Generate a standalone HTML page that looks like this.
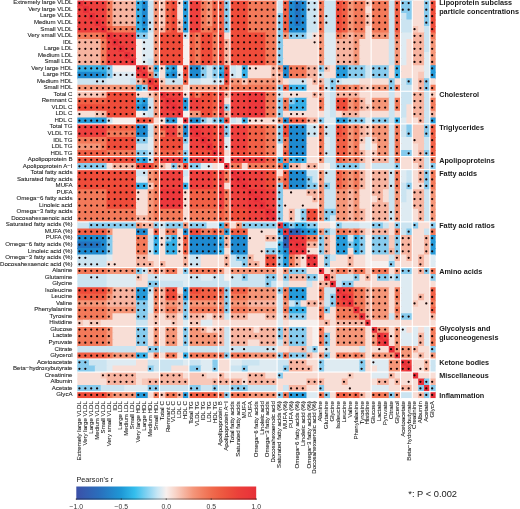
<!DOCTYPE html>
<html><head><meta charset="utf-8"><style>
html,body{margin:0;padding:0;background:#fff;width:520px;height:509px;overflow:hidden;}
</style></head><body>
<svg width="520" height="509" viewBox="0 0 520 509" style="display:block;will-change:transform">
<rect width="520" height="509" fill="#ffffff"/>
<g>
<clipPath id="hm"><rect x="77.20" y="0.5" width="358.60" height="397.67"/></clipPath>
<g clip-path="url(#hm)">
<path d="M77.2 -0.16h6.88v7.53h-6.88z" fill="#e8303a"/>
<path d="M83.08 -0.16h24.51v7.53h-24.51z" fill="#ee403e"/>
<path d="M106.59 -0.16h6.88v7.53h-6.88z" fill="#f37a5a"/>
<path d="M112.47 -0.16h24.51v7.53h-24.51z" fill="#f7b4a0"/>
<path d="M135.99 -0.16h6.88v7.53h-6.88z" fill="#37afe6"/>
<path d="M141.87 -0.16h6.88v7.53h-6.88z" fill="#1e8ad0"/>
<path d="M147.74 -0.16h6.88v7.53h-6.88z" fill="#cbe4f1"/>
<path d="M153.62 -0.16h6.88v7.53h-6.88z" fill="#f59678"/>
<path d="M159.5 -0.16h6.88v7.53h-6.88z" fill="#f8c8b9"/>
<path d="M165.38 -0.16h6.88v7.53h-6.88z" fill="#f16046"/>
<path d="M171.26 -0.16h6.88v7.53h-6.88z" fill="#ef4c3a"/>
<path d="M177.14 -0.16h6.88v7.53h-6.88z" fill="#f8ded6"/>
<path d="M183.02 -0.16h6.88v7.53h-6.88z" fill="#269bda"/>
<path d="M188.9 -0.16h12.76v7.53h-12.76z" fill="#ee403e"/>
<path d="M200.65 -0.16h6.88v7.53h-6.88z" fill="#f37a5a"/>
<path d="M206.53 -0.16h6.88v7.53h-6.88z" fill="#f59678"/>
<path d="M212.41 -0.16h12.76v7.53h-12.76z" fill="#f16046"/>
<path d="M224.17 -0.16h6.88v7.53h-6.88z" fill="#87cbed"/>
<path d="M230.05 -0.16h18.64v7.53h-18.64z" fill="#ef4c3a"/>
<path d="M247.68 -0.16h30.39v7.53h-30.39z" fill="#f37a5a"/>
<path d="M277.08 -0.16h6.88v7.53h-6.88z" fill="#cbe4f1"/>
<path d="M282.95 -0.16h6.88v7.53h-6.88z" fill="#f16046"/>
<path d="M288.83 -0.16h6.88v7.53h-6.88z" fill="#1e8ad0"/>
<path d="M294.71 -0.16h6.88v7.53h-6.88z" fill="#2373c0"/>
<path d="M300.59 -0.16h6.88v7.53h-6.88z" fill="#1e8ad0"/>
<path d="M306.47 -0.16h12.76v7.53h-12.76z" fill="#cbe4f1"/>
<path d="M318.23 -0.16h6.88v7.53h-6.88z" fill="#f37a5a"/>
<path d="M324.1 -0.16h12.76v7.53h-12.76z" fill="#cbe4f1"/>
<path d="M335.86 -0.16h6.88v7.53h-6.88z" fill="#ef4c3a"/>
<path d="M341.74 -0.16h6.88v7.53h-6.88z" fill="#f16046"/>
<path d="M347.62 -0.16h6.88v7.53h-6.88z" fill="#f59678"/>
<path d="M353.5 -0.16h12.76v7.53h-12.76z" fill="#f37a5a"/>
<path d="M365.26 -0.16h6.88v7.53h-6.88z" fill="#f8c8b9"/>
<path d="M371.13 -0.16h18.64v7.53h-18.64z" fill="#f37a5a"/>
<path d="M388.77 -0.16h6.88v7.53h-6.88z" fill="#cbe4f1"/>
<path d="M394.65 -0.16h6.88v7.53h-6.88z" fill="#f16046"/>
<path d="M400.53 -0.16h12.76v7.53h-12.76z" fill="#87cbed"/>
<path d="M412.29 -0.16h12.76v7.53h-12.76z" fill="#f8ded6"/>
<path d="M424.04 -0.16h6.88v7.53h-6.88z" fill="#87cbed"/>
<path d="M429.92 -0.16h5.88v7.53h-5.88z" fill="#ef4c3a"/>
<path d="M77.2 6.37h6.88v7.53h-6.88z" fill="#ee403e"/>
<path d="M83.08 6.37h6.88v7.53h-6.88z" fill="#e8303a"/>
<path d="M88.96 6.37h18.64v7.53h-18.64z" fill="#ee403e"/>
<path d="M106.59 6.37h6.88v7.53h-6.88z" fill="#f37a5a"/>
<path d="M112.47 6.37h24.51v7.53h-24.51z" fill="#f7b4a0"/>
<path d="M135.99 6.37h6.88v7.53h-6.88z" fill="#37afe6"/>
<path d="M141.87 6.37h6.88v7.53h-6.88z" fill="#1e8ad0"/>
<path d="M147.74 6.37h6.88v7.53h-6.88z" fill="#cbe4f1"/>
<path d="M153.62 6.37h6.88v7.53h-6.88z" fill="#f59678"/>
<path d="M159.5 6.37h6.88v7.53h-6.88z" fill="#f8c8b9"/>
<path d="M165.38 6.37h6.88v7.53h-6.88z" fill="#f16046"/>
<path d="M171.26 6.37h6.88v7.53h-6.88z" fill="#ef4c3a"/>
<path d="M177.14 6.37h6.88v7.53h-6.88z" fill="#f8ded6"/>
<path d="M183.02 6.37h6.88v7.53h-6.88z" fill="#269bda"/>
<path d="M188.9 6.37h12.76v7.53h-12.76z" fill="#ee403e"/>
<path d="M200.65 6.37h6.88v7.53h-6.88z" fill="#f37a5a"/>
<path d="M206.53 6.37h6.88v7.53h-6.88z" fill="#f59678"/>
<path d="M212.41 6.37h12.76v7.53h-12.76z" fill="#f16046"/>
<path d="M224.17 6.37h6.88v7.53h-6.88z" fill="#87cbed"/>
<path d="M230.05 6.37h18.64v7.53h-18.64z" fill="#ef4c3a"/>
<path d="M247.68 6.37h30.39v7.53h-30.39z" fill="#f37a5a"/>
<path d="M277.08 6.37h6.88v7.53h-6.88z" fill="#cbe4f1"/>
<path d="M282.95 6.37h6.88v7.53h-6.88z" fill="#f16046"/>
<path d="M288.83 6.37h6.88v7.53h-6.88z" fill="#1e8ad0"/>
<path d="M294.71 6.37h6.88v7.53h-6.88z" fill="#2373c0"/>
<path d="M300.59 6.37h6.88v7.53h-6.88z" fill="#1e8ad0"/>
<path d="M306.47 6.37h12.76v7.53h-12.76z" fill="#cbe4f1"/>
<path d="M318.23 6.37h6.88v7.53h-6.88z" fill="#f37a5a"/>
<path d="M324.1 6.37h12.76v7.53h-12.76z" fill="#cbe4f1"/>
<path d="M335.86 6.37h6.88v7.53h-6.88z" fill="#ef4c3a"/>
<path d="M341.74 6.37h6.88v7.53h-6.88z" fill="#f16046"/>
<path d="M347.62 6.37h6.88v7.53h-6.88z" fill="#f59678"/>
<path d="M353.5 6.37h12.76v7.53h-12.76z" fill="#f37a5a"/>
<path d="M365.26 6.37h6.88v7.53h-6.88z" fill="#f8ded6"/>
<path d="M371.13 6.37h18.64v7.53h-18.64z" fill="#f37a5a"/>
<path d="M388.77 6.37h6.88v7.53h-6.88z" fill="#cbe4f1"/>
<path d="M394.65 6.37h6.88v7.53h-6.88z" fill="#f16046"/>
<path d="M400.53 6.37h12.76v7.53h-12.76z" fill="#87cbed"/>
<path d="M412.29 6.37h12.76v7.53h-12.76z" fill="#f8ded6"/>
<path d="M424.04 6.37h6.88v7.53h-6.88z" fill="#87cbed"/>
<path d="M429.92 6.37h5.88v7.53h-5.88z" fill="#ef4c3a"/>
<path d="M77.2 12.9h12.76v7.53h-12.76z" fill="#ee403e"/>
<path d="M88.96 12.9h6.88v7.53h-6.88z" fill="#e8303a"/>
<path d="M94.84 12.9h12.76v7.53h-12.76z" fill="#ee403e"/>
<path d="M106.59 12.9h6.88v7.53h-6.88z" fill="#f37a5a"/>
<path d="M112.47 12.9h24.51v7.53h-24.51z" fill="#f7b4a0"/>
<path d="M135.99 12.9h6.88v7.53h-6.88z" fill="#37afe6"/>
<path d="M141.87 12.9h6.88v7.53h-6.88z" fill="#1e8ad0"/>
<path d="M147.74 12.9h6.88v7.53h-6.88z" fill="#cbe4f1"/>
<path d="M153.62 12.9h6.88v7.53h-6.88z" fill="#f59678"/>
<path d="M159.5 12.9h6.88v7.53h-6.88z" fill="#f8c8b9"/>
<path d="M165.38 12.9h6.88v7.53h-6.88z" fill="#f16046"/>
<path d="M171.26 12.9h6.88v7.53h-6.88z" fill="#ef4c3a"/>
<path d="M177.14 12.9h6.88v7.53h-6.88z" fill="#f8ded6"/>
<path d="M183.02 12.9h6.88v7.53h-6.88z" fill="#269bda"/>
<path d="M188.9 12.9h12.76v7.53h-12.76z" fill="#ee403e"/>
<path d="M200.65 12.9h6.88v7.53h-6.88z" fill="#f37a5a"/>
<path d="M206.53 12.9h6.88v7.53h-6.88z" fill="#f59678"/>
<path d="M212.41 12.9h12.76v7.53h-12.76z" fill="#f16046"/>
<path d="M224.17 12.9h6.88v7.53h-6.88z" fill="#87cbed"/>
<path d="M230.05 12.9h18.64v7.53h-18.64z" fill="#ef4c3a"/>
<path d="M247.68 12.9h30.39v7.53h-30.39z" fill="#f37a5a"/>
<path d="M277.08 12.9h6.88v7.53h-6.88z" fill="#87cbed"/>
<path d="M282.95 12.9h6.88v7.53h-6.88z" fill="#f16046"/>
<path d="M288.83 12.9h6.88v7.53h-6.88z" fill="#1e8ad0"/>
<path d="M294.71 12.9h6.88v7.53h-6.88z" fill="#2373c0"/>
<path d="M300.59 12.9h6.88v7.53h-6.88z" fill="#1e8ad0"/>
<path d="M306.47 12.9h12.76v7.53h-12.76z" fill="#cbe4f1"/>
<path d="M318.23 12.9h6.88v7.53h-6.88z" fill="#f37a5a"/>
<path d="M324.1 12.9h12.76v7.53h-12.76z" fill="#cbe4f1"/>
<path d="M335.86 12.9h6.88v7.53h-6.88z" fill="#ef4c3a"/>
<path d="M341.74 12.9h6.88v7.53h-6.88z" fill="#f16046"/>
<path d="M347.62 12.9h6.88v7.53h-6.88z" fill="#f59678"/>
<path d="M353.5 12.9h12.76v7.53h-12.76z" fill="#f37a5a"/>
<path d="M365.26 12.9h6.88v7.53h-6.88z" fill="#f8c8b9"/>
<path d="M371.13 12.9h18.64v7.53h-18.64z" fill="#f37a5a"/>
<path d="M388.77 12.9h6.88v7.53h-6.88z" fill="#cbe4f1"/>
<path d="M394.65 12.9h6.88v7.53h-6.88z" fill="#f16046"/>
<path d="M400.53 12.9h6.88v7.53h-6.88z" fill="#cbe4f1"/>
<path d="M406.41 12.9h6.88v7.53h-6.88z" fill="#87cbed"/>
<path d="M412.29 12.9h12.76v7.53h-12.76z" fill="#f8ded6"/>
<path d="M424.04 12.9h6.88v7.53h-6.88z" fill="#87cbed"/>
<path d="M429.92 12.9h5.88v7.53h-5.88z" fill="#ef4c3a"/>
<path d="M77.2 19.43h18.64v7.53h-18.64z" fill="#ee403e"/>
<path d="M94.84 19.43h6.88v7.53h-6.88z" fill="#e8303a"/>
<path d="M100.71 19.43h6.88v7.53h-6.88z" fill="#ee403e"/>
<path d="M106.59 19.43h6.88v7.53h-6.88z" fill="#f37a5a"/>
<path d="M112.47 19.43h24.51v7.53h-24.51z" fill="#f7b4a0"/>
<path d="M135.99 19.43h6.88v7.53h-6.88z" fill="#37afe6"/>
<path d="M141.87 19.43h6.88v7.53h-6.88z" fill="#1e8ad0"/>
<path d="M147.74 19.43h6.88v7.53h-6.88z" fill="#cbe4f1"/>
<path d="M153.62 19.43h6.88v7.53h-6.88z" fill="#f59678"/>
<path d="M159.5 19.43h6.88v7.53h-6.88z" fill="#f8c8b9"/>
<path d="M165.38 19.43h6.88v7.53h-6.88z" fill="#f16046"/>
<path d="M171.26 19.43h6.88v7.53h-6.88z" fill="#ef4c3a"/>
<path d="M177.14 19.43h6.88v7.53h-6.88z" fill="#f8c8b9"/>
<path d="M183.02 19.43h6.88v7.53h-6.88z" fill="#269bda"/>
<path d="M188.9 19.43h12.76v7.53h-12.76z" fill="#ee403e"/>
<path d="M200.65 19.43h6.88v7.53h-6.88z" fill="#f37a5a"/>
<path d="M206.53 19.43h6.88v7.53h-6.88z" fill="#f59678"/>
<path d="M212.41 19.43h12.76v7.53h-12.76z" fill="#f16046"/>
<path d="M224.17 19.43h6.88v7.53h-6.88z" fill="#87cbed"/>
<path d="M230.05 19.43h18.64v7.53h-18.64z" fill="#ef4c3a"/>
<path d="M247.68 19.43h30.39v7.53h-30.39z" fill="#f37a5a"/>
<path d="M277.08 19.43h6.88v7.53h-6.88z" fill="#87cbed"/>
<path d="M282.95 19.43h6.88v7.53h-6.88z" fill="#f16046"/>
<path d="M288.83 19.43h6.88v7.53h-6.88z" fill="#1e8ad0"/>
<path d="M294.71 19.43h6.88v7.53h-6.88z" fill="#2373c0"/>
<path d="M300.59 19.43h6.88v7.53h-6.88z" fill="#1e8ad0"/>
<path d="M306.47 19.43h12.76v7.53h-12.76z" fill="#cbe4f1"/>
<path d="M318.23 19.43h6.88v7.53h-6.88z" fill="#f37a5a"/>
<path d="M324.1 19.43h12.76v7.53h-12.76z" fill="#cbe4f1"/>
<path d="M335.86 19.43h6.88v7.53h-6.88z" fill="#ef4c3a"/>
<path d="M341.74 19.43h6.88v7.53h-6.88z" fill="#f16046"/>
<path d="M347.62 19.43h6.88v7.53h-6.88z" fill="#f59678"/>
<path d="M353.5 19.43h12.76v7.53h-12.76z" fill="#f37a5a"/>
<path d="M365.26 19.43h6.88v7.53h-6.88z" fill="#f8c8b9"/>
<path d="M371.13 19.43h18.64v7.53h-18.64z" fill="#f37a5a"/>
<path d="M388.77 19.43h6.88v7.53h-6.88z" fill="#cbe4f1"/>
<path d="M394.65 19.43h6.88v7.53h-6.88z" fill="#f16046"/>
<path d="M400.53 19.43h12.76v7.53h-12.76z" fill="#cbe4f1"/>
<path d="M412.29 19.43h12.76v7.53h-12.76z" fill="#f8ded6"/>
<path d="M424.04 19.43h6.88v7.53h-6.88z" fill="#87cbed"/>
<path d="M429.92 19.43h5.88v7.53h-5.88z" fill="#ef4c3a"/>
<path d="M77.2 25.96h24.51v7.53h-24.51z" fill="#ee403e"/>
<path d="M100.71 25.96h6.88v7.53h-6.88z" fill="#e8303a"/>
<path d="M106.59 25.96h6.88v7.53h-6.88z" fill="#f16046"/>
<path d="M112.47 25.96h24.51v7.53h-24.51z" fill="#f37a5a"/>
<path d="M135.99 25.96h6.88v7.53h-6.88z" fill="#37afe6"/>
<path d="M141.87 25.96h6.88v7.53h-6.88z" fill="#269bda"/>
<path d="M147.74 25.96h6.88v7.53h-6.88z" fill="#cbe4f1"/>
<path d="M153.62 25.96h6.88v7.53h-6.88z" fill="#f59678"/>
<path d="M159.5 25.96h6.88v7.53h-6.88z" fill="#f7b4a0"/>
<path d="M165.38 25.96h6.88v7.53h-6.88z" fill="#f16046"/>
<path d="M171.26 25.96h6.88v7.53h-6.88z" fill="#ef4c3a"/>
<path d="M177.14 25.96h6.88v7.53h-6.88z" fill="#f7b4a0"/>
<path d="M183.02 25.96h6.88v7.53h-6.88z" fill="#269bda"/>
<path d="M188.9 25.96h12.76v7.53h-12.76z" fill="#ee403e"/>
<path d="M200.65 25.96h12.76v7.53h-12.76z" fill="#f37a5a"/>
<path d="M212.41 25.96h12.76v7.53h-12.76z" fill="#f16046"/>
<path d="M224.17 25.96h6.88v7.53h-6.88z" fill="#87cbed"/>
<path d="M230.05 25.96h18.64v7.53h-18.64z" fill="#ef4c3a"/>
<path d="M247.68 25.96h30.39v7.53h-30.39z" fill="#f37a5a"/>
<path d="M277.08 25.96h6.88v7.53h-6.88z" fill="#87cbed"/>
<path d="M282.95 25.96h6.88v7.53h-6.88z" fill="#f16046"/>
<path d="M288.83 25.96h18.64v7.53h-18.64z" fill="#1e8ad0"/>
<path d="M306.47 25.96h12.76v7.53h-12.76z" fill="#cbe4f1"/>
<path d="M318.23 25.96h6.88v7.53h-6.88z" fill="#f37a5a"/>
<path d="M324.1 25.96h12.76v7.53h-12.76z" fill="#cbe4f1"/>
<path d="M335.86 25.96h6.88v7.53h-6.88z" fill="#ef4c3a"/>
<path d="M341.74 25.96h6.88v7.53h-6.88z" fill="#f16046"/>
<path d="M347.62 25.96h6.88v7.53h-6.88z" fill="#f59678"/>
<path d="M353.5 25.96h12.76v7.53h-12.76z" fill="#f37a5a"/>
<path d="M365.26 25.96h6.88v7.53h-6.88z" fill="#f8ded6"/>
<path d="M371.13 25.96h18.64v7.53h-18.64z" fill="#f37a5a"/>
<path d="M388.77 25.96h6.88v7.53h-6.88z" fill="#cbe4f1"/>
<path d="M394.65 25.96h6.88v7.53h-6.88z" fill="#f16046"/>
<path d="M400.53 25.96h12.76v7.53h-12.76z" fill="#cbe4f1"/>
<path d="M412.29 25.96h6.88v7.53h-6.88z" fill="#f8c8b9"/>
<path d="M418.16 25.96h6.88v7.53h-6.88z" fill="#f8ded6"/>
<path d="M424.04 25.96h6.88v7.53h-6.88z" fill="#cbe4f1"/>
<path d="M429.92 25.96h5.88v7.53h-5.88z" fill="#ef4c3a"/>
<path d="M77.2 32.49h24.51v7.53h-24.51z" fill="#f37a5a"/>
<path d="M100.71 32.49h6.88v7.53h-6.88z" fill="#f16046"/>
<path d="M106.59 32.49h6.88v7.53h-6.88z" fill="#e8303a"/>
<path d="M112.47 32.49h24.51v7.53h-24.51z" fill="#ee403e"/>
<path d="M135.99 32.49h12.76v7.53h-12.76z" fill="#87cbed"/>
<path d="M147.74 32.49h6.88v7.53h-6.88z" fill="#deebf2"/>
<path d="M153.62 32.49h6.88v7.53h-6.88z" fill="#f59678"/>
<path d="M159.5 32.49h24.51v7.53h-24.51z" fill="#ef4c3a"/>
<path d="M183.02 32.49h6.88v7.53h-6.88z" fill="#cbe4f1"/>
<path d="M188.9 32.49h6.88v7.53h-6.88z" fill="#f16046"/>
<path d="M194.77 32.49h6.88v7.53h-6.88z" fill="#f37a5a"/>
<path d="M200.65 32.49h12.76v7.53h-12.76z" fill="#ef4c3a"/>
<path d="M212.41 32.49h6.88v7.53h-6.88z" fill="#f37a5a"/>
<path d="M218.29 32.49h6.88v7.53h-6.88z" fill="#ef4c3a"/>
<path d="M224.17 32.49h6.88v7.53h-6.88z" fill="#f8ded6"/>
<path d="M230.05 32.49h36.27v7.53h-36.27z" fill="#ef4c3a"/>
<path d="M265.32 32.49h12.76v7.53h-12.76z" fill="#f37a5a"/>
<path d="M277.08 32.49h6.88v7.53h-6.88z" fill="#87cbed"/>
<path d="M282.95 32.49h6.88v7.53h-6.88z" fill="#f59678"/>
<path d="M288.83 32.49h18.64v7.53h-18.64z" fill="#87cbed"/>
<path d="M306.47 32.49h6.88v7.53h-6.88z" fill="#deebf2"/>
<path d="M312.35 32.49h6.88v7.53h-6.88z" fill="#f8ded6"/>
<path d="M318.23 32.49h6.88v7.53h-6.88z" fill="#f59678"/>
<path d="M324.1 32.49h12.76v7.53h-12.76z" fill="#deebf2"/>
<path d="M335.86 32.49h6.88v7.53h-6.88z" fill="#f37a5a"/>
<path d="M341.74 32.49h6.88v7.53h-6.88z" fill="#f59678"/>
<path d="M347.62 32.49h6.88v7.53h-6.88z" fill="#f7b4a0"/>
<path d="M353.5 32.49h12.76v7.53h-12.76z" fill="#f59678"/>
<path d="M365.26 32.49h6.88v7.53h-6.88z" fill="#f8ded6"/>
<path d="M371.13 32.49h18.64v7.53h-18.64z" fill="#f59678"/>
<path d="M388.77 32.49h6.88v7.53h-6.88z" fill="#cbe4f1"/>
<path d="M394.65 32.49h6.88v7.53h-6.88z" fill="#f37a5a"/>
<path d="M400.53 32.49h12.76v7.53h-12.76z" fill="#deebf2"/>
<path d="M412.29 32.49h12.76v7.53h-12.76z" fill="#f7b4a0"/>
<path d="M424.04 32.49h6.88v7.53h-6.88z" fill="#cbe4f1"/>
<path d="M429.92 32.49h5.88v7.53h-5.88z" fill="#f37a5a"/>
<path d="M77.2 39.02h24.51v7.53h-24.51z" fill="#f7b4a0"/>
<path d="M100.71 39.02h6.88v7.53h-6.88z" fill="#f37a5a"/>
<path d="M106.59 39.02h6.88v7.53h-6.88z" fill="#ee403e"/>
<path d="M112.47 39.02h6.88v7.53h-6.88z" fill="#e8303a"/>
<path d="M118.35 39.02h18.64v7.53h-18.64z" fill="#ee403e"/>
<path d="M135.99 39.02h6.88v7.53h-6.88z" fill="#f6f0ee"/>
<path d="M141.87 39.02h12.76v7.53h-12.76z" fill="#deebf2"/>
<path d="M153.62 39.02h6.88v7.53h-6.88z" fill="#f59678"/>
<path d="M159.5 39.02h24.51v7.53h-24.51z" fill="#ef4c3a"/>
<path d="M183.02 39.02h6.88v7.53h-6.88z" fill="#f6f0ee"/>
<path d="M188.9 39.02h6.88v7.53h-6.88z" fill="#f16046"/>
<path d="M194.77 39.02h6.88v7.53h-6.88z" fill="#f37a5a"/>
<path d="M200.65 39.02h12.76v7.53h-12.76z" fill="#ef4c3a"/>
<path d="M212.41 39.02h6.88v7.53h-6.88z" fill="#f37a5a"/>
<path d="M218.29 39.02h6.88v7.53h-6.88z" fill="#ef4c3a"/>
<path d="M224.17 39.02h6.88v7.53h-6.88z" fill="#f7b4a0"/>
<path d="M230.05 39.02h36.27v7.53h-36.27z" fill="#ef4c3a"/>
<path d="M265.32 39.02h12.76v7.53h-12.76z" fill="#f37a5a"/>
<path d="M277.08 39.02h6.88v7.53h-6.88z" fill="#87cbed"/>
<path d="M282.95 39.02h36.27v7.53h-36.27z" fill="#f8ded6"/>
<path d="M318.23 39.02h6.88v7.53h-6.88z" fill="#f59678"/>
<path d="M324.1 39.02h12.76v7.53h-12.76z" fill="#deebf2"/>
<path d="M335.86 39.02h18.64v7.53h-18.64z" fill="#f7b4a0"/>
<path d="M353.5 39.02h6.88v7.53h-6.88z" fill="#f59678"/>
<path d="M359.38 39.02h30.39v7.53h-30.39z" fill="#f8ded6"/>
<path d="M388.77 39.02h6.88v7.53h-6.88z" fill="#cbe4f1"/>
<path d="M394.65 39.02h6.88v7.53h-6.88z" fill="#f59678"/>
<path d="M400.53 39.02h6.88v7.53h-6.88z" fill="#deebf2"/>
<path d="M406.41 39.02h6.88v7.53h-6.88z" fill="#f8ded6"/>
<path d="M412.29 39.02h12.76v7.53h-12.76z" fill="#f7b4a0"/>
<path d="M424.04 39.02h6.88v7.53h-6.88z" fill="#cbe4f1"/>
<path d="M429.92 39.02h5.88v7.53h-5.88z" fill="#f59678"/>
<path d="M77.2 45.55h24.51v7.53h-24.51z" fill="#f7b4a0"/>
<path d="M100.71 45.55h6.88v7.53h-6.88z" fill="#f37a5a"/>
<path d="M106.59 45.55h12.76v7.53h-12.76z" fill="#ee403e"/>
<path d="M118.35 45.55h6.88v7.53h-6.88z" fill="#e8303a"/>
<path d="M124.23 45.55h12.76v7.53h-12.76z" fill="#ee403e"/>
<path d="M135.99 45.55h6.88v7.53h-6.88z" fill="#f6f0ee"/>
<path d="M141.87 45.55h12.76v7.53h-12.76z" fill="#deebf2"/>
<path d="M153.62 45.55h6.88v7.53h-6.88z" fill="#f59678"/>
<path d="M159.5 45.55h24.51v7.53h-24.51z" fill="#ef4c3a"/>
<path d="M183.02 45.55h6.88v7.53h-6.88z" fill="#f6f0ee"/>
<path d="M188.9 45.55h6.88v7.53h-6.88z" fill="#f16046"/>
<path d="M194.77 45.55h6.88v7.53h-6.88z" fill="#f37a5a"/>
<path d="M200.65 45.55h12.76v7.53h-12.76z" fill="#ef4c3a"/>
<path d="M212.41 45.55h6.88v7.53h-6.88z" fill="#f37a5a"/>
<path d="M218.29 45.55h6.88v7.53h-6.88z" fill="#ef4c3a"/>
<path d="M224.17 45.55h6.88v7.53h-6.88z" fill="#f7b4a0"/>
<path d="M230.05 45.55h36.27v7.53h-36.27z" fill="#ef4c3a"/>
<path d="M265.32 45.55h12.76v7.53h-12.76z" fill="#f37a5a"/>
<path d="M277.08 45.55h6.88v7.53h-6.88z" fill="#87cbed"/>
<path d="M282.95 45.55h36.27v7.53h-36.27z" fill="#f8ded6"/>
<path d="M318.23 45.55h6.88v7.53h-6.88z" fill="#f59678"/>
<path d="M324.1 45.55h12.76v7.53h-12.76z" fill="#deebf2"/>
<path d="M335.86 45.55h18.64v7.53h-18.64z" fill="#f7b4a0"/>
<path d="M353.5 45.55h6.88v7.53h-6.88z" fill="#f59678"/>
<path d="M359.38 45.55h30.39v7.53h-30.39z" fill="#f8ded6"/>
<path d="M388.77 45.55h6.88v7.53h-6.88z" fill="#cbe4f1"/>
<path d="M394.65 45.55h6.88v7.53h-6.88z" fill="#f59678"/>
<path d="M400.53 45.55h6.88v7.53h-6.88z" fill="#deebf2"/>
<path d="M406.41 45.55h6.88v7.53h-6.88z" fill="#f8ded6"/>
<path d="M412.29 45.55h12.76v7.53h-12.76z" fill="#f7b4a0"/>
<path d="M424.04 45.55h6.88v7.53h-6.88z" fill="#cbe4f1"/>
<path d="M429.92 45.55h5.88v7.53h-5.88z" fill="#f59678"/>
<path d="M77.2 52.08h24.51v7.53h-24.51z" fill="#f7b4a0"/>
<path d="M100.71 52.08h6.88v7.53h-6.88z" fill="#f37a5a"/>
<path d="M106.59 52.08h18.64v7.53h-18.64z" fill="#ee403e"/>
<path d="M124.23 52.08h6.88v7.53h-6.88z" fill="#e8303a"/>
<path d="M130.11 52.08h6.88v7.53h-6.88z" fill="#ee403e"/>
<path d="M135.99 52.08h6.88v7.53h-6.88z" fill="#f6f0ee"/>
<path d="M141.87 52.08h12.76v7.53h-12.76z" fill="#deebf2"/>
<path d="M153.62 52.08h6.88v7.53h-6.88z" fill="#f59678"/>
<path d="M159.5 52.08h24.51v7.53h-24.51z" fill="#ef4c3a"/>
<path d="M183.02 52.08h6.88v7.53h-6.88z" fill="#f6f0ee"/>
<path d="M188.9 52.08h6.88v7.53h-6.88z" fill="#f16046"/>
<path d="M194.77 52.08h6.88v7.53h-6.88z" fill="#f37a5a"/>
<path d="M200.65 52.08h12.76v7.53h-12.76z" fill="#ef4c3a"/>
<path d="M212.41 52.08h6.88v7.53h-6.88z" fill="#f37a5a"/>
<path d="M218.29 52.08h6.88v7.53h-6.88z" fill="#ef4c3a"/>
<path d="M224.17 52.08h6.88v7.53h-6.88z" fill="#f7b4a0"/>
<path d="M230.05 52.08h36.27v7.53h-36.27z" fill="#ef4c3a"/>
<path d="M265.32 52.08h12.76v7.53h-12.76z" fill="#f37a5a"/>
<path d="M277.08 52.08h6.88v7.53h-6.88z" fill="#87cbed"/>
<path d="M282.95 52.08h36.27v7.53h-36.27z" fill="#f8ded6"/>
<path d="M318.23 52.08h6.88v7.53h-6.88z" fill="#f59678"/>
<path d="M324.1 52.08h12.76v7.53h-12.76z" fill="#deebf2"/>
<path d="M335.86 52.08h18.64v7.53h-18.64z" fill="#f7b4a0"/>
<path d="M353.5 52.08h6.88v7.53h-6.88z" fill="#f59678"/>
<path d="M359.38 52.08h30.39v7.53h-30.39z" fill="#f8ded6"/>
<path d="M388.77 52.08h6.88v7.53h-6.88z" fill="#cbe4f1"/>
<path d="M394.65 52.08h6.88v7.53h-6.88z" fill="#f59678"/>
<path d="M400.53 52.08h6.88v7.53h-6.88z" fill="#deebf2"/>
<path d="M406.41 52.08h6.88v7.53h-6.88z" fill="#f8ded6"/>
<path d="M412.29 52.08h12.76v7.53h-12.76z" fill="#f7b4a0"/>
<path d="M424.04 52.08h6.88v7.53h-6.88z" fill="#deebf2"/>
<path d="M429.92 52.08h5.88v7.53h-5.88z" fill="#f59678"/>
<path d="M77.2 58.61h24.51v7.53h-24.51z" fill="#f7b4a0"/>
<path d="M100.71 58.61h6.88v7.53h-6.88z" fill="#f37a5a"/>
<path d="M106.59 58.61h24.51v7.53h-24.51z" fill="#ee403e"/>
<path d="M130.11 58.61h6.88v7.53h-6.88z" fill="#e8303a"/>
<path d="M135.99 58.61h6.88v7.53h-6.88z" fill="#f6f0ee"/>
<path d="M141.87 58.61h6.88v7.53h-6.88z" fill="#deebf2"/>
<path d="M147.74 58.61h6.88v7.53h-6.88z" fill="#cbe4f1"/>
<path d="M153.62 58.61h6.88v7.53h-6.88z" fill="#f59678"/>
<path d="M159.5 58.61h24.51v7.53h-24.51z" fill="#ef4c3a"/>
<path d="M183.02 58.61h6.88v7.53h-6.88z" fill="#f6f0ee"/>
<path d="M188.9 58.61h6.88v7.53h-6.88z" fill="#f16046"/>
<path d="M194.77 58.61h6.88v7.53h-6.88z" fill="#f37a5a"/>
<path d="M200.65 58.61h12.76v7.53h-12.76z" fill="#ef4c3a"/>
<path d="M212.41 58.61h6.88v7.53h-6.88z" fill="#f37a5a"/>
<path d="M218.29 58.61h6.88v7.53h-6.88z" fill="#ef4c3a"/>
<path d="M224.17 58.61h6.88v7.53h-6.88z" fill="#f7b4a0"/>
<path d="M230.05 58.61h36.27v7.53h-36.27z" fill="#ef4c3a"/>
<path d="M265.32 58.61h12.76v7.53h-12.76z" fill="#f37a5a"/>
<path d="M277.08 58.61h6.88v7.53h-6.88z" fill="#87cbed"/>
<path d="M282.95 58.61h36.27v7.53h-36.27z" fill="#f8ded6"/>
<path d="M318.23 58.61h6.88v7.53h-6.88z" fill="#f59678"/>
<path d="M324.1 58.61h12.76v7.53h-12.76z" fill="#deebf2"/>
<path d="M335.86 58.61h18.64v7.53h-18.64z" fill="#f7b4a0"/>
<path d="M353.5 58.61h6.88v7.53h-6.88z" fill="#f59678"/>
<path d="M359.38 58.61h30.39v7.53h-30.39z" fill="#f8ded6"/>
<path d="M388.77 58.61h6.88v7.53h-6.88z" fill="#cbe4f1"/>
<path d="M394.65 58.61h6.88v7.53h-6.88z" fill="#f59678"/>
<path d="M400.53 58.61h6.88v7.53h-6.88z" fill="#deebf2"/>
<path d="M406.41 58.61h6.88v7.53h-6.88z" fill="#f8ded6"/>
<path d="M412.29 58.61h12.76v7.53h-12.76z" fill="#f7b4a0"/>
<path d="M424.04 58.61h6.88v7.53h-6.88z" fill="#deebf2"/>
<path d="M429.92 58.61h5.88v7.53h-5.88z" fill="#f59678"/>
<path d="M77.2 65.14h30.39v7.53h-30.39z" fill="#37afe6"/>
<path d="M106.59 65.14h6.88v7.53h-6.88z" fill="#87cbed"/>
<path d="M112.47 65.14h24.51v7.53h-24.51z" fill="#f6f0ee"/>
<path d="M135.99 65.14h6.88v7.53h-6.88z" fill="#e8303a"/>
<path d="M141.87 65.14h6.88v7.53h-6.88z" fill="#ee403e"/>
<path d="M147.74 65.14h6.88v7.53h-6.88z" fill="#f7b4a0"/>
<path d="M153.62 65.14h6.88v7.53h-6.88z" fill="#37afe6"/>
<path d="M159.5 65.14h6.88v7.53h-6.88z" fill="#f8ded6"/>
<path d="M165.38 65.14h6.88v7.53h-6.88z" fill="#37afe6"/>
<path d="M171.26 65.14h6.88v7.53h-6.88z" fill="#269bda"/>
<path d="M177.14 65.14h6.88v7.53h-6.88z" fill="#f6f0ee"/>
<path d="M183.02 65.14h6.88v7.53h-6.88z" fill="#ef4c3a"/>
<path d="M188.9 65.14h12.76v7.53h-12.76z" fill="#1e8ad0"/>
<path d="M200.65 65.14h6.88v7.53h-6.88z" fill="#87cbed"/>
<path d="M206.53 65.14h6.88v7.53h-6.88z" fill="#cbe4f1"/>
<path d="M212.41 65.14h6.88v7.53h-6.88z" fill="#87cbed"/>
<path d="M218.29 65.14h6.88v7.53h-6.88z" fill="#37afe6"/>
<path d="M224.17 65.14h6.88v7.53h-6.88z" fill="#ef4c3a"/>
<path d="M230.05 65.14h6.88v7.53h-6.88z" fill="#cbe4f1"/>
<path d="M235.92 65.14h6.88v7.53h-6.88z" fill="#deebf2"/>
<path d="M241.8 65.14h6.88v7.53h-6.88z" fill="#37afe6"/>
<path d="M247.68 65.14h24.51v7.53h-24.51z" fill="#f8ded6"/>
<path d="M271.2 65.14h6.88v7.53h-6.88z" fill="#f7b4a0"/>
<path d="M277.08 65.14h6.88v7.53h-6.88z" fill="#f59678"/>
<path d="M282.95 65.14h6.88v7.53h-6.88z" fill="#1e8ad0"/>
<path d="M288.83 65.14h18.64v7.53h-18.64z" fill="#f37a5a"/>
<path d="M306.47 65.14h12.76v7.53h-12.76z" fill="#f7b4a0"/>
<path d="M318.23 65.14h6.88v7.53h-6.88z" fill="#87cbed"/>
<path d="M324.1 65.14h6.88v7.53h-6.88z" fill="#f8c8b9"/>
<path d="M329.98 65.14h6.88v7.53h-6.88z" fill="#f8ded6"/>
<path d="M335.86 65.14h12.76v7.53h-12.76z" fill="#269bda"/>
<path d="M347.62 65.14h18.64v7.53h-18.64z" fill="#87cbed"/>
<path d="M365.26 65.14h6.88v7.53h-6.88z" fill="#cbe4f1"/>
<path d="M371.13 65.14h18.64v7.53h-18.64z" fill="#87cbed"/>
<path d="M388.77 65.14h6.88v7.53h-6.88z" fill="#f8ded6"/>
<path d="M394.65 65.14h6.88v7.53h-6.88z" fill="#37afe6"/>
<path d="M400.53 65.14h24.51v7.53h-24.51z" fill="#f8ded6"/>
<path d="M424.04 65.14h6.88v7.53h-6.88z" fill="#deebf2"/>
<path d="M429.92 65.14h5.88v7.53h-5.88z" fill="#269bda"/>
<path d="M77.2 71.67h24.51v7.53h-24.51z" fill="#1e8ad0"/>
<path d="M100.71 71.67h6.88v7.53h-6.88z" fill="#269bda"/>
<path d="M106.59 71.67h6.88v7.53h-6.88z" fill="#87cbed"/>
<path d="M112.47 71.67h24.51v7.53h-24.51z" fill="#deebf2"/>
<path d="M135.99 71.67h6.88v7.53h-6.88z" fill="#ee403e"/>
<path d="M141.87 71.67h6.88v7.53h-6.88z" fill="#e8303a"/>
<path d="M147.74 71.67h6.88v7.53h-6.88z" fill="#f37a5a"/>
<path d="M153.62 71.67h6.88v7.53h-6.88z" fill="#87cbed"/>
<path d="M159.5 71.67h6.88v7.53h-6.88z" fill="#f8ded6"/>
<path d="M165.38 71.67h6.88v7.53h-6.88z" fill="#269bda"/>
<path d="M171.26 71.67h6.88v7.53h-6.88z" fill="#1e8ad0"/>
<path d="M177.14 71.67h6.88v7.53h-6.88z" fill="#deebf2"/>
<path d="M183.02 71.67h6.88v7.53h-6.88z" fill="#ef4c3a"/>
<path d="M188.9 71.67h12.76v7.53h-12.76z" fill="#1e8ad0"/>
<path d="M200.65 71.67h6.88v7.53h-6.88z" fill="#87cbed"/>
<path d="M206.53 71.67h6.88v7.53h-6.88z" fill="#cbe4f1"/>
<path d="M212.41 71.67h6.88v7.53h-6.88z" fill="#87cbed"/>
<path d="M218.29 71.67h6.88v7.53h-6.88z" fill="#269bda"/>
<path d="M224.17 71.67h6.88v7.53h-6.88z" fill="#ee403e"/>
<path d="M230.05 71.67h6.88v7.53h-6.88z" fill="#cbe4f1"/>
<path d="M235.92 71.67h6.88v7.53h-6.88z" fill="#deebf2"/>
<path d="M241.8 71.67h6.88v7.53h-6.88z" fill="#37afe6"/>
<path d="M247.68 71.67h24.51v7.53h-24.51z" fill="#f8ded6"/>
<path d="M271.2 71.67h12.76v7.53h-12.76z" fill="#f7b4a0"/>
<path d="M282.95 71.67h6.88v7.53h-6.88z" fill="#1e8ad0"/>
<path d="M288.83 71.67h18.64v7.53h-18.64z" fill="#f37a5a"/>
<path d="M306.47 71.67h12.76v7.53h-12.76z" fill="#f7b4a0"/>
<path d="M318.23 71.67h6.88v7.53h-6.88z" fill="#cbe4f1"/>
<path d="M324.1 71.67h12.76v7.53h-12.76z" fill="#f8ded6"/>
<path d="M335.86 71.67h12.76v7.53h-12.76z" fill="#269bda"/>
<path d="M347.62 71.67h18.64v7.53h-18.64z" fill="#87cbed"/>
<path d="M365.26 71.67h6.88v7.53h-6.88z" fill="#cbe4f1"/>
<path d="M371.13 71.67h18.64v7.53h-18.64z" fill="#87cbed"/>
<path d="M388.77 71.67h6.88v7.53h-6.88z" fill="#f8ded6"/>
<path d="M394.65 71.67h6.88v7.53h-6.88z" fill="#37afe6"/>
<path d="M400.53 71.67h18.64v7.53h-18.64z" fill="#f8ded6"/>
<path d="M418.16 71.67h6.88v7.53h-6.88z" fill="#f8c8b9"/>
<path d="M424.04 71.67h6.88v7.53h-6.88z" fill="#deebf2"/>
<path d="M429.92 71.67h5.88v7.53h-5.88z" fill="#269bda"/>
<path d="M77.2 78.2h30.39v7.53h-30.39z" fill="#cbe4f1"/>
<path d="M106.59 78.2h24.51v7.53h-24.51z" fill="#deebf2"/>
<path d="M130.11 78.2h6.88v7.53h-6.88z" fill="#cbe4f1"/>
<path d="M135.99 78.2h6.88v7.53h-6.88z" fill="#f7b4a0"/>
<path d="M141.87 78.2h6.88v7.53h-6.88z" fill="#f37a5a"/>
<path d="M147.74 78.2h6.88v7.53h-6.88z" fill="#e8303a"/>
<path d="M153.62 78.2h6.88v7.53h-6.88z" fill="#ef4c3a"/>
<path d="M159.5 78.2h6.88v7.53h-6.88z" fill="#f8c8b9"/>
<path d="M165.38 78.2h18.64v7.53h-18.64z" fill="#cbe4f1"/>
<path d="M183.02 78.2h6.88v7.53h-6.88z" fill="#f16046"/>
<path d="M188.9 78.2h12.76v7.53h-12.76z" fill="#cbe4f1"/>
<path d="M200.65 78.2h12.76v7.53h-12.76z" fill="#deebf2"/>
<path d="M212.41 78.2h12.76v7.53h-12.76z" fill="#cbe4f1"/>
<path d="M224.17 78.2h6.88v7.53h-6.88z" fill="#ef4c3a"/>
<path d="M230.05 78.2h12.76v7.53h-12.76z" fill="#f59678"/>
<path d="M241.8 78.2h6.88v7.53h-6.88z" fill="#f8c8b9"/>
<path d="M247.68 78.2h30.39v7.53h-30.39z" fill="#f59678"/>
<path d="M277.08 78.2h6.88v7.53h-6.88z" fill="#f7b4a0"/>
<path d="M282.95 78.2h6.88v7.53h-6.88z" fill="#f8ded6"/>
<path d="M288.83 78.2h18.64v7.53h-18.64z" fill="#cbe4f1"/>
<path d="M306.47 78.2h6.88v7.53h-6.88z" fill="#f8ded6"/>
<path d="M312.35 78.2h12.76v7.53h-12.76z" fill="#f7b4a0"/>
<path d="M324.1 78.2h6.88v7.53h-6.88z" fill="#cbe4f1"/>
<path d="M329.98 78.2h6.88v7.53h-6.88z" fill="#87cbed"/>
<path d="M335.86 78.2h6.88v7.53h-6.88z" fill="#cbe4f1"/>
<path d="M341.74 78.2h18.64v7.53h-18.64z" fill="#deebf2"/>
<path d="M359.38 78.2h30.39v7.53h-30.39z" fill="#f8ded6"/>
<path d="M388.77 78.2h6.88v7.53h-6.88z" fill="#87cbed"/>
<path d="M394.65 78.2h6.88v7.53h-6.88z" fill="#f8ded6"/>
<path d="M400.53 78.2h6.88v7.53h-6.88z" fill="#cbe4f1"/>
<path d="M406.41 78.2h6.88v7.53h-6.88z" fill="#87cbed"/>
<path d="M412.29 78.2h6.88v7.53h-6.88z" fill="#f8ded6"/>
<path d="M418.16 78.2h6.88v7.53h-6.88z" fill="#f7b4a0"/>
<path d="M424.04 78.2h6.88v7.53h-6.88z" fill="#87cbed"/>
<path d="M429.92 78.2h5.88v7.53h-5.88z" fill="#f8ded6"/>
<path d="M77.2 84.73h59.79v7.53h-59.79z" fill="#f59678"/>
<path d="M135.99 84.73h6.88v7.53h-6.88z" fill="#37afe6"/>
<path d="M141.87 84.73h6.88v7.53h-6.88z" fill="#87cbed"/>
<path d="M147.74 84.73h6.88v7.53h-6.88z" fill="#ef4c3a"/>
<path d="M153.62 84.73h6.88v7.53h-6.88z" fill="#e8303a"/>
<path d="M159.5 84.73h24.51v7.53h-24.51z" fill="#f59678"/>
<path d="M183.02 84.73h6.88v7.53h-6.88z" fill="#f8ded6"/>
<path d="M188.9 84.73h30.39v7.53h-30.39z" fill="#f59678"/>
<path d="M218.29 84.73h6.88v7.53h-6.88z" fill="#f16046"/>
<path d="M224.17 84.73h53.91v7.53h-53.91z" fill="#f37a5a"/>
<path d="M277.08 84.73h6.88v7.53h-6.88z" fill="#87cbed"/>
<path d="M282.95 84.73h6.88v7.53h-6.88z" fill="#f16046"/>
<path d="M288.83 84.73h18.64v7.53h-18.64z" fill="#37afe6"/>
<path d="M306.47 84.73h12.76v7.53h-12.76z" fill="#f8ded6"/>
<path d="M318.23 84.73h6.88v7.53h-6.88z" fill="#f37a5a"/>
<path d="M324.1 84.73h6.88v7.53h-6.88z" fill="#cbe4f1"/>
<path d="M329.98 84.73h6.88v7.53h-6.88z" fill="#87cbed"/>
<path d="M335.86 84.73h12.76v7.53h-12.76z" fill="#f37a5a"/>
<path d="M347.62 84.73h6.88v7.53h-6.88z" fill="#f59678"/>
<path d="M353.5 84.73h6.88v7.53h-6.88z" fill="#f37a5a"/>
<path d="M359.38 84.73h6.88v7.53h-6.88z" fill="#f7b4a0"/>
<path d="M365.26 84.73h6.88v7.53h-6.88z" fill="#f8c8b9"/>
<path d="M371.13 84.73h18.64v7.53h-18.64z" fill="#f59678"/>
<path d="M388.77 84.73h6.88v7.53h-6.88z" fill="#87cbed"/>
<path d="M394.65 84.73h6.88v7.53h-6.88z" fill="#f37a5a"/>
<path d="M400.53 84.73h12.76v7.53h-12.76z" fill="#cbe4f1"/>
<path d="M412.29 84.73h6.88v7.53h-6.88z" fill="#f8ded6"/>
<path d="M418.16 84.73h6.88v7.53h-6.88z" fill="#f7b4a0"/>
<path d="M424.04 84.73h6.88v7.53h-6.88z" fill="#87cbed"/>
<path d="M429.92 84.73h5.88v7.53h-5.88z" fill="#f37a5a"/>
<path d="M77.2 91.26h24.51v7.53h-24.51z" fill="#f8c8b9"/>
<path d="M100.71 91.26h6.88v7.53h-6.88z" fill="#f7b4a0"/>
<path d="M106.59 91.26h30.39v7.53h-30.39z" fill="#ef4c3a"/>
<path d="M135.99 91.26h12.76v7.53h-12.76z" fill="#f8ded6"/>
<path d="M147.74 91.26h6.88v7.53h-6.88z" fill="#f8c8b9"/>
<path d="M153.62 91.26h6.88v7.53h-6.88z" fill="#f59678"/>
<path d="M159.5 91.26h6.88v7.53h-6.88z" fill="#e8303a"/>
<path d="M165.38 91.26h18.64v7.53h-18.64z" fill="#ee403e"/>
<path d="M183.02 91.26h6.88v7.53h-6.88z" fill="#f8ded6"/>
<path d="M188.9 91.26h6.88v7.53h-6.88z" fill="#ef4c3a"/>
<path d="M194.77 91.26h6.88v7.53h-6.88z" fill="#f37a5a"/>
<path d="M200.65 91.26h12.76v7.53h-12.76z" fill="#ef4c3a"/>
<path d="M212.41 91.26h6.88v7.53h-6.88z" fill="#f16046"/>
<path d="M218.29 91.26h6.88v7.53h-6.88z" fill="#ee403e"/>
<path d="M224.17 91.26h6.88v7.53h-6.88z" fill="#f7b4a0"/>
<path d="M230.05 91.26h18.64v7.53h-18.64z" fill="#ee403e"/>
<path d="M247.68 91.26h18.64v7.53h-18.64z" fill="#ec383c"/>
<path d="M265.32 91.26h12.76v7.53h-12.76z" fill="#f37a5a"/>
<path d="M277.08 91.26h6.88v7.53h-6.88z" fill="#cbe4f1"/>
<path d="M282.95 91.26h30.39v7.53h-30.39z" fill="#f8ded6"/>
<path d="M312.35 91.26h12.76v7.53h-12.76z" fill="#f7b4a0"/>
<path d="M324.1 91.26h6.88v7.53h-6.88z" fill="#deebf2"/>
<path d="M329.98 91.26h6.88v7.53h-6.88z" fill="#cbe4f1"/>
<path d="M335.86 91.26h24.51v7.53h-24.51z" fill="#f7b4a0"/>
<path d="M359.38 91.26h30.39v7.53h-30.39z" fill="#f8ded6"/>
<path d="M388.77 91.26h6.88v7.53h-6.88z" fill="#cbe4f1"/>
<path d="M394.65 91.26h6.88v7.53h-6.88z" fill="#f8ded6"/>
<path d="M400.53 91.26h12.76v7.53h-12.76z" fill="#cbe4f1"/>
<path d="M412.29 91.26h12.76v7.53h-12.76z" fill="#f7b4a0"/>
<path d="M424.04 91.26h6.88v7.53h-6.88z" fill="#cbe4f1"/>
<path d="M429.92 91.26h5.88v7.53h-5.88z" fill="#f8c8b9"/>
<path d="M77.2 97.79h30.39v7.53h-30.39z" fill="#f16046"/>
<path d="M106.59 97.79h30.39v7.53h-30.39z" fill="#ef4c3a"/>
<path d="M135.99 97.79h6.88v7.53h-6.88z" fill="#37afe6"/>
<path d="M141.87 97.79h6.88v7.53h-6.88z" fill="#269bda"/>
<path d="M147.74 97.79h6.88v7.53h-6.88z" fill="#cbe4f1"/>
<path d="M153.62 97.79h6.88v7.53h-6.88z" fill="#f59678"/>
<path d="M159.5 97.79h6.88v7.53h-6.88z" fill="#ee403e"/>
<path d="M165.38 97.79h6.88v7.53h-6.88z" fill="#e8303a"/>
<path d="M171.26 97.79h6.88v7.53h-6.88z" fill="#ec383c"/>
<path d="M177.14 97.79h6.88v7.53h-6.88z" fill="#ee403e"/>
<path d="M183.02 97.79h6.88v7.53h-6.88z" fill="#269bda"/>
<path d="M188.9 97.79h12.76v7.53h-12.76z" fill="#ee403e"/>
<path d="M200.65 97.79h12.76v7.53h-12.76z" fill="#ef4c3a"/>
<path d="M212.41 97.79h6.88v7.53h-6.88z" fill="#f16046"/>
<path d="M218.29 97.79h6.88v7.53h-6.88z" fill="#ee403e"/>
<path d="M224.17 97.79h6.88v7.53h-6.88z" fill="#f8ded6"/>
<path d="M230.05 97.79h18.64v7.53h-18.64z" fill="#ee403e"/>
<path d="M247.68 97.79h18.64v7.53h-18.64z" fill="#ec383c"/>
<path d="M265.32 97.79h12.76v7.53h-12.76z" fill="#f37a5a"/>
<path d="M277.08 97.79h6.88v7.53h-6.88z" fill="#87cbed"/>
<path d="M282.95 97.79h6.88v7.53h-6.88z" fill="#f37a5a"/>
<path d="M288.83 97.79h6.88v7.53h-6.88z" fill="#87cbed"/>
<path d="M294.71 97.79h12.76v7.53h-12.76z" fill="#37afe6"/>
<path d="M306.47 97.79h12.76v7.53h-12.76z" fill="#f8ded6"/>
<path d="M318.23 97.79h6.88v7.53h-6.88z" fill="#f37a5a"/>
<path d="M324.1 97.79h6.88v7.53h-6.88z" fill="#deebf2"/>
<path d="M329.98 97.79h6.88v7.53h-6.88z" fill="#cbe4f1"/>
<path d="M335.86 97.79h12.76v7.53h-12.76z" fill="#ef4c3a"/>
<path d="M347.62 97.79h6.88v7.53h-6.88z" fill="#f59678"/>
<path d="M353.5 97.79h6.88v7.53h-6.88z" fill="#f37a5a"/>
<path d="M359.38 97.79h6.88v7.53h-6.88z" fill="#f7b4a0"/>
<path d="M365.26 97.79h6.88v7.53h-6.88z" fill="#f8ded6"/>
<path d="M371.13 97.79h18.64v7.53h-18.64z" fill="#f59678"/>
<path d="M388.77 97.79h6.88v7.53h-6.88z" fill="#cbe4f1"/>
<path d="M394.65 97.79h6.88v7.53h-6.88z" fill="#f37a5a"/>
<path d="M400.53 97.79h12.76v7.53h-12.76z" fill="#cbe4f1"/>
<path d="M412.29 97.79h12.76v7.53h-12.76z" fill="#f7b4a0"/>
<path d="M424.04 97.79h6.88v7.53h-6.88z" fill="#cbe4f1"/>
<path d="M429.92 97.79h5.88v7.53h-5.88z" fill="#f37a5a"/>
<path d="M77.2 104.32h59.79v7.53h-59.79z" fill="#ef4c3a"/>
<path d="M135.99 104.32h6.88v7.53h-6.88z" fill="#269bda"/>
<path d="M141.87 104.32h6.88v7.53h-6.88z" fill="#1e8ad0"/>
<path d="M147.74 104.32h6.88v7.53h-6.88z" fill="#cbe4f1"/>
<path d="M153.62 104.32h6.88v7.53h-6.88z" fill="#f59678"/>
<path d="M159.5 104.32h6.88v7.53h-6.88z" fill="#ee403e"/>
<path d="M165.38 104.32h6.88v7.53h-6.88z" fill="#ec383c"/>
<path d="M171.26 104.32h6.88v7.53h-6.88z" fill="#e8303a"/>
<path d="M177.14 104.32h6.88v7.53h-6.88z" fill="#ee403e"/>
<path d="M183.02 104.32h6.88v7.53h-6.88z" fill="#269bda"/>
<path d="M188.9 104.32h12.76v7.53h-12.76z" fill="#ee403e"/>
<path d="M200.65 104.32h12.76v7.53h-12.76z" fill="#ef4c3a"/>
<path d="M212.41 104.32h6.88v7.53h-6.88z" fill="#f16046"/>
<path d="M218.29 104.32h6.88v7.53h-6.88z" fill="#ee403e"/>
<path d="M224.17 104.32h6.88v7.53h-6.88z" fill="#87cbed"/>
<path d="M230.05 104.32h18.64v7.53h-18.64z" fill="#ee403e"/>
<path d="M247.68 104.32h18.64v7.53h-18.64z" fill="#ec383c"/>
<path d="M265.32 104.32h12.76v7.53h-12.76z" fill="#f37a5a"/>
<path d="M277.08 104.32h6.88v7.53h-6.88z" fill="#87cbed"/>
<path d="M282.95 104.32h6.88v7.53h-6.88z" fill="#f37a5a"/>
<path d="M288.83 104.32h18.64v7.53h-18.64z" fill="#37afe6"/>
<path d="M306.47 104.32h12.76v7.53h-12.76z" fill="#f8ded6"/>
<path d="M318.23 104.32h6.88v7.53h-6.88z" fill="#f37a5a"/>
<path d="M324.1 104.32h6.88v7.53h-6.88z" fill="#deebf2"/>
<path d="M329.98 104.32h6.88v7.53h-6.88z" fill="#cbe4f1"/>
<path d="M335.86 104.32h12.76v7.53h-12.76z" fill="#ef4c3a"/>
<path d="M347.62 104.32h6.88v7.53h-6.88z" fill="#f59678"/>
<path d="M353.5 104.32h6.88v7.53h-6.88z" fill="#f37a5a"/>
<path d="M359.38 104.32h6.88v7.53h-6.88z" fill="#f7b4a0"/>
<path d="M365.26 104.32h6.88v7.53h-6.88z" fill="#f8c8b9"/>
<path d="M371.13 104.32h18.64v7.53h-18.64z" fill="#f59678"/>
<path d="M388.77 104.32h6.88v7.53h-6.88z" fill="#cbe4f1"/>
<path d="M394.65 104.32h6.88v7.53h-6.88z" fill="#f37a5a"/>
<path d="M400.53 104.32h6.88v7.53h-6.88z" fill="#cbe4f1"/>
<path d="M406.41 104.32h6.88v7.53h-6.88z" fill="#f8ded6"/>
<path d="M412.29 104.32h12.76v7.53h-12.76z" fill="#f7b4a0"/>
<path d="M424.04 104.32h6.88v7.53h-6.88z" fill="#cbe4f1"/>
<path d="M429.92 104.32h5.88v7.53h-5.88z" fill="#f37a5a"/>
<path d="M77.2 110.85h18.64v7.53h-18.64z" fill="#f8ded6"/>
<path d="M94.84 110.85h6.88v7.53h-6.88z" fill="#f8c8b9"/>
<path d="M100.71 110.85h6.88v7.53h-6.88z" fill="#f7b4a0"/>
<path d="M106.59 110.85h30.39v7.53h-30.39z" fill="#ef4c3a"/>
<path d="M135.99 110.85h6.88v7.53h-6.88z" fill="#f6f0ee"/>
<path d="M141.87 110.85h6.88v7.53h-6.88z" fill="#deebf2"/>
<path d="M147.74 110.85h6.88v7.53h-6.88z" fill="#cbe4f1"/>
<path d="M153.62 110.85h6.88v7.53h-6.88z" fill="#f59678"/>
<path d="M159.5 110.85h18.64v7.53h-18.64z" fill="#ee403e"/>
<path d="M177.14 110.85h6.88v7.53h-6.88z" fill="#e8303a"/>
<path d="M183.02 110.85h6.88v7.53h-6.88z" fill="#f6f0ee"/>
<path d="M188.9 110.85h12.76v7.53h-12.76z" fill="#f59678"/>
<path d="M200.65 110.85h12.76v7.53h-12.76z" fill="#ef4c3a"/>
<path d="M212.41 110.85h6.88v7.53h-6.88z" fill="#f37a5a"/>
<path d="M218.29 110.85h6.88v7.53h-6.88z" fill="#ee403e"/>
<path d="M224.17 110.85h6.88v7.53h-6.88z" fill="#f7b4a0"/>
<path d="M230.05 110.85h18.64v7.53h-18.64z" fill="#ee403e"/>
<path d="M247.68 110.85h18.64v7.53h-18.64z" fill="#ec383c"/>
<path d="M265.32 110.85h12.76v7.53h-12.76z" fill="#f37a5a"/>
<path d="M277.08 110.85h6.88v7.53h-6.88z" fill="#87cbed"/>
<path d="M282.95 110.85h42.15v7.53h-42.15z" fill="#f8ded6"/>
<path d="M324.1 110.85h6.88v7.53h-6.88z" fill="#deebf2"/>
<path d="M329.98 110.85h6.88v7.53h-6.88z" fill="#cbe4f1"/>
<path d="M335.86 110.85h6.88v7.53h-6.88z" fill="#f8ded6"/>
<path d="M341.74 110.85h18.64v7.53h-18.64z" fill="#f7b4a0"/>
<path d="M359.38 110.85h30.39v7.53h-30.39z" fill="#f8ded6"/>
<path d="M388.77 110.85h6.88v7.53h-6.88z" fill="#cbe4f1"/>
<path d="M394.65 110.85h6.88v7.53h-6.88z" fill="#f8ded6"/>
<path d="M400.53 110.85h6.88v7.53h-6.88z" fill="#cbe4f1"/>
<path d="M406.41 110.85h6.88v7.53h-6.88z" fill="#f8ded6"/>
<path d="M412.29 110.85h12.76v7.53h-12.76z" fill="#f7b4a0"/>
<path d="M424.04 110.85h6.88v7.53h-6.88z" fill="#cbe4f1"/>
<path d="M429.92 110.85h5.88v7.53h-5.88z" fill="#f7b4a0"/>
<path d="M77.2 117.38h30.39v7.53h-30.39z" fill="#269bda"/>
<path d="M106.59 117.38h6.88v7.53h-6.88z" fill="#cbe4f1"/>
<path d="M112.47 117.38h24.51v7.53h-24.51z" fill="#f6f0ee"/>
<path d="M135.99 117.38h12.76v7.53h-12.76z" fill="#ef4c3a"/>
<path d="M147.74 117.38h6.88v7.53h-6.88z" fill="#f16046"/>
<path d="M153.62 117.38h12.76v7.53h-12.76z" fill="#f8ded6"/>
<path d="M165.38 117.38h12.76v7.53h-12.76z" fill="#269bda"/>
<path d="M177.14 117.38h6.88v7.53h-6.88z" fill="#f6f0ee"/>
<path d="M183.02 117.38h6.88v7.53h-6.88z" fill="#e8303a"/>
<path d="M188.9 117.38h12.76v7.53h-12.76z" fill="#1e8ad0"/>
<path d="M200.65 117.38h6.88v7.53h-6.88z" fill="#87cbed"/>
<path d="M206.53 117.38h6.88v7.53h-6.88z" fill="#cbe4f1"/>
<path d="M212.41 117.38h6.88v7.53h-6.88z" fill="#87cbed"/>
<path d="M218.29 117.38h6.88v7.53h-6.88z" fill="#37afe6"/>
<path d="M224.17 117.38h6.88v7.53h-6.88z" fill="#ef4c3a"/>
<path d="M230.05 117.38h6.88v7.53h-6.88z" fill="#cbe4f1"/>
<path d="M235.92 117.38h6.88v7.53h-6.88z" fill="#deebf2"/>
<path d="M241.8 117.38h6.88v7.53h-6.88z" fill="#37afe6"/>
<path d="M247.68 117.38h30.39v7.53h-30.39z" fill="#f8ded6"/>
<path d="M277.08 117.38h6.88v7.53h-6.88z" fill="#f59678"/>
<path d="M282.95 117.38h6.88v7.53h-6.88z" fill="#1e8ad0"/>
<path d="M288.83 117.38h18.64v7.53h-18.64z" fill="#f16046"/>
<path d="M306.47 117.38h12.76v7.53h-12.76z" fill="#f7b4a0"/>
<path d="M318.23 117.38h6.88v7.53h-6.88z" fill="#87cbed"/>
<path d="M324.1 117.38h12.76v7.53h-12.76z" fill="#deebf2"/>
<path d="M335.86 117.38h12.76v7.53h-12.76z" fill="#269bda"/>
<path d="M347.62 117.38h18.64v7.53h-18.64z" fill="#87cbed"/>
<path d="M365.26 117.38h6.88v7.53h-6.88z" fill="#deebf2"/>
<path d="M371.13 117.38h18.64v7.53h-18.64z" fill="#87cbed"/>
<path d="M388.77 117.38h6.88v7.53h-6.88z" fill="#cbe4f1"/>
<path d="M394.65 117.38h6.88v7.53h-6.88z" fill="#37afe6"/>
<path d="M400.53 117.38h6.88v7.53h-6.88z" fill="#deebf2"/>
<path d="M406.41 117.38h12.76v7.53h-12.76z" fill="#f8ded6"/>
<path d="M418.16 117.38h6.88v7.53h-6.88z" fill="#f7b4a0"/>
<path d="M424.04 117.38h6.88v7.53h-6.88z" fill="#cbe4f1"/>
<path d="M429.92 117.38h5.88v7.53h-5.88z" fill="#269bda"/>
<path d="M77.2 123.91h30.39v7.53h-30.39z" fill="#ee403e"/>
<path d="M106.59 123.91h30.39v7.53h-30.39z" fill="#f16046"/>
<path d="M135.99 123.91h12.76v7.53h-12.76z" fill="#1e8ad0"/>
<path d="M147.74 123.91h6.88v7.53h-6.88z" fill="#cbe4f1"/>
<path d="M153.62 123.91h6.88v7.53h-6.88z" fill="#f59678"/>
<path d="M159.5 123.91h6.88v7.53h-6.88z" fill="#ef4c3a"/>
<path d="M165.38 123.91h12.76v7.53h-12.76z" fill="#ee403e"/>
<path d="M177.14 123.91h6.88v7.53h-6.88z" fill="#f59678"/>
<path d="M183.02 123.91h6.88v7.53h-6.88z" fill="#1e8ad0"/>
<path d="M188.9 123.91h6.88v7.53h-6.88z" fill="#e8303a"/>
<path d="M194.77 123.91h6.88v7.53h-6.88z" fill="#ec383c"/>
<path d="M200.65 123.91h12.76v7.53h-12.76z" fill="#ee403e"/>
<path d="M212.41 123.91h6.88v7.53h-6.88z" fill="#ef4c3a"/>
<path d="M218.29 123.91h6.88v7.53h-6.88z" fill="#ee403e"/>
<path d="M224.17 123.91h6.88v7.53h-6.88z" fill="#87cbed"/>
<path d="M230.05 123.91h18.64v7.53h-18.64z" fill="#ee403e"/>
<path d="M247.68 123.91h18.64v7.53h-18.64z" fill="#f16046"/>
<path d="M265.32 123.91h12.76v7.53h-12.76z" fill="#f37a5a"/>
<path d="M277.08 123.91h6.88v7.53h-6.88z" fill="#87cbed"/>
<path d="M282.95 123.91h6.88v7.53h-6.88z" fill="#ef4c3a"/>
<path d="M288.83 123.91h18.64v7.53h-18.64z" fill="#1e8ad0"/>
<path d="M306.47 123.91h12.76v7.53h-12.76z" fill="#cbe4f1"/>
<path d="M318.23 123.91h6.88v7.53h-6.88z" fill="#f37a5a"/>
<path d="M324.1 123.91h12.76v7.53h-12.76z" fill="#cbe4f1"/>
<path d="M335.86 123.91h6.88v7.53h-6.88z" fill="#ef4c3a"/>
<path d="M341.74 123.91h6.88v7.53h-6.88z" fill="#f16046"/>
<path d="M347.62 123.91h6.88v7.53h-6.88z" fill="#f59678"/>
<path d="M353.5 123.91h6.88v7.53h-6.88z" fill="#f37a5a"/>
<path d="M359.38 123.91h6.88v7.53h-6.88z" fill="#f7b4a0"/>
<path d="M365.26 123.91h6.88v7.53h-6.88z" fill="#f8c8b9"/>
<path d="M371.13 123.91h18.64v7.53h-18.64z" fill="#f59678"/>
<path d="M388.77 123.91h6.88v7.53h-6.88z" fill="#cbe4f1"/>
<path d="M394.65 123.91h6.88v7.53h-6.88z" fill="#f37a5a"/>
<path d="M400.53 123.91h6.88v7.53h-6.88z" fill="#cbe4f1"/>
<path d="M406.41 123.91h6.88v7.53h-6.88z" fill="#87cbed"/>
<path d="M412.29 123.91h12.76v7.53h-12.76z" fill="#f8c8b9"/>
<path d="M424.04 123.91h6.88v7.53h-6.88z" fill="#87cbed"/>
<path d="M429.92 123.91h5.88v7.53h-5.88z" fill="#f16046"/>
<path d="M77.2 130.44h30.39v7.53h-30.39z" fill="#ee403e"/>
<path d="M106.59 130.44h30.39v7.53h-30.39z" fill="#f37a5a"/>
<path d="M135.99 130.44h12.76v7.53h-12.76z" fill="#1e8ad0"/>
<path d="M147.74 130.44h6.88v7.53h-6.88z" fill="#cbe4f1"/>
<path d="M153.62 130.44h6.88v7.53h-6.88z" fill="#f59678"/>
<path d="M159.5 130.44h6.88v7.53h-6.88z" fill="#f37a5a"/>
<path d="M165.38 130.44h12.76v7.53h-12.76z" fill="#ee403e"/>
<path d="M177.14 130.44h6.88v7.53h-6.88z" fill="#f59678"/>
<path d="M183.02 130.44h6.88v7.53h-6.88z" fill="#1e8ad0"/>
<path d="M188.9 130.44h6.88v7.53h-6.88z" fill="#ec383c"/>
<path d="M194.77 130.44h6.88v7.53h-6.88z" fill="#e8303a"/>
<path d="M200.65 130.44h12.76v7.53h-12.76z" fill="#ee403e"/>
<path d="M212.41 130.44h6.88v7.53h-6.88z" fill="#ef4c3a"/>
<path d="M218.29 130.44h6.88v7.53h-6.88z" fill="#ee403e"/>
<path d="M224.17 130.44h6.88v7.53h-6.88z" fill="#87cbed"/>
<path d="M230.05 130.44h18.64v7.53h-18.64z" fill="#ee403e"/>
<path d="M247.68 130.44h18.64v7.53h-18.64z" fill="#f16046"/>
<path d="M265.32 130.44h12.76v7.53h-12.76z" fill="#f37a5a"/>
<path d="M277.08 130.44h6.88v7.53h-6.88z" fill="#87cbed"/>
<path d="M282.95 130.44h6.88v7.53h-6.88z" fill="#ef4c3a"/>
<path d="M288.83 130.44h18.64v7.53h-18.64z" fill="#1e8ad0"/>
<path d="M306.47 130.44h12.76v7.53h-12.76z" fill="#cbe4f1"/>
<path d="M318.23 130.44h6.88v7.53h-6.88z" fill="#f37a5a"/>
<path d="M324.1 130.44h12.76v7.53h-12.76z" fill="#cbe4f1"/>
<path d="M335.86 130.44h6.88v7.53h-6.88z" fill="#ef4c3a"/>
<path d="M341.74 130.44h6.88v7.53h-6.88z" fill="#f16046"/>
<path d="M347.62 130.44h6.88v7.53h-6.88z" fill="#f59678"/>
<path d="M353.5 130.44h6.88v7.53h-6.88z" fill="#f37a5a"/>
<path d="M359.38 130.44h6.88v7.53h-6.88z" fill="#f7b4a0"/>
<path d="M365.26 130.44h6.88v7.53h-6.88z" fill="#f8c8b9"/>
<path d="M371.13 130.44h18.64v7.53h-18.64z" fill="#f59678"/>
<path d="M388.77 130.44h6.88v7.53h-6.88z" fill="#cbe4f1"/>
<path d="M394.65 130.44h6.88v7.53h-6.88z" fill="#f37a5a"/>
<path d="M400.53 130.44h6.88v7.53h-6.88z" fill="#cbe4f1"/>
<path d="M406.41 130.44h6.88v7.53h-6.88z" fill="#87cbed"/>
<path d="M412.29 130.44h12.76v7.53h-12.76z" fill="#f8c8b9"/>
<path d="M424.04 130.44h6.88v7.53h-6.88z" fill="#87cbed"/>
<path d="M429.92 130.44h5.88v7.53h-5.88z" fill="#f16046"/>
<path d="M77.2 136.97h30.39v7.53h-30.39z" fill="#f37a5a"/>
<path d="M106.59 136.97h30.39v7.53h-30.39z" fill="#ef4c3a"/>
<path d="M135.99 136.97h12.76v7.53h-12.76z" fill="#87cbed"/>
<path d="M147.74 136.97h6.88v7.53h-6.88z" fill="#deebf2"/>
<path d="M153.62 136.97h6.88v7.53h-6.88z" fill="#f59678"/>
<path d="M159.5 136.97h24.51v7.53h-24.51z" fill="#ef4c3a"/>
<path d="M183.02 136.97h6.88v7.53h-6.88z" fill="#87cbed"/>
<path d="M188.9 136.97h12.76v7.53h-12.76z" fill="#ee403e"/>
<path d="M200.65 136.97h6.88v7.53h-6.88z" fill="#e8303a"/>
<path d="M206.53 136.97h6.88v7.53h-6.88z" fill="#ee403e"/>
<path d="M212.41 136.97h6.88v7.53h-6.88z" fill="#ef4c3a"/>
<path d="M218.29 136.97h6.88v7.53h-6.88z" fill="#ee403e"/>
<path d="M224.17 136.97h6.88v7.53h-6.88z" fill="#deebf2"/>
<path d="M230.05 136.97h18.64v7.53h-18.64z" fill="#ee403e"/>
<path d="M247.68 136.97h18.64v7.53h-18.64z" fill="#f16046"/>
<path d="M265.32 136.97h12.76v7.53h-12.76z" fill="#f37a5a"/>
<path d="M277.08 136.97h6.88v7.53h-6.88z" fill="#87cbed"/>
<path d="M282.95 136.97h6.88v7.53h-6.88z" fill="#f37a5a"/>
<path d="M288.83 136.97h18.64v7.53h-18.64z" fill="#1e8ad0"/>
<path d="M306.47 136.97h12.76v7.53h-12.76z" fill="#f8ded6"/>
<path d="M318.23 136.97h6.88v7.53h-6.88z" fill="#f37a5a"/>
<path d="M324.1 136.97h6.88v7.53h-6.88z" fill="#deebf2"/>
<path d="M329.98 136.97h6.88v7.53h-6.88z" fill="#cbe4f1"/>
<path d="M335.86 136.97h12.76v7.53h-12.76z" fill="#f16046"/>
<path d="M347.62 136.97h6.88v7.53h-6.88z" fill="#f59678"/>
<path d="M353.5 136.97h6.88v7.53h-6.88z" fill="#f37a5a"/>
<path d="M359.38 136.97h6.88v7.53h-6.88z" fill="#f8c8b9"/>
<path d="M365.26 136.97h6.88v7.53h-6.88z" fill="#deebf2"/>
<path d="M371.13 136.97h6.88v7.53h-6.88z" fill="#f7b4a0"/>
<path d="M377.01 136.97h12.76v7.53h-12.76z" fill="#f59678"/>
<path d="M388.77 136.97h6.88v7.53h-6.88z" fill="#cbe4f1"/>
<path d="M394.65 136.97h6.88v7.53h-6.88z" fill="#f37a5a"/>
<path d="M400.53 136.97h12.76v7.53h-12.76z" fill="#deebf2"/>
<path d="M412.29 136.97h12.76v7.53h-12.76z" fill="#f8c8b9"/>
<path d="M424.04 136.97h6.88v7.53h-6.88z" fill="#cbe4f1"/>
<path d="M429.92 136.97h5.88v7.53h-5.88z" fill="#f16046"/>
<path d="M77.2 143.5h24.51v7.53h-24.51z" fill="#f59678"/>
<path d="M100.71 143.5h6.88v7.53h-6.88z" fill="#f37a5a"/>
<path d="M106.59 143.5h30.39v7.53h-30.39z" fill="#ef4c3a"/>
<path d="M135.99 143.5h12.76v7.53h-12.76z" fill="#cbe4f1"/>
<path d="M147.74 143.5h6.88v7.53h-6.88z" fill="#deebf2"/>
<path d="M153.62 143.5h6.88v7.53h-6.88z" fill="#f59678"/>
<path d="M159.5 143.5h24.51v7.53h-24.51z" fill="#ef4c3a"/>
<path d="M183.02 143.5h6.88v7.53h-6.88z" fill="#cbe4f1"/>
<path d="M188.9 143.5h18.64v7.53h-18.64z" fill="#ee403e"/>
<path d="M206.53 143.5h6.88v7.53h-6.88z" fill="#e8303a"/>
<path d="M212.41 143.5h6.88v7.53h-6.88z" fill="#ef4c3a"/>
<path d="M218.29 143.5h6.88v7.53h-6.88z" fill="#ee403e"/>
<path d="M224.17 143.5h6.88v7.53h-6.88z" fill="#deebf2"/>
<path d="M230.05 143.5h18.64v7.53h-18.64z" fill="#ee403e"/>
<path d="M247.68 143.5h18.64v7.53h-18.64z" fill="#f16046"/>
<path d="M265.32 143.5h12.76v7.53h-12.76z" fill="#f37a5a"/>
<path d="M277.08 143.5h6.88v7.53h-6.88z" fill="#deebf2"/>
<path d="M282.95 143.5h6.88v7.53h-6.88z" fill="#f37a5a"/>
<path d="M288.83 143.5h18.64v7.53h-18.64z" fill="#1e8ad0"/>
<path d="M306.47 143.5h12.76v7.53h-12.76z" fill="#f8ded6"/>
<path d="M318.23 143.5h6.88v7.53h-6.88z" fill="#f37a5a"/>
<path d="M324.1 143.5h6.88v7.53h-6.88z" fill="#deebf2"/>
<path d="M329.98 143.5h6.88v7.53h-6.88z" fill="#cbe4f1"/>
<path d="M335.86 143.5h12.76v7.53h-12.76z" fill="#f16046"/>
<path d="M347.62 143.5h6.88v7.53h-6.88z" fill="#f59678"/>
<path d="M353.5 143.5h6.88v7.53h-6.88z" fill="#f37a5a"/>
<path d="M359.38 143.5h6.88v7.53h-6.88z" fill="#f8ded6"/>
<path d="M365.26 143.5h6.88v7.53h-6.88z" fill="#deebf2"/>
<path d="M371.13 143.5h6.88v7.53h-6.88z" fill="#f8ded6"/>
<path d="M377.01 143.5h12.76v7.53h-12.76z" fill="#f59678"/>
<path d="M388.77 143.5h6.88v7.53h-6.88z" fill="#cbe4f1"/>
<path d="M394.65 143.5h6.88v7.53h-6.88z" fill="#f37a5a"/>
<path d="M400.53 143.5h12.76v7.53h-12.76z" fill="#deebf2"/>
<path d="M412.29 143.5h6.88v7.53h-6.88z" fill="#f8ded6"/>
<path d="M418.16 143.5h6.88v7.53h-6.88z" fill="#f8c8b9"/>
<path d="M424.04 143.5h6.88v7.53h-6.88z" fill="#cbe4f1"/>
<path d="M429.92 143.5h5.88v7.53h-5.88z" fill="#f16046"/>
<path d="M77.2 150.03h30.39v7.53h-30.39z" fill="#f16046"/>
<path d="M106.59 150.03h30.39v7.53h-30.39z" fill="#f37a5a"/>
<path d="M135.99 150.03h12.76v7.53h-12.76z" fill="#87cbed"/>
<path d="M147.74 150.03h6.88v7.53h-6.88z" fill="#cbe4f1"/>
<path d="M153.62 150.03h6.88v7.53h-6.88z" fill="#f59678"/>
<path d="M159.5 150.03h18.64v7.53h-18.64z" fill="#f16046"/>
<path d="M177.14 150.03h6.88v7.53h-6.88z" fill="#f37a5a"/>
<path d="M183.02 150.03h6.88v7.53h-6.88z" fill="#87cbed"/>
<path d="M188.9 150.03h24.51v7.53h-24.51z" fill="#ef4c3a"/>
<path d="M212.41 150.03h6.88v7.53h-6.88z" fill="#e8303a"/>
<path d="M218.29 150.03h6.88v7.53h-6.88z" fill="#ef4c3a"/>
<path d="M224.17 150.03h6.88v7.53h-6.88z" fill="#f8ded6"/>
<path d="M230.05 150.03h18.64v7.53h-18.64z" fill="#ef4c3a"/>
<path d="M247.68 150.03h18.64v7.53h-18.64z" fill="#f16046"/>
<path d="M265.32 150.03h12.76v7.53h-12.76z" fill="#f37a5a"/>
<path d="M277.08 150.03h6.88v7.53h-6.88z" fill="#deebf2"/>
<path d="M282.95 150.03h6.88v7.53h-6.88z" fill="#f16046"/>
<path d="M288.83 150.03h18.64v7.53h-18.64z" fill="#1e8ad0"/>
<path d="M306.47 150.03h12.76v7.53h-12.76z" fill="#f8ded6"/>
<path d="M318.23 150.03h6.88v7.53h-6.88z" fill="#f37a5a"/>
<path d="M324.1 150.03h12.76v7.53h-12.76z" fill="#cbe4f1"/>
<path d="M335.86 150.03h12.76v7.53h-12.76z" fill="#f16046"/>
<path d="M347.62 150.03h6.88v7.53h-6.88z" fill="#f59678"/>
<path d="M353.5 150.03h6.88v7.53h-6.88z" fill="#f37a5a"/>
<path d="M359.38 150.03h6.88v7.53h-6.88z" fill="#f7b4a0"/>
<path d="M365.26 150.03h6.88v7.53h-6.88z" fill="#f8ded6"/>
<path d="M371.13 150.03h6.88v7.53h-6.88z" fill="#f8c8b9"/>
<path d="M377.01 150.03h12.76v7.53h-12.76z" fill="#f59678"/>
<path d="M388.77 150.03h6.88v7.53h-6.88z" fill="#cbe4f1"/>
<path d="M394.65 150.03h6.88v7.53h-6.88z" fill="#f37a5a"/>
<path d="M400.53 150.03h12.76v7.53h-12.76z" fill="#87cbed"/>
<path d="M412.29 150.03h6.88v7.53h-6.88z" fill="#f8ded6"/>
<path d="M418.16 150.03h6.88v7.53h-6.88z" fill="#f7b4a0"/>
<path d="M424.04 150.03h6.88v7.53h-6.88z" fill="#87cbed"/>
<path d="M429.92 150.03h5.88v7.53h-5.88z" fill="#f16046"/>
<path d="M77.2 156.56h30.39v7.53h-30.39z" fill="#f16046"/>
<path d="M106.59 156.56h30.39v7.53h-30.39z" fill="#ef4c3a"/>
<path d="M135.99 156.56h6.88v7.53h-6.88z" fill="#37afe6"/>
<path d="M141.87 156.56h6.88v7.53h-6.88z" fill="#269bda"/>
<path d="M147.74 156.56h6.88v7.53h-6.88z" fill="#cbe4f1"/>
<path d="M153.62 156.56h6.88v7.53h-6.88z" fill="#f16046"/>
<path d="M159.5 156.56h24.51v7.53h-24.51z" fill="#ee403e"/>
<path d="M183.02 156.56h6.88v7.53h-6.88z" fill="#37afe6"/>
<path d="M188.9 156.56h24.51v7.53h-24.51z" fill="#ee403e"/>
<path d="M212.41 156.56h6.88v7.53h-6.88z" fill="#ef4c3a"/>
<path d="M218.29 156.56h6.88v7.53h-6.88z" fill="#e8303a"/>
<path d="M224.17 156.56h6.88v7.53h-6.88z" fill="#f6f0ee"/>
<path d="M230.05 156.56h36.27v7.53h-36.27z" fill="#ee403e"/>
<path d="M265.32 156.56h12.76v7.53h-12.76z" fill="#f16046"/>
<path d="M277.08 156.56h6.88v7.53h-6.88z" fill="#37afe6"/>
<path d="M282.95 156.56h6.88v7.53h-6.88z" fill="#f37a5a"/>
<path d="M288.83 156.56h6.88v7.53h-6.88z" fill="#37afe6"/>
<path d="M294.71 156.56h6.88v7.53h-6.88z" fill="#269bda"/>
<path d="M300.59 156.56h6.88v7.53h-6.88z" fill="#37afe6"/>
<path d="M306.47 156.56h12.76v7.53h-12.76z" fill="#f8ded6"/>
<path d="M318.23 156.56h6.88v7.53h-6.88z" fill="#f59678"/>
<path d="M324.1 156.56h12.76v7.53h-12.76z" fill="#cbe4f1"/>
<path d="M335.86 156.56h6.88v7.53h-6.88z" fill="#f16046"/>
<path d="M341.74 156.56h6.88v7.53h-6.88z" fill="#f37a5a"/>
<path d="M347.62 156.56h6.88v7.53h-6.88z" fill="#f59678"/>
<path d="M353.5 156.56h6.88v7.53h-6.88z" fill="#f37a5a"/>
<path d="M359.38 156.56h6.88v7.53h-6.88z" fill="#f7b4a0"/>
<path d="M365.26 156.56h6.88v7.53h-6.88z" fill="#f8ded6"/>
<path d="M371.13 156.56h18.64v7.53h-18.64z" fill="#f7b4a0"/>
<path d="M388.77 156.56h6.88v7.53h-6.88z" fill="#cbe4f1"/>
<path d="M394.65 156.56h6.88v7.53h-6.88z" fill="#f37a5a"/>
<path d="M400.53 156.56h12.76v7.53h-12.76z" fill="#f8ded6"/>
<path d="M412.29 156.56h12.76v7.53h-12.76z" fill="#f7b4a0"/>
<path d="M424.04 156.56h6.88v7.53h-6.88z" fill="#cbe4f1"/>
<path d="M429.92 156.56h5.88v7.53h-5.88z" fill="#f37a5a"/>
<path d="M77.2 163.09h30.39v7.53h-30.39z" fill="#87cbed"/>
<path d="M106.59 163.09h6.88v7.53h-6.88z" fill="#f8ded6"/>
<path d="M112.47 163.09h24.51v7.53h-24.51z" fill="#f7b4a0"/>
<path d="M135.99 163.09h6.88v7.53h-6.88z" fill="#ef4c3a"/>
<path d="M141.87 163.09h6.88v7.53h-6.88z" fill="#ee403e"/>
<path d="M147.74 163.09h6.88v7.53h-6.88z" fill="#ef4c3a"/>
<path d="M153.62 163.09h6.88v7.53h-6.88z" fill="#f37a5a"/>
<path d="M159.5 163.09h6.88v7.53h-6.88z" fill="#f7b4a0"/>
<path d="M165.38 163.09h6.88v7.53h-6.88z" fill="#f8ded6"/>
<path d="M171.26 163.09h6.88v7.53h-6.88z" fill="#87cbed"/>
<path d="M177.14 163.09h6.88v7.53h-6.88z" fill="#f7b4a0"/>
<path d="M183.02 163.09h6.88v7.53h-6.88z" fill="#ef4c3a"/>
<path d="M188.9 163.09h12.76v7.53h-12.76z" fill="#87cbed"/>
<path d="M200.65 163.09h12.76v7.53h-12.76z" fill="#deebf2"/>
<path d="M212.41 163.09h6.88v7.53h-6.88z" fill="#f8ded6"/>
<path d="M218.29 163.09h6.88v7.53h-6.88z" fill="#f6f0ee"/>
<path d="M224.17 163.09h6.88v7.53h-6.88z" fill="#e8303a"/>
<path d="M230.05 163.09h12.76v7.53h-12.76z" fill="#f37a5a"/>
<path d="M241.8 163.09h6.88v7.53h-6.88z" fill="#f8ded6"/>
<path d="M247.68 163.09h36.27v7.53h-36.27z" fill="#f37a5a"/>
<path d="M282.95 163.09h6.88v7.53h-6.88z" fill="#269bda"/>
<path d="M288.83 163.09h12.76v7.53h-12.76z" fill="#f7b4a0"/>
<path d="M300.59 163.09h6.88v7.53h-6.88z" fill="#f8ded6"/>
<path d="M306.47 163.09h12.76v7.53h-12.76z" fill="#f7b4a0"/>
<path d="M318.23 163.09h6.88v7.53h-6.88z" fill="#f8ded6"/>
<path d="M324.1 163.09h6.88v7.53h-6.88z" fill="#f6f0ee"/>
<path d="M329.98 163.09h6.88v7.53h-6.88z" fill="#cbe4f1"/>
<path d="M335.86 163.09h24.51v7.53h-24.51z" fill="#87cbed"/>
<path d="M359.38 163.09h6.88v7.53h-6.88z" fill="#cbe4f1"/>
<path d="M365.26 163.09h6.88v7.53h-6.88z" fill="#f8ded6"/>
<path d="M371.13 163.09h24.51v7.53h-24.51z" fill="#cbe4f1"/>
<path d="M394.65 163.09h6.88v7.53h-6.88z" fill="#87cbed"/>
<path d="M400.53 163.09h18.64v7.53h-18.64z" fill="#f8ded6"/>
<path d="M418.16 163.09h6.88v7.53h-6.88z" fill="#f7b4a0"/>
<path d="M424.04 163.09h6.88v7.53h-6.88z" fill="#cbe4f1"/>
<path d="M429.92 163.09h5.88v7.53h-5.88z" fill="#87cbed"/>
<path d="M77.2 169.62h59.79v7.53h-59.79z" fill="#ef4c3a"/>
<path d="M135.99 169.62h12.76v7.53h-12.76z" fill="#cbe4f1"/>
<path d="M147.74 169.62h6.88v7.53h-6.88z" fill="#f59678"/>
<path d="M153.62 169.62h6.88v7.53h-6.88z" fill="#f37a5a"/>
<path d="M159.5 169.62h24.51v7.53h-24.51z" fill="#ee403e"/>
<path d="M183.02 169.62h6.88v7.53h-6.88z" fill="#cbe4f1"/>
<path d="M188.9 169.62h24.51v7.53h-24.51z" fill="#ee403e"/>
<path d="M212.41 169.62h6.88v7.53h-6.88z" fill="#ef4c3a"/>
<path d="M218.29 169.62h6.88v7.53h-6.88z" fill="#ee403e"/>
<path d="M224.17 169.62h6.88v7.53h-6.88z" fill="#f37a5a"/>
<path d="M230.05 169.62h6.88v7.53h-6.88z" fill="#e8303a"/>
<path d="M235.92 169.62h12.76v7.53h-12.76z" fill="#ec383c"/>
<path d="M247.68 169.62h18.64v7.53h-18.64z" fill="#ee403e"/>
<path d="M265.32 169.62h12.76v7.53h-12.76z" fill="#ef4c3a"/>
<path d="M277.08 169.62h6.88v7.53h-6.88z" fill="#f8ded6"/>
<path d="M282.95 169.62h6.88v7.53h-6.88z" fill="#f16046"/>
<path d="M288.83 169.62h18.64v7.53h-18.64z" fill="#1e8ad0"/>
<path d="M306.47 169.62h12.76v7.53h-12.76z" fill="#cbe4f1"/>
<path d="M318.23 169.62h6.88v7.53h-6.88z" fill="#f59678"/>
<path d="M324.1 169.62h12.76v7.53h-12.76z" fill="#cbe4f1"/>
<path d="M335.86 169.62h6.88v7.53h-6.88z" fill="#f16046"/>
<path d="M341.74 169.62h6.88v7.53h-6.88z" fill="#f37a5a"/>
<path d="M347.62 169.62h6.88v7.53h-6.88z" fill="#f59678"/>
<path d="M353.5 169.62h6.88v7.53h-6.88z" fill="#f37a5a"/>
<path d="M359.38 169.62h6.88v7.53h-6.88z" fill="#f7b4a0"/>
<path d="M365.26 169.62h6.88v7.53h-6.88z" fill="#f8ded6"/>
<path d="M371.13 169.62h18.64v7.53h-18.64z" fill="#f7b4a0"/>
<path d="M388.77 169.62h6.88v7.53h-6.88z" fill="#cbe4f1"/>
<path d="M394.65 169.62h6.88v7.53h-6.88z" fill="#f37a5a"/>
<path d="M400.53 169.62h6.88v7.53h-6.88z" fill="#deebf2"/>
<path d="M406.41 169.62h6.88v7.53h-6.88z" fill="#cbe4f1"/>
<path d="M412.29 169.62h6.88v7.53h-6.88z" fill="#f8ded6"/>
<path d="M418.16 169.62h6.88v7.53h-6.88z" fill="#f7b4a0"/>
<path d="M424.04 169.62h6.88v7.53h-6.88z" fill="#87cbed"/>
<path d="M429.92 169.62h5.88v7.53h-5.88z" fill="#f37a5a"/>
<path d="M77.2 176.15h59.79v7.53h-59.79z" fill="#ef4c3a"/>
<path d="M135.99 176.15h12.76v7.53h-12.76z" fill="#deebf2"/>
<path d="M147.74 176.15h6.88v7.53h-6.88z" fill="#f59678"/>
<path d="M153.62 176.15h6.88v7.53h-6.88z" fill="#f37a5a"/>
<path d="M159.5 176.15h24.51v7.53h-24.51z" fill="#ee403e"/>
<path d="M183.02 176.15h6.88v7.53h-6.88z" fill="#deebf2"/>
<path d="M188.9 176.15h24.51v7.53h-24.51z" fill="#ee403e"/>
<path d="M212.41 176.15h6.88v7.53h-6.88z" fill="#ef4c3a"/>
<path d="M218.29 176.15h6.88v7.53h-6.88z" fill="#ee403e"/>
<path d="M224.17 176.15h6.88v7.53h-6.88z" fill="#f37a5a"/>
<path d="M230.05 176.15h6.88v7.53h-6.88z" fill="#ec383c"/>
<path d="M235.92 176.15h6.88v7.53h-6.88z" fill="#e8303a"/>
<path d="M241.8 176.15h6.88v7.53h-6.88z" fill="#ec383c"/>
<path d="M247.68 176.15h18.64v7.53h-18.64z" fill="#ee403e"/>
<path d="M265.32 176.15h12.76v7.53h-12.76z" fill="#ef4c3a"/>
<path d="M277.08 176.15h6.88v7.53h-6.88z" fill="#f59678"/>
<path d="M282.95 176.15h6.88v7.53h-6.88z" fill="#f16046"/>
<path d="M288.83 176.15h18.64v7.53h-18.64z" fill="#1e8ad0"/>
<path d="M306.47 176.15h6.88v7.53h-6.88z" fill="#87cbed"/>
<path d="M312.35 176.15h6.88v7.53h-6.88z" fill="#cbe4f1"/>
<path d="M318.23 176.15h6.88v7.53h-6.88z" fill="#f59678"/>
<path d="M324.1 176.15h12.76v7.53h-12.76z" fill="#cbe4f1"/>
<path d="M335.86 176.15h6.88v7.53h-6.88z" fill="#f16046"/>
<path d="M341.74 176.15h6.88v7.53h-6.88z" fill="#f37a5a"/>
<path d="M347.62 176.15h6.88v7.53h-6.88z" fill="#f59678"/>
<path d="M353.5 176.15h6.88v7.53h-6.88z" fill="#f37a5a"/>
<path d="M359.38 176.15h6.88v7.53h-6.88z" fill="#f7b4a0"/>
<path d="M365.26 176.15h6.88v7.53h-6.88z" fill="#f8ded6"/>
<path d="M371.13 176.15h18.64v7.53h-18.64z" fill="#f7b4a0"/>
<path d="M388.77 176.15h6.88v7.53h-6.88z" fill="#cbe4f1"/>
<path d="M394.65 176.15h6.88v7.53h-6.88z" fill="#f37a5a"/>
<path d="M400.53 176.15h6.88v7.53h-6.88z" fill="#deebf2"/>
<path d="M406.41 176.15h6.88v7.53h-6.88z" fill="#cbe4f1"/>
<path d="M412.29 176.15h6.88v7.53h-6.88z" fill="#f8ded6"/>
<path d="M418.16 176.15h6.88v7.53h-6.88z" fill="#f7b4a0"/>
<path d="M424.04 176.15h6.88v7.53h-6.88z" fill="#87cbed"/>
<path d="M429.92 176.15h5.88v7.53h-5.88z" fill="#f37a5a"/>
<path d="M77.2 182.68h59.79v7.53h-59.79z" fill="#ef4c3a"/>
<path d="M135.99 182.68h12.76v7.53h-12.76z" fill="#37afe6"/>
<path d="M147.74 182.68h6.88v7.53h-6.88z" fill="#f8c8b9"/>
<path d="M153.62 182.68h6.88v7.53h-6.88z" fill="#f37a5a"/>
<path d="M159.5 182.68h24.51v7.53h-24.51z" fill="#ee403e"/>
<path d="M183.02 182.68h6.88v7.53h-6.88z" fill="#37afe6"/>
<path d="M188.9 182.68h24.51v7.53h-24.51z" fill="#ee403e"/>
<path d="M212.41 182.68h6.88v7.53h-6.88z" fill="#ef4c3a"/>
<path d="M218.29 182.68h6.88v7.53h-6.88z" fill="#ee403e"/>
<path d="M224.17 182.68h6.88v7.53h-6.88z" fill="#f8ded6"/>
<path d="M230.05 182.68h12.76v7.53h-12.76z" fill="#ec383c"/>
<path d="M241.8 182.68h6.88v7.53h-6.88z" fill="#e8303a"/>
<path d="M247.68 182.68h18.64v7.53h-18.64z" fill="#ee403e"/>
<path d="M265.32 182.68h12.76v7.53h-12.76z" fill="#ef4c3a"/>
<path d="M277.08 182.68h6.88v7.53h-6.88z" fill="#87cbed"/>
<path d="M282.95 182.68h6.88v7.53h-6.88z" fill="#f16046"/>
<path d="M288.83 182.68h18.64v7.53h-18.64z" fill="#1e8ad0"/>
<path d="M306.47 182.68h12.76v7.53h-12.76z" fill="#87cbed"/>
<path d="M318.23 182.68h6.88v7.53h-6.88z" fill="#f59678"/>
<path d="M324.1 182.68h6.88v7.53h-6.88z" fill="#87cbed"/>
<path d="M329.98 182.68h6.88v7.53h-6.88z" fill="#cbe4f1"/>
<path d="M335.86 182.68h6.88v7.53h-6.88z" fill="#f16046"/>
<path d="M341.74 182.68h6.88v7.53h-6.88z" fill="#f37a5a"/>
<path d="M347.62 182.68h6.88v7.53h-6.88z" fill="#f59678"/>
<path d="M353.5 182.68h6.88v7.53h-6.88z" fill="#f37a5a"/>
<path d="M359.38 182.68h6.88v7.53h-6.88z" fill="#f7b4a0"/>
<path d="M365.26 182.68h6.88v7.53h-6.88z" fill="#f8ded6"/>
<path d="M371.13 182.68h18.64v7.53h-18.64z" fill="#f7b4a0"/>
<path d="M388.77 182.68h6.88v7.53h-6.88z" fill="#cbe4f1"/>
<path d="M394.65 182.68h6.88v7.53h-6.88z" fill="#f37a5a"/>
<path d="M400.53 182.68h6.88v7.53h-6.88z" fill="#cbe4f1"/>
<path d="M406.41 182.68h6.88v7.53h-6.88z" fill="#87cbed"/>
<path d="M412.29 182.68h12.76v7.53h-12.76z" fill="#f8ded6"/>
<path d="M424.04 182.68h6.88v7.53h-6.88z" fill="#87cbed"/>
<path d="M429.92 182.68h5.88v7.53h-5.88z" fill="#f37a5a"/>
<path d="M77.2 189.21h30.39v7.53h-30.39z" fill="#f37a5a"/>
<path d="M106.59 189.21h30.39v7.53h-30.39z" fill="#ef4c3a"/>
<path d="M135.99 189.21h12.76v7.53h-12.76z" fill="#f8ded6"/>
<path d="M147.74 189.21h6.88v7.53h-6.88z" fill="#f59678"/>
<path d="M153.62 189.21h6.88v7.53h-6.88z" fill="#f37a5a"/>
<path d="M159.5 189.21h24.51v7.53h-24.51z" fill="#ec383c"/>
<path d="M183.02 189.21h6.88v7.53h-6.88z" fill="#f8ded6"/>
<path d="M188.9 189.21h30.39v7.53h-30.39z" fill="#f16046"/>
<path d="M218.29 189.21h6.88v7.53h-6.88z" fill="#ee403e"/>
<path d="M224.17 189.21h6.88v7.53h-6.88z" fill="#f37a5a"/>
<path d="M230.05 189.21h18.64v7.53h-18.64z" fill="#ee403e"/>
<path d="M247.68 189.21h6.88v7.53h-6.88z" fill="#e8303a"/>
<path d="M253.56 189.21h12.76v7.53h-12.76z" fill="#ec383c"/>
<path d="M265.32 189.21h12.76v7.53h-12.76z" fill="#ee403e"/>
<path d="M277.08 189.21h6.88v7.53h-6.88z" fill="#87cbed"/>
<path d="M282.95 189.21h24.51v7.53h-24.51z" fill="#f8ded6"/>
<path d="M306.47 189.21h12.76v7.53h-12.76z" fill="#f7b4a0"/>
<path d="M318.23 189.21h6.88v7.53h-6.88z" fill="#f59678"/>
<path d="M324.1 189.21h12.76v7.53h-12.76z" fill="#cbe4f1"/>
<path d="M335.86 189.21h12.76v7.53h-12.76z" fill="#f59678"/>
<path d="M347.62 189.21h6.88v7.53h-6.88z" fill="#f7b4a0"/>
<path d="M353.5 189.21h6.88v7.53h-6.88z" fill="#f59678"/>
<path d="M359.38 189.21h12.76v7.53h-12.76z" fill="#f8ded6"/>
<path d="M371.13 189.21h12.76v7.53h-12.76z" fill="#f7b4a0"/>
<path d="M382.89 189.21h6.88v7.53h-6.88z" fill="#f8ded6"/>
<path d="M388.77 189.21h6.88v7.53h-6.88z" fill="#cbe4f1"/>
<path d="M394.65 189.21h6.88v7.53h-6.88z" fill="#f59678"/>
<path d="M400.53 189.21h6.88v7.53h-6.88z" fill="#cbe4f1"/>
<path d="M406.41 189.21h6.88v7.53h-6.88z" fill="#deebf2"/>
<path d="M412.29 189.21h12.76v7.53h-12.76z" fill="#f7b4a0"/>
<path d="M424.04 189.21h6.88v7.53h-6.88z" fill="#cbe4f1"/>
<path d="M429.92 189.21h5.88v7.53h-5.88z" fill="#f59678"/>
<path d="M77.2 195.74h30.39v7.53h-30.39z" fill="#f37a5a"/>
<path d="M106.59 195.74h30.39v7.53h-30.39z" fill="#ef4c3a"/>
<path d="M135.99 195.74h12.76v7.53h-12.76z" fill="#f8ded6"/>
<path d="M147.74 195.74h6.88v7.53h-6.88z" fill="#f59678"/>
<path d="M153.62 195.74h6.88v7.53h-6.88z" fill="#f37a5a"/>
<path d="M159.5 195.74h24.51v7.53h-24.51z" fill="#ec383c"/>
<path d="M183.02 195.74h6.88v7.53h-6.88z" fill="#f8ded6"/>
<path d="M188.9 195.74h30.39v7.53h-30.39z" fill="#f16046"/>
<path d="M218.29 195.74h6.88v7.53h-6.88z" fill="#ee403e"/>
<path d="M224.17 195.74h6.88v7.53h-6.88z" fill="#f37a5a"/>
<path d="M230.05 195.74h18.64v7.53h-18.64z" fill="#ee403e"/>
<path d="M247.68 195.74h6.88v7.53h-6.88z" fill="#ec383c"/>
<path d="M253.56 195.74h6.88v7.53h-6.88z" fill="#e8303a"/>
<path d="M259.44 195.74h6.88v7.53h-6.88z" fill="#ec383c"/>
<path d="M265.32 195.74h12.76v7.53h-12.76z" fill="#ee403e"/>
<path d="M277.08 195.74h6.88v7.53h-6.88z" fill="#87cbed"/>
<path d="M282.95 195.74h30.39v7.53h-30.39z" fill="#f8ded6"/>
<path d="M312.35 195.74h6.88v7.53h-6.88z" fill="#f7b4a0"/>
<path d="M318.23 195.74h6.88v7.53h-6.88z" fill="#f59678"/>
<path d="M324.1 195.74h12.76v7.53h-12.76z" fill="#cbe4f1"/>
<path d="M335.86 195.74h12.76v7.53h-12.76z" fill="#f59678"/>
<path d="M347.62 195.74h6.88v7.53h-6.88z" fill="#f7b4a0"/>
<path d="M353.5 195.74h6.88v7.53h-6.88z" fill="#f59678"/>
<path d="M359.38 195.74h18.64v7.53h-18.64z" fill="#f8ded6"/>
<path d="M377.01 195.74h6.88v7.53h-6.88z" fill="#f7b4a0"/>
<path d="M382.89 195.74h6.88v7.53h-6.88z" fill="#f8ded6"/>
<path d="M388.77 195.74h6.88v7.53h-6.88z" fill="#cbe4f1"/>
<path d="M394.65 195.74h6.88v7.53h-6.88z" fill="#f59678"/>
<path d="M400.53 195.74h6.88v7.53h-6.88z" fill="#cbe4f1"/>
<path d="M406.41 195.74h6.88v7.53h-6.88z" fill="#deebf2"/>
<path d="M412.29 195.74h12.76v7.53h-12.76z" fill="#f7b4a0"/>
<path d="M424.04 195.74h6.88v7.53h-6.88z" fill="#cbe4f1"/>
<path d="M429.92 195.74h5.88v7.53h-5.88z" fill="#f59678"/>
<path d="M77.2 202.27h30.39v7.53h-30.39z" fill="#f37a5a"/>
<path d="M106.59 202.27h30.39v7.53h-30.39z" fill="#ef4c3a"/>
<path d="M135.99 202.27h12.76v7.53h-12.76z" fill="#f8ded6"/>
<path d="M147.74 202.27h6.88v7.53h-6.88z" fill="#f59678"/>
<path d="M153.62 202.27h6.88v7.53h-6.88z" fill="#f37a5a"/>
<path d="M159.5 202.27h24.51v7.53h-24.51z" fill="#ec383c"/>
<path d="M183.02 202.27h6.88v7.53h-6.88z" fill="#f8ded6"/>
<path d="M188.9 202.27h30.39v7.53h-30.39z" fill="#f16046"/>
<path d="M218.29 202.27h6.88v7.53h-6.88z" fill="#ee403e"/>
<path d="M224.17 202.27h6.88v7.53h-6.88z" fill="#f37a5a"/>
<path d="M230.05 202.27h18.64v7.53h-18.64z" fill="#ee403e"/>
<path d="M247.68 202.27h12.76v7.53h-12.76z" fill="#ec383c"/>
<path d="M259.44 202.27h6.88v7.53h-6.88z" fill="#e8303a"/>
<path d="M265.32 202.27h12.76v7.53h-12.76z" fill="#ee403e"/>
<path d="M277.08 202.27h6.88v7.53h-6.88z" fill="#87cbed"/>
<path d="M282.95 202.27h36.27v7.53h-36.27z" fill="#f8ded6"/>
<path d="M318.23 202.27h6.88v7.53h-6.88z" fill="#f59678"/>
<path d="M324.1 202.27h12.76v7.53h-12.76z" fill="#cbe4f1"/>
<path d="M335.86 202.27h12.76v7.53h-12.76z" fill="#f59678"/>
<path d="M347.62 202.27h6.88v7.53h-6.88z" fill="#f7b4a0"/>
<path d="M353.5 202.27h6.88v7.53h-6.88z" fill="#f59678"/>
<path d="M359.38 202.27h12.76v7.53h-12.76z" fill="#f8ded6"/>
<path d="M371.13 202.27h18.64v7.53h-18.64z" fill="#f7b4a0"/>
<path d="M388.77 202.27h6.88v7.53h-6.88z" fill="#cbe4f1"/>
<path d="M394.65 202.27h6.88v7.53h-6.88z" fill="#f59678"/>
<path d="M400.53 202.27h12.76v7.53h-12.76z" fill="#deebf2"/>
<path d="M412.29 202.27h12.76v7.53h-12.76z" fill="#f7b4a0"/>
<path d="M424.04 202.27h6.88v7.53h-6.88z" fill="#cbe4f1"/>
<path d="M429.92 202.27h5.88v7.53h-5.88z" fill="#f59678"/>
<path d="M77.2 208.8h59.79v7.53h-59.79z" fill="#f37a5a"/>
<path d="M135.99 208.8h12.76v7.53h-12.76z" fill="#f8ded6"/>
<path d="M147.74 208.8h6.88v7.53h-6.88z" fill="#f59678"/>
<path d="M153.62 208.8h30.39v7.53h-30.39z" fill="#f37a5a"/>
<path d="M183.02 208.8h6.88v7.53h-6.88z" fill="#f8ded6"/>
<path d="M188.9 208.8h30.39v7.53h-30.39z" fill="#f37a5a"/>
<path d="M218.29 208.8h6.88v7.53h-6.88z" fill="#f16046"/>
<path d="M224.17 208.8h6.88v7.53h-6.88z" fill="#f37a5a"/>
<path d="M230.05 208.8h18.64v7.53h-18.64z" fill="#ef4c3a"/>
<path d="M247.68 208.8h18.64v7.53h-18.64z" fill="#ee403e"/>
<path d="M265.32 208.8h6.88v7.53h-6.88z" fill="#e8303a"/>
<path d="M271.2 208.8h6.88v7.53h-6.88z" fill="#ec383c"/>
<path d="M277.08 208.8h6.88v7.53h-6.88z" fill="#87cbed"/>
<path d="M282.95 208.8h6.88v7.53h-6.88z" fill="#f8ded6"/>
<path d="M288.83 208.8h6.88v7.53h-6.88z" fill="#f7b4a0"/>
<path d="M294.71 208.8h6.88v7.53h-6.88z" fill="#deebf2"/>
<path d="M300.59 208.8h6.88v7.53h-6.88z" fill="#87cbed"/>
<path d="M306.47 208.8h12.76v7.53h-12.76z" fill="#ef4c3a"/>
<path d="M318.23 208.8h6.88v7.53h-6.88z" fill="#f59678"/>
<path d="M324.1 208.8h12.76v7.53h-12.76z" fill="#87cbed"/>
<path d="M335.86 208.8h12.76v7.53h-12.76z" fill="#f59678"/>
<path d="M347.62 208.8h6.88v7.53h-6.88z" fill="#f7b4a0"/>
<path d="M353.5 208.8h6.88v7.53h-6.88z" fill="#f59678"/>
<path d="M359.38 208.8h6.88v7.53h-6.88z" fill="#f7b4a0"/>
<path d="M365.26 208.8h6.88v7.53h-6.88z" fill="#f8ded6"/>
<path d="M371.13 208.8h18.64v7.53h-18.64z" fill="#f7b4a0"/>
<path d="M388.77 208.8h6.88v7.53h-6.88z" fill="#cbe4f1"/>
<path d="M394.65 208.8h6.88v7.53h-6.88z" fill="#f59678"/>
<path d="M400.53 208.8h12.76v7.53h-12.76z" fill="#deebf2"/>
<path d="M412.29 208.8h6.88v7.53h-6.88z" fill="#f8ded6"/>
<path d="M418.16 208.8h6.88v7.53h-6.88z" fill="#f7b4a0"/>
<path d="M424.04 208.8h6.88v7.53h-6.88z" fill="#cbe4f1"/>
<path d="M429.92 208.8h5.88v7.53h-5.88z" fill="#f59678"/>
<path d="M77.2 215.33h59.79v7.53h-59.79z" fill="#f37a5a"/>
<path d="M135.99 215.33h12.76v7.53h-12.76z" fill="#f7b4a0"/>
<path d="M147.74 215.33h6.88v7.53h-6.88z" fill="#f59678"/>
<path d="M153.62 215.33h30.39v7.53h-30.39z" fill="#f37a5a"/>
<path d="M183.02 215.33h6.88v7.53h-6.88z" fill="#f8ded6"/>
<path d="M188.9 215.33h30.39v7.53h-30.39z" fill="#f37a5a"/>
<path d="M218.29 215.33h6.88v7.53h-6.88z" fill="#f16046"/>
<path d="M224.17 215.33h6.88v7.53h-6.88z" fill="#f37a5a"/>
<path d="M230.05 215.33h18.64v7.53h-18.64z" fill="#ef4c3a"/>
<path d="M247.68 215.33h18.64v7.53h-18.64z" fill="#ee403e"/>
<path d="M265.32 215.33h6.88v7.53h-6.88z" fill="#ec383c"/>
<path d="M271.2 215.33h6.88v7.53h-6.88z" fill="#e8303a"/>
<path d="M277.08 215.33h6.88v7.53h-6.88z" fill="#87cbed"/>
<path d="M282.95 215.33h6.88v7.53h-6.88z" fill="#f8ded6"/>
<path d="M288.83 215.33h6.88v7.53h-6.88z" fill="#f7b4a0"/>
<path d="M294.71 215.33h6.88v7.53h-6.88z" fill="#deebf2"/>
<path d="M300.59 215.33h6.88v7.53h-6.88z" fill="#87cbed"/>
<path d="M306.47 215.33h12.76v7.53h-12.76z" fill="#ef4c3a"/>
<path d="M318.23 215.33h6.88v7.53h-6.88z" fill="#f59678"/>
<path d="M324.1 215.33h6.88v7.53h-6.88z" fill="#87cbed"/>
<path d="M329.98 215.33h6.88v7.53h-6.88z" fill="#cbe4f1"/>
<path d="M335.86 215.33h12.76v7.53h-12.76z" fill="#f59678"/>
<path d="M347.62 215.33h6.88v7.53h-6.88z" fill="#f7b4a0"/>
<path d="M353.5 215.33h6.88v7.53h-6.88z" fill="#f59678"/>
<path d="M359.38 215.33h6.88v7.53h-6.88z" fill="#f7b4a0"/>
<path d="M365.26 215.33h6.88v7.53h-6.88z" fill="#f8ded6"/>
<path d="M371.13 215.33h18.64v7.53h-18.64z" fill="#f7b4a0"/>
<path d="M388.77 215.33h6.88v7.53h-6.88z" fill="#cbe4f1"/>
<path d="M394.65 215.33h6.88v7.53h-6.88z" fill="#f59678"/>
<path d="M400.53 215.33h12.76v7.53h-12.76z" fill="#deebf2"/>
<path d="M412.29 215.33h6.88v7.53h-6.88z" fill="#f8ded6"/>
<path d="M418.16 215.33h6.88v7.53h-6.88z" fill="#f7b4a0"/>
<path d="M424.04 215.33h6.88v7.53h-6.88z" fill="#cbe4f1"/>
<path d="M429.92 215.33h5.88v7.53h-5.88z" fill="#f59678"/>
<path d="M77.2 221.86h12.76v7.53h-12.76z" fill="#cbe4f1"/>
<path d="M88.96 221.86h48.03v7.53h-48.03z" fill="#87cbed"/>
<path d="M135.99 221.86h6.88v7.53h-6.88z" fill="#f59678"/>
<path d="M141.87 221.86h12.76v7.53h-12.76z" fill="#f7b4a0"/>
<path d="M153.62 221.86h6.88v7.53h-6.88z" fill="#87cbed"/>
<path d="M159.5 221.86h6.88v7.53h-6.88z" fill="#cbe4f1"/>
<path d="M165.38 221.86h18.64v7.53h-18.64z" fill="#87cbed"/>
<path d="M183.02 221.86h6.88v7.53h-6.88z" fill="#f59678"/>
<path d="M188.9 221.86h18.64v7.53h-18.64z" fill="#87cbed"/>
<path d="M206.53 221.86h12.76v7.53h-12.76z" fill="#deebf2"/>
<path d="M218.29 221.86h6.88v7.53h-6.88z" fill="#37afe6"/>
<path d="M224.17 221.86h6.88v7.53h-6.88z" fill="#f37a5a"/>
<path d="M230.05 221.86h6.88v7.53h-6.88z" fill="#f8ded6"/>
<path d="M235.92 221.86h6.88v7.53h-6.88z" fill="#f59678"/>
<path d="M241.8 221.86h36.27v7.53h-36.27z" fill="#87cbed"/>
<path d="M277.08 221.86h6.88v7.53h-6.88z" fill="#e8303a"/>
<path d="M282.95 221.86h6.88v7.53h-6.88z" fill="#269bda"/>
<path d="M288.83 221.86h6.88v7.53h-6.88z" fill="#87cbed"/>
<path d="M294.71 221.86h12.76v7.53h-12.76z" fill="#37afe6"/>
<path d="M306.47 221.86h12.76v7.53h-12.76z" fill="#87cbed"/>
<path d="M318.23 221.86h12.76v7.53h-12.76z" fill="#f8ded6"/>
<path d="M329.98 221.86h6.88v7.53h-6.88z" fill="#f6f0ee"/>
<path d="M335.86 221.86h6.88v7.53h-6.88z" fill="#87cbed"/>
<path d="M341.74 221.86h18.64v7.53h-18.64z" fill="#cbe4f1"/>
<path d="M359.38 221.86h12.76v7.53h-12.76z" fill="#deebf2"/>
<path d="M371.13 221.86h12.76v7.53h-12.76z" fill="#87cbed"/>
<path d="M382.89 221.86h6.88v7.53h-6.88z" fill="#cbe4f1"/>
<path d="M388.77 221.86h6.88v7.53h-6.88z" fill="#f8ded6"/>
<path d="M394.65 221.86h6.88v7.53h-6.88z" fill="#87cbed"/>
<path d="M400.53 221.86h12.76v7.53h-12.76z" fill="#cbe4f1"/>
<path d="M412.29 221.86h6.88v7.53h-6.88z" fill="#87cbed"/>
<path d="M418.16 221.86h12.76v7.53h-12.76z" fill="#f8ded6"/>
<path d="M429.92 221.86h5.88v7.53h-5.88z" fill="#87cbed"/>
<path d="M77.2 228.39h30.39v7.53h-30.39z" fill="#f16046"/>
<path d="M106.59 228.39h6.88v7.53h-6.88z" fill="#f59678"/>
<path d="M112.47 228.39h24.51v7.53h-24.51z" fill="#f8ded6"/>
<path d="M135.99 228.39h12.76v7.53h-12.76z" fill="#1e8ad0"/>
<path d="M147.74 228.39h6.88v7.53h-6.88z" fill="#f8ded6"/>
<path d="M153.62 228.39h6.88v7.53h-6.88z" fill="#f16046"/>
<path d="M159.5 228.39h6.88v7.53h-6.88z" fill="#f8ded6"/>
<path d="M165.38 228.39h12.76v7.53h-12.76z" fill="#f37a5a"/>
<path d="M177.14 228.39h6.88v7.53h-6.88z" fill="#f8ded6"/>
<path d="M183.02 228.39h6.88v7.53h-6.88z" fill="#1e8ad0"/>
<path d="M188.9 228.39h12.76v7.53h-12.76z" fill="#ef4c3a"/>
<path d="M200.65 228.39h12.76v7.53h-12.76z" fill="#f37a5a"/>
<path d="M212.41 228.39h6.88v7.53h-6.88z" fill="#f16046"/>
<path d="M218.29 228.39h6.88v7.53h-6.88z" fill="#f37a5a"/>
<path d="M224.17 228.39h6.88v7.53h-6.88z" fill="#269bda"/>
<path d="M230.05 228.39h18.64v7.53h-18.64z" fill="#f16046"/>
<path d="M247.68 228.39h30.39v7.53h-30.39z" fill="#f8ded6"/>
<path d="M277.08 228.39h6.88v7.53h-6.88z" fill="#269bda"/>
<path d="M282.95 228.39h6.88v7.53h-6.88z" fill="#e8303a"/>
<path d="M288.83 228.39h12.76v7.53h-12.76z" fill="#2d5fb2"/>
<path d="M300.59 228.39h6.88v7.53h-6.88z" fill="#1e8ad0"/>
<path d="M306.47 228.39h12.76v7.53h-12.76z" fill="#269bda"/>
<path d="M318.23 228.39h6.88v7.53h-6.88z" fill="#f59678"/>
<path d="M324.1 228.39h6.88v7.53h-6.88z" fill="#87cbed"/>
<path d="M329.98 228.39h6.88v7.53h-6.88z" fill="#cbe4f1"/>
<path d="M335.86 228.39h12.76v7.53h-12.76z" fill="#f37a5a"/>
<path d="M347.62 228.39h6.88v7.53h-6.88z" fill="#f59678"/>
<path d="M353.5 228.39h6.88v7.53h-6.88z" fill="#f37a5a"/>
<path d="M359.38 228.39h6.88v7.53h-6.88z" fill="#f7b4a0"/>
<path d="M365.26 228.39h6.88v7.53h-6.88z" fill="#f8ded6"/>
<path d="M371.13 228.39h18.64v7.53h-18.64z" fill="#f7b4a0"/>
<path d="M388.77 228.39h6.88v7.53h-6.88z" fill="#f8ded6"/>
<path d="M394.65 228.39h6.88v7.53h-6.88z" fill="#f37a5a"/>
<path d="M400.53 228.39h6.88v7.53h-6.88z" fill="#cbe4f1"/>
<path d="M406.41 228.39h6.88v7.53h-6.88z" fill="#87cbed"/>
<path d="M412.29 228.39h12.76v7.53h-12.76z" fill="#f8ded6"/>
<path d="M424.04 228.39h6.88v7.53h-6.88z" fill="#cbe4f1"/>
<path d="M429.92 228.39h5.88v7.53h-5.88z" fill="#f37a5a"/>
<path d="M77.2 234.92h30.39v7.53h-30.39z" fill="#1e8ad0"/>
<path d="M106.59 234.92h6.88v7.53h-6.88z" fill="#87cbed"/>
<path d="M112.47 234.92h24.51v7.53h-24.51z" fill="#f8ded6"/>
<path d="M135.99 234.92h12.76v7.53h-12.76z" fill="#f37a5a"/>
<path d="M147.74 234.92h6.88v7.53h-6.88z" fill="#cbe4f1"/>
<path d="M153.62 234.92h6.88v7.53h-6.88z" fill="#37afe6"/>
<path d="M159.5 234.92h6.88v7.53h-6.88z" fill="#f8ded6"/>
<path d="M165.38 234.92h6.88v7.53h-6.88z" fill="#87cbed"/>
<path d="M171.26 234.92h6.88v7.53h-6.88z" fill="#37afe6"/>
<path d="M177.14 234.92h6.88v7.53h-6.88z" fill="#f8ded6"/>
<path d="M183.02 234.92h6.88v7.53h-6.88z" fill="#f16046"/>
<path d="M188.9 234.92h30.39v7.53h-30.39z" fill="#1e8ad0"/>
<path d="M218.29 234.92h6.88v7.53h-6.88z" fill="#37afe6"/>
<path d="M224.17 234.92h6.88v7.53h-6.88z" fill="#f7b4a0"/>
<path d="M230.05 234.92h18.64v7.53h-18.64z" fill="#1e8ad0"/>
<path d="M247.68 234.92h18.64v7.53h-18.64z" fill="#f8ded6"/>
<path d="M265.32 234.92h12.76v7.53h-12.76z" fill="#f7b4a0"/>
<path d="M277.08 234.92h6.88v7.53h-6.88z" fill="#87cbed"/>
<path d="M282.95 234.92h6.88v7.53h-6.88z" fill="#2d5fb2"/>
<path d="M288.83 234.92h6.88v7.53h-6.88z" fill="#e8303a"/>
<path d="M294.71 234.92h12.76v7.53h-12.76z" fill="#ec383c"/>
<path d="M306.47 234.92h12.76v7.53h-12.76z" fill="#f37a5a"/>
<path d="M318.23 234.92h6.88v7.53h-6.88z" fill="#87cbed"/>
<path d="M324.1 234.92h6.88v7.53h-6.88z" fill="#f7b4a0"/>
<path d="M329.98 234.92h6.88v7.53h-6.88z" fill="#f8ded6"/>
<path d="M335.86 234.92h12.76v7.53h-12.76z" fill="#269bda"/>
<path d="M347.62 234.92h6.88v7.53h-6.88z" fill="#cbe4f1"/>
<path d="M353.5 234.92h6.88v7.53h-6.88z" fill="#37afe6"/>
<path d="M359.38 234.92h6.88v7.53h-6.88z" fill="#87cbed"/>
<path d="M365.26 234.92h6.88v7.53h-6.88z" fill="#f6f0ee"/>
<path d="M371.13 234.92h18.64v7.53h-18.64z" fill="#87cbed"/>
<path d="M388.77 234.92h6.88v7.53h-6.88z" fill="#f8c8b9"/>
<path d="M394.65 234.92h6.88v7.53h-6.88z" fill="#87cbed"/>
<path d="M400.53 234.92h12.76v7.53h-12.76z" fill="#f7b4a0"/>
<path d="M412.29 234.92h12.76v7.53h-12.76z" fill="#f8ded6"/>
<path d="M424.04 234.92h6.88v7.53h-6.88z" fill="#f7b4a0"/>
<path d="M429.92 234.92h5.88v7.53h-5.88z" fill="#269bda"/>
<path d="M77.2 241.45h24.51v7.53h-24.51z" fill="#2373c0"/>
<path d="M100.71 241.45h6.88v7.53h-6.88z" fill="#1e8ad0"/>
<path d="M106.59 241.45h6.88v7.53h-6.88z" fill="#87cbed"/>
<path d="M112.47 241.45h24.51v7.53h-24.51z" fill="#f8ded6"/>
<path d="M135.99 241.45h12.76v7.53h-12.76z" fill="#f37a5a"/>
<path d="M147.74 241.45h6.88v7.53h-6.88z" fill="#cbe4f1"/>
<path d="M153.62 241.45h6.88v7.53h-6.88z" fill="#37afe6"/>
<path d="M159.5 241.45h6.88v7.53h-6.88z" fill="#f8ded6"/>
<path d="M165.38 241.45h12.76v7.53h-12.76z" fill="#37afe6"/>
<path d="M177.14 241.45h6.88v7.53h-6.88z" fill="#f8ded6"/>
<path d="M183.02 241.45h6.88v7.53h-6.88z" fill="#f16046"/>
<path d="M188.9 241.45h30.39v7.53h-30.39z" fill="#1e8ad0"/>
<path d="M218.29 241.45h6.88v7.53h-6.88z" fill="#269bda"/>
<path d="M224.17 241.45h6.88v7.53h-6.88z" fill="#f7b4a0"/>
<path d="M230.05 241.45h18.64v7.53h-18.64z" fill="#1e8ad0"/>
<path d="M247.68 241.45h18.64v7.53h-18.64z" fill="#f8ded6"/>
<path d="M265.32 241.45h12.76v7.53h-12.76z" fill="#deebf2"/>
<path d="M277.08 241.45h6.88v7.53h-6.88z" fill="#37afe6"/>
<path d="M282.95 241.45h6.88v7.53h-6.88z" fill="#2d5fb2"/>
<path d="M288.83 241.45h6.88v7.53h-6.88z" fill="#ec383c"/>
<path d="M294.71 241.45h6.88v7.53h-6.88z" fill="#e8303a"/>
<path d="M300.59 241.45h6.88v7.53h-6.88z" fill="#ec383c"/>
<path d="M306.47 241.45h12.76v7.53h-12.76z" fill="#f7b4a0"/>
<path d="M318.23 241.45h6.88v7.53h-6.88z" fill="#87cbed"/>
<path d="M324.1 241.45h6.88v7.53h-6.88z" fill="#f7b4a0"/>
<path d="M329.98 241.45h6.88v7.53h-6.88z" fill="#f8ded6"/>
<path d="M335.86 241.45h12.76v7.53h-12.76z" fill="#269bda"/>
<path d="M347.62 241.45h6.88v7.53h-6.88z" fill="#87cbed"/>
<path d="M353.5 241.45h6.88v7.53h-6.88z" fill="#37afe6"/>
<path d="M359.38 241.45h6.88v7.53h-6.88z" fill="#87cbed"/>
<path d="M365.26 241.45h6.88v7.53h-6.88z" fill="#f6f0ee"/>
<path d="M371.13 241.45h18.64v7.53h-18.64z" fill="#87cbed"/>
<path d="M388.77 241.45h6.88v7.53h-6.88z" fill="#f8c8b9"/>
<path d="M394.65 241.45h6.88v7.53h-6.88z" fill="#87cbed"/>
<path d="M400.53 241.45h12.76v7.53h-12.76z" fill="#f7b4a0"/>
<path d="M412.29 241.45h12.76v7.53h-12.76z" fill="#f8ded6"/>
<path d="M424.04 241.45h6.88v7.53h-6.88z" fill="#f7b4a0"/>
<path d="M429.92 241.45h5.88v7.53h-5.88z" fill="#269bda"/>
<path d="M77.2 247.98h30.39v7.53h-30.39z" fill="#1e8ad0"/>
<path d="M106.59 247.98h6.88v7.53h-6.88z" fill="#87cbed"/>
<path d="M112.47 247.98h24.51v7.53h-24.51z" fill="#f8ded6"/>
<path d="M135.99 247.98h12.76v7.53h-12.76z" fill="#f37a5a"/>
<path d="M147.74 247.98h6.88v7.53h-6.88z" fill="#cbe4f1"/>
<path d="M153.62 247.98h6.88v7.53h-6.88z" fill="#37afe6"/>
<path d="M159.5 247.98h6.88v7.53h-6.88z" fill="#f8ded6"/>
<path d="M165.38 247.98h12.76v7.53h-12.76z" fill="#37afe6"/>
<path d="M177.14 247.98h6.88v7.53h-6.88z" fill="#f8ded6"/>
<path d="M183.02 247.98h6.88v7.53h-6.88z" fill="#f16046"/>
<path d="M188.9 247.98h30.39v7.53h-30.39z" fill="#1e8ad0"/>
<path d="M218.29 247.98h6.88v7.53h-6.88z" fill="#37afe6"/>
<path d="M224.17 247.98h6.88v7.53h-6.88z" fill="#f8ded6"/>
<path d="M230.05 247.98h18.64v7.53h-18.64z" fill="#1e8ad0"/>
<path d="M247.68 247.98h18.64v7.53h-18.64z" fill="#f8ded6"/>
<path d="M265.32 247.98h12.76v7.53h-12.76z" fill="#87cbed"/>
<path d="M277.08 247.98h6.88v7.53h-6.88z" fill="#37afe6"/>
<path d="M282.95 247.98h6.88v7.53h-6.88z" fill="#1e8ad0"/>
<path d="M288.83 247.98h12.76v7.53h-12.76z" fill="#ec383c"/>
<path d="M300.59 247.98h6.88v7.53h-6.88z" fill="#e8303a"/>
<path d="M306.47 247.98h12.76v7.53h-12.76z" fill="#f8ded6"/>
<path d="M318.23 247.98h6.88v7.53h-6.88z" fill="#87cbed"/>
<path d="M324.1 247.98h6.88v7.53h-6.88z" fill="#f7b4a0"/>
<path d="M329.98 247.98h6.88v7.53h-6.88z" fill="#f8ded6"/>
<path d="M335.86 247.98h12.76v7.53h-12.76z" fill="#269bda"/>
<path d="M347.62 247.98h6.88v7.53h-6.88z" fill="#f8ded6"/>
<path d="M353.5 247.98h6.88v7.53h-6.88z" fill="#37afe6"/>
<path d="M359.38 247.98h6.88v7.53h-6.88z" fill="#87cbed"/>
<path d="M365.26 247.98h6.88v7.53h-6.88z" fill="#f6f0ee"/>
<path d="M371.13 247.98h18.64v7.53h-18.64z" fill="#87cbed"/>
<path d="M388.77 247.98h6.88v7.53h-6.88z" fill="#f7b4a0"/>
<path d="M394.65 247.98h6.88v7.53h-6.88z" fill="#87cbed"/>
<path d="M400.53 247.98h12.76v7.53h-12.76z" fill="#f7b4a0"/>
<path d="M412.29 247.98h12.76v7.53h-12.76z" fill="#f8ded6"/>
<path d="M424.04 247.98h6.88v7.53h-6.88z" fill="#f7b4a0"/>
<path d="M429.92 247.98h5.88v7.53h-5.88z" fill="#269bda"/>
<path d="M77.2 254.51h30.39v7.53h-30.39z" fill="#cbe4f1"/>
<path d="M106.59 254.51h6.88v7.53h-6.88z" fill="#deebf2"/>
<path d="M112.47 254.51h24.51v7.53h-24.51z" fill="#f8ded6"/>
<path d="M135.99 254.51h12.76v7.53h-12.76z" fill="#f7b4a0"/>
<path d="M147.74 254.51h36.27v7.53h-36.27z" fill="#f8ded6"/>
<path d="M183.02 254.51h6.88v7.53h-6.88z" fill="#f7b4a0"/>
<path d="M188.9 254.51h12.76v7.53h-12.76z" fill="#cbe4f1"/>
<path d="M200.65 254.51h24.51v7.53h-24.51z" fill="#f8ded6"/>
<path d="M224.17 254.51h6.88v7.53h-6.88z" fill="#f7b4a0"/>
<path d="M230.05 254.51h6.88v7.53h-6.88z" fill="#cbe4f1"/>
<path d="M235.92 254.51h12.76v7.53h-12.76z" fill="#87cbed"/>
<path d="M247.68 254.51h6.88v7.53h-6.88z" fill="#f7b4a0"/>
<path d="M253.56 254.51h12.76v7.53h-12.76z" fill="#f8ded6"/>
<path d="M265.32 254.51h12.76v7.53h-12.76z" fill="#ef4c3a"/>
<path d="M277.08 254.51h6.88v7.53h-6.88z" fill="#87cbed"/>
<path d="M282.95 254.51h6.88v7.53h-6.88z" fill="#269bda"/>
<path d="M288.83 254.51h6.88v7.53h-6.88z" fill="#f37a5a"/>
<path d="M294.71 254.51h6.88v7.53h-6.88z" fill="#f7b4a0"/>
<path d="M300.59 254.51h6.88v7.53h-6.88z" fill="#f8ded6"/>
<path d="M306.47 254.51h6.88v7.53h-6.88z" fill="#e8303a"/>
<path d="M312.35 254.51h6.88v7.53h-6.88z" fill="#ec383c"/>
<path d="M318.23 254.51h6.88v7.53h-6.88z" fill="#f8ded6"/>
<path d="M324.1 254.51h6.88v7.53h-6.88z" fill="#87cbed"/>
<path d="M329.98 254.51h6.88v7.53h-6.88z" fill="#cbe4f1"/>
<path d="M335.86 254.51h12.76v7.53h-12.76z" fill="#f8ded6"/>
<path d="M347.62 254.51h6.88v7.53h-6.88z" fill="#f7b4a0"/>
<path d="M353.5 254.51h12.76v7.53h-12.76z" fill="#f8ded6"/>
<path d="M365.26 254.51h6.88v7.53h-6.88z" fill="#f6f0ee"/>
<path d="M371.13 254.51h18.64v7.53h-18.64z" fill="#f8ded6"/>
<path d="M388.77 254.51h6.88v7.53h-6.88z" fill="#cbe4f1"/>
<path d="M394.65 254.51h6.88v7.53h-6.88z" fill="#f7b4a0"/>
<path d="M400.53 254.51h6.88v7.53h-6.88z" fill="#f8ded6"/>
<path d="M406.41 254.51h6.88v7.53h-6.88z" fill="#f7b4a0"/>
<path d="M412.29 254.51h6.88v7.53h-6.88z" fill="#f8ded6"/>
<path d="M418.16 254.51h6.88v7.53h-6.88z" fill="#f7b4a0"/>
<path d="M424.04 254.51h6.88v7.53h-6.88z" fill="#f8ded6"/>
<path d="M429.92 254.51h5.88v7.53h-5.88z" fill="#deebf2"/>
<path d="M77.2 261.04h30.39v7.53h-30.39z" fill="#cbe4f1"/>
<path d="M106.59 261.04h30.39v7.53h-30.39z" fill="#f8ded6"/>
<path d="M135.99 261.04h18.64v7.53h-18.64z" fill="#f7b4a0"/>
<path d="M153.62 261.04h6.88v7.53h-6.88z" fill="#f8ded6"/>
<path d="M159.5 261.04h6.88v7.53h-6.88z" fill="#f7b4a0"/>
<path d="M165.38 261.04h18.64v7.53h-18.64z" fill="#f8ded6"/>
<path d="M183.02 261.04h6.88v7.53h-6.88z" fill="#f7b4a0"/>
<path d="M188.9 261.04h12.76v7.53h-12.76z" fill="#cbe4f1"/>
<path d="M200.65 261.04h24.51v7.53h-24.51z" fill="#f8ded6"/>
<path d="M224.17 261.04h6.88v7.53h-6.88z" fill="#f7b4a0"/>
<path d="M230.05 261.04h12.76v7.53h-12.76z" fill="#cbe4f1"/>
<path d="M241.8 261.04h6.88v7.53h-6.88z" fill="#87cbed"/>
<path d="M247.68 261.04h12.76v7.53h-12.76z" fill="#f7b4a0"/>
<path d="M259.44 261.04h6.88v7.53h-6.88z" fill="#f8ded6"/>
<path d="M265.32 261.04h12.76v7.53h-12.76z" fill="#ef4c3a"/>
<path d="M277.08 261.04h6.88v7.53h-6.88z" fill="#87cbed"/>
<path d="M282.95 261.04h6.88v7.53h-6.88z" fill="#269bda"/>
<path d="M288.83 261.04h6.88v7.53h-6.88z" fill="#f37a5a"/>
<path d="M294.71 261.04h6.88v7.53h-6.88z" fill="#f7b4a0"/>
<path d="M300.59 261.04h6.88v7.53h-6.88z" fill="#f8ded6"/>
<path d="M306.47 261.04h6.88v7.53h-6.88z" fill="#ec383c"/>
<path d="M312.35 261.04h6.88v7.53h-6.88z" fill="#e8303a"/>
<path d="M318.23 261.04h6.88v7.53h-6.88z" fill="#f8ded6"/>
<path d="M324.1 261.04h6.88v7.53h-6.88z" fill="#87cbed"/>
<path d="M329.98 261.04h18.64v7.53h-18.64z" fill="#f8ded6"/>
<path d="M347.62 261.04h6.88v7.53h-6.88z" fill="#f7b4a0"/>
<path d="M353.5 261.04h12.76v7.53h-12.76z" fill="#f8ded6"/>
<path d="M365.26 261.04h24.51v7.53h-24.51z" fill="#f6f0ee"/>
<path d="M388.77 261.04h6.88v7.53h-6.88z" fill="#87cbed"/>
<path d="M394.65 261.04h24.51v7.53h-24.51z" fill="#f8ded6"/>
<path d="M418.16 261.04h6.88v7.53h-6.88z" fill="#f7b4a0"/>
<path d="M424.04 261.04h6.88v7.53h-6.88z" fill="#f8ded6"/>
<path d="M429.92 261.04h5.88v7.53h-5.88z" fill="#deebf2"/>
<path d="M77.2 267.57h30.39v7.53h-30.39z" fill="#f37a5a"/>
<path d="M106.59 267.57h30.39v7.53h-30.39z" fill="#f59678"/>
<path d="M135.99 267.57h6.88v7.53h-6.88z" fill="#87cbed"/>
<path d="M141.87 267.57h6.88v7.53h-6.88z" fill="#cbe4f1"/>
<path d="M147.74 267.57h6.88v7.53h-6.88z" fill="#f7b4a0"/>
<path d="M153.62 267.57h6.88v7.53h-6.88z" fill="#f37a5a"/>
<path d="M159.5 267.57h6.88v7.53h-6.88z" fill="#f7b4a0"/>
<path d="M165.38 267.57h12.76v7.53h-12.76z" fill="#f37a5a"/>
<path d="M177.14 267.57h6.88v7.53h-6.88z" fill="#f8ded6"/>
<path d="M183.02 267.57h6.88v7.53h-6.88z" fill="#87cbed"/>
<path d="M188.9 267.57h30.39v7.53h-30.39z" fill="#f37a5a"/>
<path d="M218.29 267.57h6.88v7.53h-6.88z" fill="#f59678"/>
<path d="M224.17 267.57h6.88v7.53h-6.88z" fill="#f8ded6"/>
<path d="M230.05 267.57h48.03v7.53h-48.03z" fill="#f59678"/>
<path d="M277.08 267.57h6.88v7.53h-6.88z" fill="#f8ded6"/>
<path d="M282.95 267.57h6.88v7.53h-6.88z" fill="#f59678"/>
<path d="M288.83 267.57h18.64v7.53h-18.64z" fill="#87cbed"/>
<path d="M306.47 267.57h12.76v7.53h-12.76z" fill="#f8ded6"/>
<path d="M318.23 267.57h6.88v7.53h-6.88z" fill="#e8303a"/>
<path d="M324.1 267.57h6.88v7.53h-6.88z" fill="#f8ded6"/>
<path d="M329.98 267.57h6.88v7.53h-6.88z" fill="#f7b4a0"/>
<path d="M335.86 267.57h12.76v7.53h-12.76z" fill="#f37a5a"/>
<path d="M347.62 267.57h6.88v7.53h-6.88z" fill="#f7b4a0"/>
<path d="M353.5 267.57h12.76v7.53h-12.76z" fill="#f37a5a"/>
<path d="M365.26 267.57h6.88v7.53h-6.88z" fill="#f8c8b9"/>
<path d="M371.13 267.57h18.64v7.53h-18.64z" fill="#f37a5a"/>
<path d="M388.77 267.57h6.88v7.53h-6.88z" fill="#f8ded6"/>
<path d="M394.65 267.57h6.88v7.53h-6.88z" fill="#f59678"/>
<path d="M400.53 267.57h12.76v7.53h-12.76z" fill="#87cbed"/>
<path d="M412.29 267.57h6.88v7.53h-6.88z" fill="#f8ded6"/>
<path d="M418.16 267.57h6.88v7.53h-6.88z" fill="#f7b4a0"/>
<path d="M424.04 267.57h6.88v7.53h-6.88z" fill="#87cbed"/>
<path d="M429.92 267.57h5.88v7.53h-5.88z" fill="#f37a5a"/>
<path d="M77.2 274.1h30.39v7.53h-30.39z" fill="#cbe4f1"/>
<path d="M106.59 274.1h30.39v7.53h-30.39z" fill="#deebf2"/>
<path d="M135.99 274.1h6.88v7.53h-6.88z" fill="#f8c8b9"/>
<path d="M141.87 274.1h6.88v7.53h-6.88z" fill="#f8ded6"/>
<path d="M147.74 274.1h12.76v7.53h-12.76z" fill="#cbe4f1"/>
<path d="M159.5 274.1h30.39v7.53h-30.39z" fill="#deebf2"/>
<path d="M188.9 274.1h12.76v7.53h-12.76z" fill="#cbe4f1"/>
<path d="M200.65 274.1h12.76v7.53h-12.76z" fill="#deebf2"/>
<path d="M212.41 274.1h12.76v7.53h-12.76z" fill="#cbe4f1"/>
<path d="M224.17 274.1h6.88v7.53h-6.88z" fill="#f6f0ee"/>
<path d="M230.05 274.1h12.76v7.53h-12.76z" fill="#cbe4f1"/>
<path d="M241.8 274.1h6.88v7.53h-6.88z" fill="#87cbed"/>
<path d="M247.68 274.1h18.64v7.53h-18.64z" fill="#cbe4f1"/>
<path d="M265.32 274.1h12.76v7.53h-12.76z" fill="#87cbed"/>
<path d="M277.08 274.1h6.88v7.53h-6.88z" fill="#f8ded6"/>
<path d="M282.95 274.1h6.88v7.53h-6.88z" fill="#87cbed"/>
<path d="M288.83 274.1h18.64v7.53h-18.64z" fill="#f7b4a0"/>
<path d="M306.47 274.1h12.76v7.53h-12.76z" fill="#87cbed"/>
<path d="M318.23 274.1h6.88v7.53h-6.88z" fill="#f8ded6"/>
<path d="M324.1 274.1h6.88v7.53h-6.88z" fill="#e8303a"/>
<path d="M329.98 274.1h6.88v7.53h-6.88z" fill="#f7b4a0"/>
<path d="M335.86 274.1h18.64v7.53h-18.64z" fill="#cbe4f1"/>
<path d="M353.5 274.1h6.88v7.53h-6.88z" fill="#87cbed"/>
<path d="M359.38 274.1h6.88v7.53h-6.88z" fill="#f8ded6"/>
<path d="M365.26 274.1h6.88v7.53h-6.88z" fill="#f7b4a0"/>
<path d="M371.13 274.1h6.88v7.53h-6.88z" fill="#f8ded6"/>
<path d="M377.01 274.1h12.76v7.53h-12.76z" fill="#87cbed"/>
<path d="M388.77 274.1h6.88v7.53h-6.88z" fill="#cbe4f1"/>
<path d="M394.65 274.1h6.88v7.53h-6.88z" fill="#87cbed"/>
<path d="M400.53 274.1h12.76v7.53h-12.76z" fill="#deebf2"/>
<path d="M412.29 274.1h18.64v7.53h-18.64z" fill="#f8ded6"/>
<path d="M429.92 274.1h5.88v7.53h-5.88z" fill="#87cbed"/>
<path d="M77.2 280.63h30.39v7.53h-30.39z" fill="#cbe4f1"/>
<path d="M106.59 280.63h30.39v7.53h-30.39z" fill="#deebf2"/>
<path d="M135.99 280.63h12.76v7.53h-12.76z" fill="#f8ded6"/>
<path d="M147.74 280.63h12.76v7.53h-12.76z" fill="#87cbed"/>
<path d="M159.5 280.63h24.51v7.53h-24.51z" fill="#cbe4f1"/>
<path d="M183.02 280.63h6.88v7.53h-6.88z" fill="#deebf2"/>
<path d="M188.9 280.63h77.42v7.53h-77.42z" fill="#cbe4f1"/>
<path d="M265.32 280.63h6.88v7.53h-6.88z" fill="#87cbed"/>
<path d="M271.2 280.63h6.88v7.53h-6.88z" fill="#cbe4f1"/>
<path d="M277.08 280.63h6.88v7.53h-6.88z" fill="#f6f0ee"/>
<path d="M282.95 280.63h6.88v7.53h-6.88z" fill="#cbe4f1"/>
<path d="M288.83 280.63h18.64v7.53h-18.64z" fill="#f8ded6"/>
<path d="M306.47 280.63h6.88v7.53h-6.88z" fill="#cbe4f1"/>
<path d="M312.35 280.63h6.88v7.53h-6.88z" fill="#f8ded6"/>
<path d="M318.23 280.63h12.76v7.53h-12.76z" fill="#f7b4a0"/>
<path d="M329.98 280.63h6.88v7.53h-6.88z" fill="#e8303a"/>
<path d="M335.86 280.63h6.88v7.53h-6.88z" fill="#cbe4f1"/>
<path d="M341.74 280.63h12.76v7.53h-12.76z" fill="#87cbed"/>
<path d="M353.5 280.63h48.03v7.53h-48.03z" fill="#f8ded6"/>
<path d="M400.53 280.63h12.76v7.53h-12.76z" fill="#deebf2"/>
<path d="M412.29 280.63h23.51v7.53h-23.51z" fill="#f8ded6"/>
<path d="M77.2 287.16h30.39v7.53h-30.39z" fill="#ef4c3a"/>
<path d="M106.59 287.16h6.88v7.53h-6.88z" fill="#f37a5a"/>
<path d="M112.47 287.16h24.51v7.53h-24.51z" fill="#f7b4a0"/>
<path d="M135.99 287.16h12.76v7.53h-12.76z" fill="#269bda"/>
<path d="M147.74 287.16h6.88v7.53h-6.88z" fill="#cbe4f1"/>
<path d="M153.62 287.16h6.88v7.53h-6.88z" fill="#f37a5a"/>
<path d="M159.5 287.16h6.88v7.53h-6.88z" fill="#f7b4a0"/>
<path d="M165.38 287.16h12.76v7.53h-12.76z" fill="#ef4c3a"/>
<path d="M177.14 287.16h6.88v7.53h-6.88z" fill="#f8ded6"/>
<path d="M183.02 287.16h6.88v7.53h-6.88z" fill="#269bda"/>
<path d="M188.9 287.16h12.76v7.53h-12.76z" fill="#ef4c3a"/>
<path d="M200.65 287.16h24.51v7.53h-24.51z" fill="#f16046"/>
<path d="M224.17 287.16h6.88v7.53h-6.88z" fill="#87cbed"/>
<path d="M230.05 287.16h18.64v7.53h-18.64z" fill="#f16046"/>
<path d="M247.68 287.16h30.39v7.53h-30.39z" fill="#f59678"/>
<path d="M277.08 287.16h6.88v7.53h-6.88z" fill="#87cbed"/>
<path d="M282.95 287.16h6.88v7.53h-6.88z" fill="#f37a5a"/>
<path d="M288.83 287.16h18.64v7.53h-18.64z" fill="#269bda"/>
<path d="M306.47 287.16h12.76v7.53h-12.76z" fill="#f8ded6"/>
<path d="M318.23 287.16h6.88v7.53h-6.88z" fill="#f37a5a"/>
<path d="M324.1 287.16h12.76v7.53h-12.76z" fill="#cbe4f1"/>
<path d="M335.86 287.16h6.88v7.53h-6.88z" fill="#e8303a"/>
<path d="M341.74 287.16h6.88v7.53h-6.88z" fill="#ee403e"/>
<path d="M347.62 287.16h6.88v7.53h-6.88z" fill="#ef4c3a"/>
<path d="M353.5 287.16h12.76v7.53h-12.76z" fill="#f37a5a"/>
<path d="M365.26 287.16h6.88v7.53h-6.88z" fill="#f7b4a0"/>
<path d="M371.13 287.16h18.64v7.53h-18.64z" fill="#f59678"/>
<path d="M388.77 287.16h6.88v7.53h-6.88z" fill="#f8ded6"/>
<path d="M394.65 287.16h6.88v7.53h-6.88z" fill="#f37a5a"/>
<path d="M400.53 287.16h12.76v7.53h-12.76z" fill="#deebf2"/>
<path d="M412.29 287.16h18.64v7.53h-18.64z" fill="#f8ded6"/>
<path d="M429.92 287.16h5.88v7.53h-5.88z" fill="#f16046"/>
<path d="M77.2 293.69h30.39v7.53h-30.39z" fill="#f16046"/>
<path d="M106.59 293.69h6.88v7.53h-6.88z" fill="#f59678"/>
<path d="M112.47 293.69h24.51v7.53h-24.51z" fill="#f7b4a0"/>
<path d="M135.99 293.69h12.76v7.53h-12.76z" fill="#269bda"/>
<path d="M147.74 293.69h6.88v7.53h-6.88z" fill="#deebf2"/>
<path d="M153.62 293.69h6.88v7.53h-6.88z" fill="#f37a5a"/>
<path d="M159.5 293.69h6.88v7.53h-6.88z" fill="#f7b4a0"/>
<path d="M165.38 293.69h12.76v7.53h-12.76z" fill="#ef4c3a"/>
<path d="M177.14 293.69h6.88v7.53h-6.88z" fill="#f7b4a0"/>
<path d="M183.02 293.69h6.88v7.53h-6.88z" fill="#269bda"/>
<path d="M188.9 293.69h30.39v7.53h-30.39z" fill="#f16046"/>
<path d="M218.29 293.69h6.88v7.53h-6.88z" fill="#f37a5a"/>
<path d="M224.17 293.69h6.88v7.53h-6.88z" fill="#87cbed"/>
<path d="M230.05 293.69h18.64v7.53h-18.64z" fill="#f37a5a"/>
<path d="M247.68 293.69h30.39v7.53h-30.39z" fill="#f59678"/>
<path d="M277.08 293.69h6.88v7.53h-6.88z" fill="#cbe4f1"/>
<path d="M282.95 293.69h6.88v7.53h-6.88z" fill="#f37a5a"/>
<path d="M288.83 293.69h18.64v7.53h-18.64z" fill="#269bda"/>
<path d="M306.47 293.69h12.76v7.53h-12.76z" fill="#f8ded6"/>
<path d="M318.23 293.69h6.88v7.53h-6.88z" fill="#f37a5a"/>
<path d="M324.1 293.69h6.88v7.53h-6.88z" fill="#cbe4f1"/>
<path d="M329.98 293.69h6.88v7.53h-6.88z" fill="#87cbed"/>
<path d="M335.86 293.69h6.88v7.53h-6.88z" fill="#ee403e"/>
<path d="M341.74 293.69h6.88v7.53h-6.88z" fill="#e8303a"/>
<path d="M347.62 293.69h6.88v7.53h-6.88z" fill="#ee403e"/>
<path d="M353.5 293.69h12.76v7.53h-12.76z" fill="#f37a5a"/>
<path d="M365.26 293.69h6.88v7.53h-6.88z" fill="#f7b4a0"/>
<path d="M371.13 293.69h18.64v7.53h-18.64z" fill="#f59678"/>
<path d="M388.77 293.69h6.88v7.53h-6.88z" fill="#f8ded6"/>
<path d="M394.65 293.69h6.88v7.53h-6.88z" fill="#f37a5a"/>
<path d="M400.53 293.69h12.76v7.53h-12.76z" fill="#deebf2"/>
<path d="M412.29 293.69h6.88v7.53h-6.88z" fill="#f8ded6"/>
<path d="M418.16 293.69h6.88v7.53h-6.88z" fill="#f7b4a0"/>
<path d="M424.04 293.69h6.88v7.53h-6.88z" fill="#f8ded6"/>
<path d="M429.92 293.69h5.88v7.53h-5.88z" fill="#f16046"/>
<path d="M77.2 300.22h30.39v7.53h-30.39z" fill="#f59678"/>
<path d="M106.59 300.22h30.39v7.53h-30.39z" fill="#f7b4a0"/>
<path d="M135.99 300.22h12.76v7.53h-12.76z" fill="#87cbed"/>
<path d="M147.74 300.22h6.88v7.53h-6.88z" fill="#deebf2"/>
<path d="M153.62 300.22h6.88v7.53h-6.88z" fill="#f59678"/>
<path d="M159.5 300.22h6.88v7.53h-6.88z" fill="#f7b4a0"/>
<path d="M165.38 300.22h12.76v7.53h-12.76z" fill="#f59678"/>
<path d="M177.14 300.22h6.88v7.53h-6.88z" fill="#f7b4a0"/>
<path d="M183.02 300.22h6.88v7.53h-6.88z" fill="#87cbed"/>
<path d="M188.9 300.22h36.27v7.53h-36.27z" fill="#f59678"/>
<path d="M224.17 300.22h6.88v7.53h-6.88z" fill="#87cbed"/>
<path d="M230.05 300.22h18.64v7.53h-18.64z" fill="#f59678"/>
<path d="M247.68 300.22h30.39v7.53h-30.39z" fill="#f7b4a0"/>
<path d="M277.08 300.22h6.88v7.53h-6.88z" fill="#cbe4f1"/>
<path d="M282.95 300.22h6.88v7.53h-6.88z" fill="#f59678"/>
<path d="M288.83 300.22h6.88v7.53h-6.88z" fill="#cbe4f1"/>
<path d="M294.71 300.22h6.88v7.53h-6.88z" fill="#87cbed"/>
<path d="M300.59 300.22h6.88v7.53h-6.88z" fill="#f8ded6"/>
<path d="M306.47 300.22h18.64v7.53h-18.64z" fill="#f7b4a0"/>
<path d="M324.1 300.22h6.88v7.53h-6.88z" fill="#cbe4f1"/>
<path d="M329.98 300.22h6.88v7.53h-6.88z" fill="#87cbed"/>
<path d="M335.86 300.22h6.88v7.53h-6.88z" fill="#ef4c3a"/>
<path d="M341.74 300.22h6.88v7.53h-6.88z" fill="#ee403e"/>
<path d="M347.62 300.22h6.88v7.53h-6.88z" fill="#e8303a"/>
<path d="M353.5 300.22h12.76v7.53h-12.76z" fill="#f37a5a"/>
<path d="M365.26 300.22h6.88v7.53h-6.88z" fill="#f7b4a0"/>
<path d="M371.13 300.22h18.64v7.53h-18.64z" fill="#f59678"/>
<path d="M388.77 300.22h6.88v7.53h-6.88z" fill="#f8ded6"/>
<path d="M394.65 300.22h6.88v7.53h-6.88z" fill="#f59678"/>
<path d="M400.53 300.22h12.76v7.53h-12.76z" fill="#deebf2"/>
<path d="M412.29 300.22h6.88v7.53h-6.88z" fill="#f8c8b9"/>
<path d="M418.16 300.22h12.76v7.53h-12.76z" fill="#f8ded6"/>
<path d="M429.92 300.22h5.88v7.53h-5.88z" fill="#f37a5a"/>
<path d="M77.2 306.75h30.39v7.53h-30.39z" fill="#f37a5a"/>
<path d="M106.59 306.75h30.39v7.53h-30.39z" fill="#f59678"/>
<path d="M135.99 306.75h12.76v7.53h-12.76z" fill="#87cbed"/>
<path d="M147.74 306.75h6.88v7.53h-6.88z" fill="#deebf2"/>
<path d="M153.62 306.75h6.88v7.53h-6.88z" fill="#f37a5a"/>
<path d="M159.5 306.75h6.88v7.53h-6.88z" fill="#f7b4a0"/>
<path d="M165.38 306.75h12.76v7.53h-12.76z" fill="#f37a5a"/>
<path d="M177.14 306.75h6.88v7.53h-6.88z" fill="#f7b4a0"/>
<path d="M183.02 306.75h6.88v7.53h-6.88z" fill="#87cbed"/>
<path d="M188.9 306.75h36.27v7.53h-36.27z" fill="#f37a5a"/>
<path d="M224.17 306.75h6.88v7.53h-6.88z" fill="#87cbed"/>
<path d="M230.05 306.75h18.64v7.53h-18.64z" fill="#f37a5a"/>
<path d="M247.68 306.75h30.39v7.53h-30.39z" fill="#f59678"/>
<path d="M277.08 306.75h6.88v7.53h-6.88z" fill="#cbe4f1"/>
<path d="M282.95 306.75h6.88v7.53h-6.88z" fill="#f37a5a"/>
<path d="M288.83 306.75h18.64v7.53h-18.64z" fill="#37afe6"/>
<path d="M306.47 306.75h12.76v7.53h-12.76z" fill="#f8ded6"/>
<path d="M318.23 306.75h6.88v7.53h-6.88z" fill="#f37a5a"/>
<path d="M324.1 306.75h6.88v7.53h-6.88z" fill="#87cbed"/>
<path d="M329.98 306.75h6.88v7.53h-6.88z" fill="#f8ded6"/>
<path d="M335.86 306.75h18.64v7.53h-18.64z" fill="#f37a5a"/>
<path d="M353.5 306.75h6.88v7.53h-6.88z" fill="#e8303a"/>
<path d="M359.38 306.75h6.88v7.53h-6.88z" fill="#f37a5a"/>
<path d="M365.26 306.75h6.88v7.53h-6.88z" fill="#f7b4a0"/>
<path d="M371.13 306.75h18.64v7.53h-18.64z" fill="#f59678"/>
<path d="M388.77 306.75h6.88v7.53h-6.88z" fill="#f8ded6"/>
<path d="M394.65 306.75h6.88v7.53h-6.88z" fill="#f37a5a"/>
<path d="M400.53 306.75h12.76v7.53h-12.76z" fill="#deebf2"/>
<path d="M412.29 306.75h18.64v7.53h-18.64z" fill="#f8ded6"/>
<path d="M429.92 306.75h5.88v7.53h-5.88z" fill="#f16046"/>
<path d="M77.2 313.28h30.39v7.53h-30.39z" fill="#f37a5a"/>
<path d="M106.59 313.28h6.88v7.53h-6.88z" fill="#f59678"/>
<path d="M112.47 313.28h24.51v7.53h-24.51z" fill="#f8ded6"/>
<path d="M135.99 313.28h12.76v7.53h-12.76z" fill="#87cbed"/>
<path d="M147.74 313.28h6.88v7.53h-6.88z" fill="#f8ded6"/>
<path d="M153.62 313.28h6.88v7.53h-6.88z" fill="#f7b4a0"/>
<path d="M159.5 313.28h6.88v7.53h-6.88z" fill="#f8ded6"/>
<path d="M165.38 313.28h12.76v7.53h-12.76z" fill="#f7b4a0"/>
<path d="M177.14 313.28h6.88v7.53h-6.88z" fill="#f8ded6"/>
<path d="M183.02 313.28h6.88v7.53h-6.88z" fill="#87cbed"/>
<path d="M188.9 313.28h12.76v7.53h-12.76z" fill="#f7b4a0"/>
<path d="M200.65 313.28h6.88v7.53h-6.88z" fill="#f8c8b9"/>
<path d="M206.53 313.28h6.88v7.53h-6.88z" fill="#f8ded6"/>
<path d="M212.41 313.28h12.76v7.53h-12.76z" fill="#f7b4a0"/>
<path d="M224.17 313.28h6.88v7.53h-6.88z" fill="#cbe4f1"/>
<path d="M230.05 313.28h18.64v7.53h-18.64z" fill="#f7b4a0"/>
<path d="M247.68 313.28h18.64v7.53h-18.64z" fill="#f8ded6"/>
<path d="M265.32 313.28h12.76v7.53h-12.76z" fill="#f7b4a0"/>
<path d="M277.08 313.28h6.88v7.53h-6.88z" fill="#deebf2"/>
<path d="M282.95 313.28h6.88v7.53h-6.88z" fill="#f7b4a0"/>
<path d="M288.83 313.28h18.64v7.53h-18.64z" fill="#87cbed"/>
<path d="M306.47 313.28h12.76v7.53h-12.76z" fill="#f8ded6"/>
<path d="M318.23 313.28h6.88v7.53h-6.88z" fill="#f37a5a"/>
<path d="M324.1 313.28h12.76v7.53h-12.76z" fill="#f8ded6"/>
<path d="M335.86 313.28h24.51v7.53h-24.51z" fill="#f37a5a"/>
<path d="M359.38 313.28h6.88v7.53h-6.88z" fill="#e8303a"/>
<path d="M365.26 313.28h6.88v7.53h-6.88z" fill="#f7b4a0"/>
<path d="M371.13 313.28h18.64v7.53h-18.64z" fill="#f59678"/>
<path d="M388.77 313.28h6.88v7.53h-6.88z" fill="#cbe4f1"/>
<path d="M394.65 313.28h6.88v7.53h-6.88z" fill="#f59678"/>
<path d="M400.53 313.28h12.76v7.53h-12.76z" fill="#87cbed"/>
<path d="M412.29 313.28h18.64v7.53h-18.64z" fill="#f8ded6"/>
<path d="M429.92 313.28h5.88v7.53h-5.88z" fill="#f7b4a0"/>
<path d="M77.2 319.81h6.88v7.53h-6.88z" fill="#f8c8b9"/>
<path d="M83.08 319.81h6.88v7.53h-6.88z" fill="#f8ded6"/>
<path d="M88.96 319.81h12.76v7.53h-12.76z" fill="#f8c8b9"/>
<path d="M100.71 319.81h36.27v7.53h-36.27z" fill="#f8ded6"/>
<path d="M135.99 319.81h12.76v7.53h-12.76z" fill="#cbe4f1"/>
<path d="M147.74 319.81h6.88v7.53h-6.88z" fill="#f8ded6"/>
<path d="M153.62 319.81h6.88v7.53h-6.88z" fill="#f8c8b9"/>
<path d="M159.5 319.81h12.76v7.53h-12.76z" fill="#f8ded6"/>
<path d="M171.26 319.81h6.88v7.53h-6.88z" fill="#f8c8b9"/>
<path d="M177.14 319.81h6.88v7.53h-6.88z" fill="#f8ded6"/>
<path d="M183.02 319.81h6.88v7.53h-6.88z" fill="#deebf2"/>
<path d="M188.9 319.81h12.76v7.53h-12.76z" fill="#f8c8b9"/>
<path d="M200.65 319.81h12.76v7.53h-12.76z" fill="#deebf2"/>
<path d="M212.41 319.81h65.67v7.53h-65.67z" fill="#f8ded6"/>
<path d="M277.08 319.81h6.88v7.53h-6.88z" fill="#deebf2"/>
<path d="M282.95 319.81h6.88v7.53h-6.88z" fill="#f8ded6"/>
<path d="M288.83 319.81h30.39v7.53h-30.39z" fill="#f6f0ee"/>
<path d="M318.23 319.81h6.88v7.53h-6.88z" fill="#f8c8b9"/>
<path d="M324.1 319.81h6.88v7.53h-6.88z" fill="#f7b4a0"/>
<path d="M329.98 319.81h6.88v7.53h-6.88z" fill="#f8ded6"/>
<path d="M335.86 319.81h30.39v7.53h-30.39z" fill="#f7b4a0"/>
<path d="M365.26 319.81h6.88v7.53h-6.88z" fill="#e8303a"/>
<path d="M371.13 319.81h64.67v7.53h-64.67z" fill="#f8ded6"/>
<path d="M77.2 326.34h30.39v7.53h-30.39z" fill="#f37a5a"/>
<path d="M106.59 326.34h6.88v7.53h-6.88z" fill="#f59678"/>
<path d="M112.47 326.34h24.51v7.53h-24.51z" fill="#f8ded6"/>
<path d="M135.99 326.34h12.76v7.53h-12.76z" fill="#87cbed"/>
<path d="M147.74 326.34h6.88v7.53h-6.88z" fill="#f8ded6"/>
<path d="M153.62 326.34h6.88v7.53h-6.88z" fill="#f59678"/>
<path d="M159.5 326.34h6.88v7.53h-6.88z" fill="#f8ded6"/>
<path d="M165.38 326.34h12.76v7.53h-12.76z" fill="#f59678"/>
<path d="M177.14 326.34h6.88v7.53h-6.88z" fill="#f8ded6"/>
<path d="M183.02 326.34h6.88v7.53h-6.88z" fill="#87cbed"/>
<path d="M188.9 326.34h12.76v7.53h-12.76z" fill="#f59678"/>
<path d="M200.65 326.34h6.88v7.53h-6.88z" fill="#f7b4a0"/>
<path d="M206.53 326.34h6.88v7.53h-6.88z" fill="#f8ded6"/>
<path d="M212.41 326.34h6.88v7.53h-6.88z" fill="#f8c8b9"/>
<path d="M218.29 326.34h6.88v7.53h-6.88z" fill="#f7b4a0"/>
<path d="M224.17 326.34h6.88v7.53h-6.88z" fill="#cbe4f1"/>
<path d="M230.05 326.34h24.51v7.53h-24.51z" fill="#f7b4a0"/>
<path d="M253.56 326.34h6.88v7.53h-6.88z" fill="#f8ded6"/>
<path d="M259.44 326.34h18.64v7.53h-18.64z" fill="#f7b4a0"/>
<path d="M277.08 326.34h6.88v7.53h-6.88z" fill="#87cbed"/>
<path d="M282.95 326.34h6.88v7.53h-6.88z" fill="#f7b4a0"/>
<path d="M288.83 326.34h18.64v7.53h-18.64z" fill="#87cbed"/>
<path d="M306.47 326.34h6.88v7.53h-6.88z" fill="#f8ded6"/>
<path d="M312.35 326.34h6.88v7.53h-6.88z" fill="#f6f0ee"/>
<path d="M318.23 326.34h6.88v7.53h-6.88z" fill="#f37a5a"/>
<path d="M324.1 326.34h12.76v7.53h-12.76z" fill="#f8ded6"/>
<path d="M335.86 326.34h30.39v7.53h-30.39z" fill="#f59678"/>
<path d="M365.26 326.34h6.88v7.53h-6.88z" fill="#f8ded6"/>
<path d="M371.13 326.34h6.88v7.53h-6.88z" fill="#e8303a"/>
<path d="M377.01 326.34h12.76v7.53h-12.76z" fill="#f59678"/>
<path d="M388.77 326.34h6.88v7.53h-6.88z" fill="#f8ded6"/>
<path d="M394.65 326.34h6.88v7.53h-6.88z" fill="#f59678"/>
<path d="M400.53 326.34h6.88v7.53h-6.88z" fill="#deebf2"/>
<path d="M406.41 326.34h6.88v7.53h-6.88z" fill="#f8ded6"/>
<path d="M412.29 326.34h6.88v7.53h-6.88z" fill="#deebf2"/>
<path d="M418.16 326.34h6.88v7.53h-6.88z" fill="#f8ded6"/>
<path d="M424.04 326.34h6.88v7.53h-6.88z" fill="#deebf2"/>
<path d="M429.92 326.34h5.88v7.53h-5.88z" fill="#f37a5a"/>
<path d="M77.2 332.87h30.39v7.53h-30.39z" fill="#f37a5a"/>
<path d="M106.59 332.87h6.88v7.53h-6.88z" fill="#f59678"/>
<path d="M112.47 332.87h24.51v7.53h-24.51z" fill="#f8ded6"/>
<path d="M135.99 332.87h12.76v7.53h-12.76z" fill="#87cbed"/>
<path d="M147.74 332.87h6.88v7.53h-6.88z" fill="#f8ded6"/>
<path d="M153.62 332.87h6.88v7.53h-6.88z" fill="#f59678"/>
<path d="M159.5 332.87h6.88v7.53h-6.88z" fill="#f8ded6"/>
<path d="M165.38 332.87h12.76v7.53h-12.76z" fill="#f59678"/>
<path d="M177.14 332.87h6.88v7.53h-6.88z" fill="#f8ded6"/>
<path d="M183.02 332.87h6.88v7.53h-6.88z" fill="#87cbed"/>
<path d="M188.9 332.87h30.39v7.53h-30.39z" fill="#f59678"/>
<path d="M218.29 332.87h6.88v7.53h-6.88z" fill="#f7b4a0"/>
<path d="M224.17 332.87h6.88v7.53h-6.88z" fill="#cbe4f1"/>
<path d="M230.05 332.87h48.03v7.53h-48.03z" fill="#f7b4a0"/>
<path d="M277.08 332.87h6.88v7.53h-6.88z" fill="#87cbed"/>
<path d="M282.95 332.87h6.88v7.53h-6.88z" fill="#f7b4a0"/>
<path d="M288.83 332.87h18.64v7.53h-18.64z" fill="#87cbed"/>
<path d="M306.47 332.87h6.88v7.53h-6.88z" fill="#f8ded6"/>
<path d="M312.35 332.87h6.88v7.53h-6.88z" fill="#f6f0ee"/>
<path d="M318.23 332.87h6.88v7.53h-6.88z" fill="#f37a5a"/>
<path d="M324.1 332.87h6.88v7.53h-6.88z" fill="#87cbed"/>
<path d="M329.98 332.87h6.88v7.53h-6.88z" fill="#f8ded6"/>
<path d="M335.86 332.87h30.39v7.53h-30.39z" fill="#f59678"/>
<path d="M365.26 332.87h6.88v7.53h-6.88z" fill="#f8ded6"/>
<path d="M371.13 332.87h6.88v7.53h-6.88z" fill="#f59678"/>
<path d="M377.01 332.87h6.88v7.53h-6.88z" fill="#e8303a"/>
<path d="M382.89 332.87h6.88v7.53h-6.88z" fill="#ee403e"/>
<path d="M388.77 332.87h6.88v7.53h-6.88z" fill="#f8ded6"/>
<path d="M394.65 332.87h6.88v7.53h-6.88z" fill="#f59678"/>
<path d="M400.53 332.87h18.64v7.53h-18.64z" fill="#deebf2"/>
<path d="M418.16 332.87h6.88v7.53h-6.88z" fill="#f7b4a0"/>
<path d="M424.04 332.87h6.88v7.53h-6.88z" fill="#deebf2"/>
<path d="M429.92 332.87h5.88v7.53h-5.88z" fill="#f37a5a"/>
<path d="M77.2 339.4h30.39v7.53h-30.39z" fill="#f37a5a"/>
<path d="M106.59 339.4h6.88v7.53h-6.88z" fill="#f59678"/>
<path d="M112.47 339.4h24.51v7.53h-24.51z" fill="#f8ded6"/>
<path d="M135.99 339.4h12.76v7.53h-12.76z" fill="#87cbed"/>
<path d="M147.74 339.4h6.88v7.53h-6.88z" fill="#f8ded6"/>
<path d="M153.62 339.4h6.88v7.53h-6.88z" fill="#f59678"/>
<path d="M159.5 339.4h6.88v7.53h-6.88z" fill="#f8ded6"/>
<path d="M165.38 339.4h12.76v7.53h-12.76z" fill="#f59678"/>
<path d="M177.14 339.4h6.88v7.53h-6.88z" fill="#f8ded6"/>
<path d="M183.02 339.4h6.88v7.53h-6.88z" fill="#87cbed"/>
<path d="M188.9 339.4h30.39v7.53h-30.39z" fill="#f59678"/>
<path d="M218.29 339.4h6.88v7.53h-6.88z" fill="#f7b4a0"/>
<path d="M224.17 339.4h6.88v7.53h-6.88z" fill="#cbe4f1"/>
<path d="M230.05 339.4h18.64v7.53h-18.64z" fill="#f7b4a0"/>
<path d="M247.68 339.4h12.76v7.53h-12.76z" fill="#f8ded6"/>
<path d="M259.44 339.4h18.64v7.53h-18.64z" fill="#f7b4a0"/>
<path d="M277.08 339.4h6.88v7.53h-6.88z" fill="#cbe4f1"/>
<path d="M282.95 339.4h6.88v7.53h-6.88z" fill="#f7b4a0"/>
<path d="M288.83 339.4h18.64v7.53h-18.64z" fill="#87cbed"/>
<path d="M306.47 339.4h6.88v7.53h-6.88z" fill="#f8ded6"/>
<path d="M312.35 339.4h6.88v7.53h-6.88z" fill="#f6f0ee"/>
<path d="M318.23 339.4h6.88v7.53h-6.88z" fill="#f37a5a"/>
<path d="M324.1 339.4h6.88v7.53h-6.88z" fill="#87cbed"/>
<path d="M329.98 339.4h6.88v7.53h-6.88z" fill="#f8ded6"/>
<path d="M335.86 339.4h30.39v7.53h-30.39z" fill="#f59678"/>
<path d="M365.26 339.4h6.88v7.53h-6.88z" fill="#f8ded6"/>
<path d="M371.13 339.4h6.88v7.53h-6.88z" fill="#f59678"/>
<path d="M377.01 339.4h6.88v7.53h-6.88z" fill="#ee403e"/>
<path d="M382.89 339.4h6.88v7.53h-6.88z" fill="#e8303a"/>
<path d="M388.77 339.4h6.88v7.53h-6.88z" fill="#f8ded6"/>
<path d="M394.65 339.4h6.88v7.53h-6.88z" fill="#f59678"/>
<path d="M400.53 339.4h18.64v7.53h-18.64z" fill="#deebf2"/>
<path d="M418.16 339.4h6.88v7.53h-6.88z" fill="#f7b4a0"/>
<path d="M424.04 339.4h6.88v7.53h-6.88z" fill="#deebf2"/>
<path d="M429.92 339.4h5.88v7.53h-5.88z" fill="#f37a5a"/>
<path d="M77.2 345.93h59.79v7.53h-59.79z" fill="#cbe4f1"/>
<path d="M135.99 345.93h12.76v7.53h-12.76z" fill="#f8ded6"/>
<path d="M147.74 345.93h12.76v7.53h-12.76z" fill="#87cbed"/>
<path d="M159.5 345.93h118.57v7.53h-118.57z" fill="#cbe4f1"/>
<path d="M277.08 345.93h12.76v7.53h-12.76z" fill="#f8ded6"/>
<path d="M288.83 345.93h12.76v7.53h-12.76z" fill="#f8c8b9"/>
<path d="M300.59 345.93h6.88v7.53h-6.88z" fill="#f7b4a0"/>
<path d="M306.47 345.93h6.88v7.53h-6.88z" fill="#cbe4f1"/>
<path d="M312.35 345.93h6.88v7.53h-6.88z" fill="#87cbed"/>
<path d="M318.23 345.93h6.88v7.53h-6.88z" fill="#f8ded6"/>
<path d="M324.1 345.93h6.88v7.53h-6.88z" fill="#cbe4f1"/>
<path d="M329.98 345.93h30.39v7.53h-30.39z" fill="#f8ded6"/>
<path d="M359.38 345.93h6.88v7.53h-6.88z" fill="#cbe4f1"/>
<path d="M365.26 345.93h24.51v7.53h-24.51z" fill="#f8ded6"/>
<path d="M388.77 345.93h6.88v7.53h-6.88z" fill="#e8303a"/>
<path d="M394.65 345.93h18.64v7.53h-18.64z" fill="#f59678"/>
<path d="M412.29 345.93h6.88v7.53h-6.88z" fill="#f7b4a0"/>
<path d="M418.16 345.93h12.76v7.53h-12.76z" fill="#f8ded6"/>
<path d="M429.92 345.93h5.88v7.53h-5.88z" fill="#87cbed"/>
<path d="M77.2 352.46h30.39v7.53h-30.39z" fill="#f16046"/>
<path d="M106.59 352.46h6.88v7.53h-6.88z" fill="#f37a5a"/>
<path d="M112.47 352.46h24.51v7.53h-24.51z" fill="#f59678"/>
<path d="M135.99 352.46h12.76v7.53h-12.76z" fill="#37afe6"/>
<path d="M147.74 352.46h6.88v7.53h-6.88z" fill="#f8ded6"/>
<path d="M153.62 352.46h6.88v7.53h-6.88z" fill="#f37a5a"/>
<path d="M159.5 352.46h6.88v7.53h-6.88z" fill="#f8ded6"/>
<path d="M165.38 352.46h12.76v7.53h-12.76z" fill="#f37a5a"/>
<path d="M177.14 352.46h6.88v7.53h-6.88z" fill="#f8ded6"/>
<path d="M183.02 352.46h6.88v7.53h-6.88z" fill="#37afe6"/>
<path d="M188.9 352.46h36.27v7.53h-36.27z" fill="#f37a5a"/>
<path d="M224.17 352.46h6.88v7.53h-6.88z" fill="#87cbed"/>
<path d="M230.05 352.46h18.64v7.53h-18.64z" fill="#f37a5a"/>
<path d="M247.68 352.46h30.39v7.53h-30.39z" fill="#f59678"/>
<path d="M277.08 352.46h6.88v7.53h-6.88z" fill="#87cbed"/>
<path d="M282.95 352.46h6.88v7.53h-6.88z" fill="#f37a5a"/>
<path d="M288.83 352.46h18.64v7.53h-18.64z" fill="#87cbed"/>
<path d="M306.47 352.46h6.88v7.53h-6.88z" fill="#f7b4a0"/>
<path d="M312.35 352.46h6.88v7.53h-6.88z" fill="#f8ded6"/>
<path d="M318.23 352.46h6.88v7.53h-6.88z" fill="#f59678"/>
<path d="M324.1 352.46h6.88v7.53h-6.88z" fill="#87cbed"/>
<path d="M329.98 352.46h6.88v7.53h-6.88z" fill="#f8ded6"/>
<path d="M335.86 352.46h12.76v7.53h-12.76z" fill="#f37a5a"/>
<path d="M347.62 352.46h6.88v7.53h-6.88z" fill="#f59678"/>
<path d="M353.5 352.46h6.88v7.53h-6.88z" fill="#f37a5a"/>
<path d="M359.38 352.46h6.88v7.53h-6.88z" fill="#f59678"/>
<path d="M365.26 352.46h6.88v7.53h-6.88z" fill="#f8ded6"/>
<path d="M371.13 352.46h24.51v7.53h-24.51z" fill="#f59678"/>
<path d="M394.65 352.46h6.88v7.53h-6.88z" fill="#e8303a"/>
<path d="M400.53 352.46h12.76v7.53h-12.76z" fill="#f59678"/>
<path d="M412.29 352.46h6.88v7.53h-6.88z" fill="#f8ded6"/>
<path d="M418.16 352.46h6.88v7.53h-6.88z" fill="#f7b4a0"/>
<path d="M424.04 352.46h6.88v7.53h-6.88z" fill="#f8ded6"/>
<path d="M429.92 352.46h5.88v7.53h-5.88z" fill="#f59678"/>
<path d="M77.2 358.99h12.76v7.53h-12.76z" fill="#87cbed"/>
<path d="M88.96 358.99h18.64v7.53h-18.64z" fill="#cbe4f1"/>
<path d="M106.59 358.99h30.39v7.53h-30.39z" fill="#deebf2"/>
<path d="M135.99 358.99h12.76v7.53h-12.76z" fill="#f8ded6"/>
<path d="M147.74 358.99h36.27v7.53h-36.27z" fill="#cbe4f1"/>
<path d="M183.02 358.99h6.88v7.53h-6.88z" fill="#deebf2"/>
<path d="M188.9 358.99h12.76v7.53h-12.76z" fill="#cbe4f1"/>
<path d="M200.65 358.99h12.76v7.53h-12.76z" fill="#deebf2"/>
<path d="M212.41 358.99h6.88v7.53h-6.88z" fill="#87cbed"/>
<path d="M218.29 358.99h12.76v7.53h-12.76z" fill="#f8ded6"/>
<path d="M230.05 358.99h12.76v7.53h-12.76z" fill="#deebf2"/>
<path d="M241.8 358.99h18.64v7.53h-18.64z" fill="#cbe4f1"/>
<path d="M259.44 358.99h18.64v7.53h-18.64z" fill="#deebf2"/>
<path d="M277.08 358.99h12.76v7.53h-12.76z" fill="#cbe4f1"/>
<path d="M288.83 358.99h18.64v7.53h-18.64z" fill="#f7b4a0"/>
<path d="M306.47 358.99h12.76v7.53h-12.76z" fill="#f8ded6"/>
<path d="M318.23 358.99h6.88v7.53h-6.88z" fill="#87cbed"/>
<path d="M324.1 358.99h36.27v7.53h-36.27z" fill="#deebf2"/>
<path d="M359.38 358.99h6.88v7.53h-6.88z" fill="#87cbed"/>
<path d="M365.26 358.99h6.88v7.53h-6.88z" fill="#f8ded6"/>
<path d="M371.13 358.99h18.64v7.53h-18.64z" fill="#deebf2"/>
<path d="M388.77 358.99h12.76v7.53h-12.76z" fill="#f59678"/>
<path d="M400.53 358.99h6.88v7.53h-6.88z" fill="#e8303a"/>
<path d="M406.41 358.99h6.88v7.53h-6.88z" fill="#ee403e"/>
<path d="M412.29 358.99h12.76v7.53h-12.76z" fill="#f8ded6"/>
<path d="M424.04 358.99h6.88v7.53h-6.88z" fill="#f7b4a0"/>
<path d="M429.92 358.99h5.88v7.53h-5.88z" fill="#cbe4f1"/>
<path d="M77.2 365.52h18.64v7.53h-18.64z" fill="#87cbed"/>
<path d="M94.84 365.52h12.76v7.53h-12.76z" fill="#cbe4f1"/>
<path d="M106.59 365.52h6.88v7.53h-6.88z" fill="#deebf2"/>
<path d="M112.47 365.52h36.27v7.53h-36.27z" fill="#f8ded6"/>
<path d="M147.74 365.52h6.88v7.53h-6.88z" fill="#87cbed"/>
<path d="M153.62 365.52h18.64v7.53h-18.64z" fill="#cbe4f1"/>
<path d="M171.26 365.52h18.64v7.53h-18.64z" fill="#f8ded6"/>
<path d="M188.9 365.52h12.76v7.53h-12.76z" fill="#87cbed"/>
<path d="M200.65 365.52h12.76v7.53h-12.76z" fill="#deebf2"/>
<path d="M212.41 365.52h6.88v7.53h-6.88z" fill="#87cbed"/>
<path d="M218.29 365.52h12.76v7.53h-12.76z" fill="#f8ded6"/>
<path d="M230.05 365.52h12.76v7.53h-12.76z" fill="#cbe4f1"/>
<path d="M241.8 365.52h6.88v7.53h-6.88z" fill="#87cbed"/>
<path d="M247.68 365.52h30.39v7.53h-30.39z" fill="#deebf2"/>
<path d="M277.08 365.52h6.88v7.53h-6.88z" fill="#cbe4f1"/>
<path d="M282.95 365.52h6.88v7.53h-6.88z" fill="#87cbed"/>
<path d="M288.83 365.52h24.51v7.53h-24.51z" fill="#f7b4a0"/>
<path d="M312.35 365.52h6.88v7.53h-6.88z" fill="#f8ded6"/>
<path d="M318.23 365.52h6.88v7.53h-6.88z" fill="#87cbed"/>
<path d="M324.1 365.52h36.27v7.53h-36.27z" fill="#deebf2"/>
<path d="M359.38 365.52h6.88v7.53h-6.88z" fill="#87cbed"/>
<path d="M365.26 365.52h12.76v7.53h-12.76z" fill="#f8ded6"/>
<path d="M377.01 365.52h12.76v7.53h-12.76z" fill="#deebf2"/>
<path d="M388.77 365.52h12.76v7.53h-12.76z" fill="#f59678"/>
<path d="M400.53 365.52h6.88v7.53h-6.88z" fill="#ee403e"/>
<path d="M406.41 365.52h6.88v7.53h-6.88z" fill="#e8303a"/>
<path d="M412.29 365.52h12.76v7.53h-12.76z" fill="#f8ded6"/>
<path d="M424.04 365.52h6.88v7.53h-6.88z" fill="#f7b4a0"/>
<path d="M429.92 365.52h5.88v7.53h-5.88z" fill="#cbe4f1"/>
<path d="M77.2 372.05h24.51v7.53h-24.51z" fill="#f8ded6"/>
<path d="M100.71 372.05h6.88v7.53h-6.88z" fill="#f8c8b9"/>
<path d="M106.59 372.05h30.39v7.53h-30.39z" fill="#f7b4a0"/>
<path d="M135.99 372.05h24.51v7.53h-24.51z" fill="#f8ded6"/>
<path d="M159.5 372.05h24.51v7.53h-24.51z" fill="#f7b4a0"/>
<path d="M183.02 372.05h6.88v7.53h-6.88z" fill="#f8ded6"/>
<path d="M188.9 372.05h18.64v7.53h-18.64z" fill="#f8c8b9"/>
<path d="M206.53 372.05h12.76v7.53h-12.76z" fill="#f8ded6"/>
<path d="M218.29 372.05h6.88v7.53h-6.88z" fill="#f7b4a0"/>
<path d="M224.17 372.05h24.51v7.53h-24.51z" fill="#f8ded6"/>
<path d="M247.68 372.05h18.64v7.53h-18.64z" fill="#f7b4a0"/>
<path d="M265.32 372.05h12.76v7.53h-12.76z" fill="#f8ded6"/>
<path d="M277.08 372.05h6.88v7.53h-6.88z" fill="#87cbed"/>
<path d="M282.95 372.05h65.67v7.53h-65.67z" fill="#f8ded6"/>
<path d="M347.62 372.05h6.88v7.53h-6.88z" fill="#f8c8b9"/>
<path d="M353.5 372.05h18.64v7.53h-18.64z" fill="#f8ded6"/>
<path d="M371.13 372.05h18.64v7.53h-18.64z" fill="#deebf2"/>
<path d="M388.77 372.05h6.88v7.53h-6.88z" fill="#f7b4a0"/>
<path d="M394.65 372.05h18.64v7.53h-18.64z" fill="#f8ded6"/>
<path d="M412.29 372.05h6.88v7.53h-6.88z" fill="#e8303a"/>
<path d="M418.16 372.05h17.64v7.53h-17.64z" fill="#f8ded6"/>
<path d="M77.2 378.58h30.39v7.53h-30.39z" fill="#f8ded6"/>
<path d="M106.59 378.58h30.39v7.53h-30.39z" fill="#f7b4a0"/>
<path d="M135.99 378.58h6.88v7.53h-6.88z" fill="#f8ded6"/>
<path d="M141.87 378.58h6.88v7.53h-6.88z" fill="#f8c8b9"/>
<path d="M147.74 378.58h42.15v7.53h-42.15z" fill="#f7b4a0"/>
<path d="M188.9 378.58h24.51v7.53h-24.51z" fill="#f8c8b9"/>
<path d="M212.41 378.58h30.39v7.53h-30.39z" fill="#f7b4a0"/>
<path d="M241.8 378.58h6.88v7.53h-6.88z" fill="#f8ded6"/>
<path d="M247.68 378.58h30.39v7.53h-30.39z" fill="#f7b4a0"/>
<path d="M277.08 378.58h30.39v7.53h-30.39z" fill="#f8ded6"/>
<path d="M306.47 378.58h18.64v7.53h-18.64z" fill="#f7b4a0"/>
<path d="M324.1 378.58h18.64v7.53h-18.64z" fill="#f8ded6"/>
<path d="M341.74 378.58h6.88v7.53h-6.88z" fill="#f7b4a0"/>
<path d="M347.62 378.58h30.39v7.53h-30.39z" fill="#f8ded6"/>
<path d="M377.01 378.58h12.76v7.53h-12.76z" fill="#f7b4a0"/>
<path d="M388.77 378.58h6.88v7.53h-6.88z" fill="#f8ded6"/>
<path d="M394.65 378.58h6.88v7.53h-6.88z" fill="#f7b4a0"/>
<path d="M400.53 378.58h18.64v7.53h-18.64z" fill="#f8ded6"/>
<path d="M418.16 378.58h6.88v7.53h-6.88z" fill="#e8303a"/>
<path d="M424.04 378.58h6.88v7.53h-6.88z" fill="#87cbed"/>
<path d="M429.92 378.58h5.88v7.53h-5.88z" fill="#f7b4a0"/>
<path d="M77.2 385.11h24.51v7.53h-24.51z" fill="#87cbed"/>
<path d="M100.71 385.11h24.51v7.53h-24.51z" fill="#cbe4f1"/>
<path d="M124.23 385.11h24.51v7.53h-24.51z" fill="#deebf2"/>
<path d="M147.74 385.11h12.76v7.53h-12.76z" fill="#87cbed"/>
<path d="M159.5 385.11h30.39v7.53h-30.39z" fill="#cbe4f1"/>
<path d="M188.9 385.11h12.76v7.53h-12.76z" fill="#87cbed"/>
<path d="M200.65 385.11h12.76v7.53h-12.76z" fill="#cbe4f1"/>
<path d="M212.41 385.11h6.88v7.53h-6.88z" fill="#87cbed"/>
<path d="M218.29 385.11h12.76v7.53h-12.76z" fill="#cbe4f1"/>
<path d="M230.05 385.11h18.64v7.53h-18.64z" fill="#87cbed"/>
<path d="M247.68 385.11h30.39v7.53h-30.39z" fill="#cbe4f1"/>
<path d="M277.08 385.11h6.88v7.53h-6.88z" fill="#f8ded6"/>
<path d="M282.95 385.11h6.88v7.53h-6.88z" fill="#cbe4f1"/>
<path d="M288.83 385.11h18.64v7.53h-18.64z" fill="#f7b4a0"/>
<path d="M306.47 385.11h12.76v7.53h-12.76z" fill="#f8ded6"/>
<path d="M318.23 385.11h6.88v7.53h-6.88z" fill="#87cbed"/>
<path d="M324.1 385.11h48.03v7.53h-48.03z" fill="#f8ded6"/>
<path d="M371.13 385.11h18.64v7.53h-18.64z" fill="#deebf2"/>
<path d="M388.77 385.11h12.76v7.53h-12.76z" fill="#f8ded6"/>
<path d="M400.53 385.11h12.76v7.53h-12.76z" fill="#f7b4a0"/>
<path d="M412.29 385.11h6.88v7.53h-6.88z" fill="#f8ded6"/>
<path d="M418.16 385.11h6.88v7.53h-6.88z" fill="#87cbed"/>
<path d="M424.04 385.11h6.88v7.53h-6.88z" fill="#e8303a"/>
<path d="M429.92 385.11h5.88v7.53h-5.88z" fill="#87cbed"/>
<path d="M77.2 391.64h30.39v6.53h-30.39z" fill="#ef4c3a"/>
<path d="M106.59 391.64h6.88v6.53h-6.88z" fill="#f37a5a"/>
<path d="M112.47 391.64h24.51v6.53h-24.51z" fill="#f59678"/>
<path d="M135.99 391.64h12.76v6.53h-12.76z" fill="#269bda"/>
<path d="M147.74 391.64h6.88v6.53h-6.88z" fill="#f8ded6"/>
<path d="M153.62 391.64h6.88v6.53h-6.88z" fill="#f37a5a"/>
<path d="M159.5 391.64h6.88v6.53h-6.88z" fill="#f8c8b9"/>
<path d="M165.38 391.64h12.76v6.53h-12.76z" fill="#f37a5a"/>
<path d="M177.14 391.64h6.88v6.53h-6.88z" fill="#f7b4a0"/>
<path d="M183.02 391.64h6.88v6.53h-6.88z" fill="#269bda"/>
<path d="M188.9 391.64h30.39v6.53h-30.39z" fill="#f16046"/>
<path d="M218.29 391.64h6.88v6.53h-6.88z" fill="#f37a5a"/>
<path d="M224.17 391.64h6.88v6.53h-6.88z" fill="#87cbed"/>
<path d="M230.05 391.64h18.64v6.53h-18.64z" fill="#f37a5a"/>
<path d="M247.68 391.64h30.39v6.53h-30.39z" fill="#f59678"/>
<path d="M277.08 391.64h6.88v6.53h-6.88z" fill="#87cbed"/>
<path d="M282.95 391.64h6.88v6.53h-6.88z" fill="#f37a5a"/>
<path d="M288.83 391.64h18.64v6.53h-18.64z" fill="#269bda"/>
<path d="M306.47 391.64h12.76v6.53h-12.76z" fill="#deebf2"/>
<path d="M318.23 391.64h6.88v6.53h-6.88z" fill="#f37a5a"/>
<path d="M324.1 391.64h6.88v6.53h-6.88z" fill="#87cbed"/>
<path d="M329.98 391.64h6.88v6.53h-6.88z" fill="#f8ded6"/>
<path d="M335.86 391.64h12.76v6.53h-12.76z" fill="#f16046"/>
<path d="M347.62 391.64h6.88v6.53h-6.88z" fill="#f37a5a"/>
<path d="M353.5 391.64h6.88v6.53h-6.88z" fill="#f16046"/>
<path d="M359.38 391.64h6.88v6.53h-6.88z" fill="#f7b4a0"/>
<path d="M365.26 391.64h6.88v6.53h-6.88z" fill="#f8ded6"/>
<path d="M371.13 391.64h18.64v6.53h-18.64z" fill="#f37a5a"/>
<path d="M388.77 391.64h6.88v6.53h-6.88z" fill="#87cbed"/>
<path d="M394.65 391.64h6.88v6.53h-6.88z" fill="#f59678"/>
<path d="M400.53 391.64h12.76v6.53h-12.76z" fill="#cbe4f1"/>
<path d="M412.29 391.64h6.88v6.53h-6.88z" fill="#f8ded6"/>
<path d="M418.16 391.64h6.88v6.53h-6.88z" fill="#f7b4a0"/>
<path d="M424.04 391.64h6.88v6.53h-6.88z" fill="#87cbed"/>
<path d="M429.92 391.64h5.88v6.53h-5.88z" fill="#e8303a"/>
</g>
<rect x="158.95" y="0.5" width="1.1" height="397.67" fill="#ffffff"/>
<rect x="77.20" y="90.71" width="358.60" height="1.1" fill="#ffffff"/>
<rect x="188.35" y="0.5" width="1.1" height="397.67" fill="#ffffff"/>
<rect x="77.20" y="123.36" width="358.60" height="1.1" fill="#ffffff"/>
<rect x="217.74" y="0.5" width="1.1" height="397.67" fill="#ffffff"/>
<rect x="77.20" y="156.01" width="358.60" height="1.1" fill="#ffffff"/>
<rect x="229.50" y="0.5" width="1.1" height="397.67" fill="#ffffff"/>
<rect x="77.20" y="169.07" width="358.60" height="1.1" fill="#ffffff"/>
<rect x="276.53" y="0.5" width="1.1" height="397.67" fill="#ffffff"/>
<rect x="77.20" y="221.31" width="358.60" height="1.1" fill="#ffffff"/>
<rect x="317.68" y="0.5" width="1.1" height="397.67" fill="#ffffff"/>
<rect x="77.20" y="267.02" width="358.60" height="1.1" fill="#ffffff"/>
<rect x="370.58" y="0.5" width="1.1" height="397.67" fill="#ffffff"/>
<rect x="77.20" y="325.79" width="358.60" height="1.1" fill="#ffffff"/>
<rect x="399.98" y="0.5" width="1.1" height="397.67" fill="#ffffff"/>
<rect x="77.20" y="358.44" width="358.60" height="1.1" fill="#ffffff"/>
<rect x="411.74" y="0.5" width="1.1" height="397.67" fill="#ffffff"/>
<rect x="77.20" y="371.50" width="358.60" height="1.1" fill="#ffffff"/>
<rect x="429.37" y="0.5" width="1.1" height="397.67" fill="#ffffff"/>
<rect x="77.20" y="391.09" width="358.60" height="1.1" fill="#ffffff"/>
<path d="M79.44 3.1h0M85.32 3.1h0M91.2 3.1h0M97.08 3.1h0M102.95 3.1h0M108.83 3.1h0M114.71 3.1h0M120.59 3.1h0M126.47 3.1h0M132.35 3.1h0M138.23 3.1h0M144.1 3.1h0M155.86 3.1h0M161.74 3.1h0M167.62 3.1h0M173.5 3.1h0M179.38 3.1h0M185.26 3.1h0M191.13 3.1h0M197.01 3.1h0M202.89 3.1h0M208.77 3.1h0M214.65 3.1h0M220.53 3.1h0M226.41 3.1h0M232.29 3.1h0M238.16 3.1h0M244.04 3.1h0M249.92 3.1h0M255.8 3.1h0M261.68 3.1h0M267.56 3.1h0M273.44 3.1h0M285.19 3.1h0M291.07 3.1h0M296.95 3.1h0M302.83 3.1h0M308.71 3.1h0M314.59 3.1h0M320.47 3.1h0M338.1 3.1h0M343.98 3.1h0M349.86 3.1h0M355.74 3.1h0M361.62 3.1h0M367.5 3.1h0M373.37 3.1h0M379.25 3.1h0M385.13 3.1h0M396.89 3.1h0M402.77 3.1h0M408.65 3.1h0M426.28 3.1h0M432.16 3.1h0M79.44 9.63h0M85.32 9.63h0M91.2 9.63h0M97.08 9.63h0M102.95 9.63h0M108.83 9.63h0M114.71 9.63h0M120.59 9.63h0M126.47 9.63h0M132.35 9.63h0M138.23 9.63h0M144.1 9.63h0M155.86 9.63h0M161.74 9.63h0M167.62 9.63h0M173.5 9.63h0M185.26 9.63h0M191.13 9.63h0M197.01 9.63h0M202.89 9.63h0M208.77 9.63h0M214.65 9.63h0M220.53 9.63h0M226.41 9.63h0M232.29 9.63h0M238.16 9.63h0M244.04 9.63h0M249.92 9.63h0M255.8 9.63h0M261.68 9.63h0M267.56 9.63h0M273.44 9.63h0M285.19 9.63h0M291.07 9.63h0M296.95 9.63h0M302.83 9.63h0M308.71 9.63h0M314.59 9.63h0M320.47 9.63h0M338.1 9.63h0M343.98 9.63h0M349.86 9.63h0M355.74 9.63h0M361.62 9.63h0M373.37 9.63h0M379.25 9.63h0M385.13 9.63h0M396.89 9.63h0M402.77 9.63h0M408.65 9.63h0M426.28 9.63h0M432.16 9.63h0M79.44 16.16h0M85.32 16.16h0M91.2 16.16h0M97.08 16.16h0M102.95 16.16h0M108.83 16.16h0M114.71 16.16h0M120.59 16.16h0M126.47 16.16h0M132.35 16.16h0M138.23 16.16h0M144.1 16.16h0M155.86 16.16h0M161.74 16.16h0M167.62 16.16h0M173.5 16.16h0M185.26 16.16h0M191.13 16.16h0M197.01 16.16h0M202.89 16.16h0M208.77 16.16h0M214.65 16.16h0M220.53 16.16h0M226.41 16.16h0M232.29 16.16h0M238.16 16.16h0M244.04 16.16h0M249.92 16.16h0M255.8 16.16h0M261.68 16.16h0M267.56 16.16h0M273.44 16.16h0M279.31 16.16h0M285.19 16.16h0M291.07 16.16h0M296.95 16.16h0M302.83 16.16h0M314.59 16.16h0M320.47 16.16h0M326.34 16.16h0M338.1 16.16h0M343.98 16.16h0M349.86 16.16h0M355.74 16.16h0M361.62 16.16h0M367.5 16.16h0M373.37 16.16h0M379.25 16.16h0M385.13 16.16h0M396.89 16.16h0M426.28 16.16h0M432.16 16.16h0M79.44 22.7h0M85.32 22.7h0M91.2 22.7h0M97.08 22.7h0M102.95 22.7h0M108.83 22.7h0M114.71 22.7h0M120.59 22.7h0M126.47 22.7h0M132.35 22.7h0M138.23 22.7h0M144.1 22.7h0M149.98 22.7h0M155.86 22.7h0M161.74 22.7h0M167.62 22.7h0M173.5 22.7h0M179.38 22.7h0M185.26 22.7h0M191.13 22.7h0M197.01 22.7h0M202.89 22.7h0M208.77 22.7h0M214.65 22.7h0M220.53 22.7h0M226.41 22.7h0M232.29 22.7h0M238.16 22.7h0M244.04 22.7h0M249.92 22.7h0M255.8 22.7h0M261.68 22.7h0M267.56 22.7h0M273.44 22.7h0M279.31 22.7h0M285.19 22.7h0M291.07 22.7h0M296.95 22.7h0M302.83 22.7h0M314.59 22.7h0M320.47 22.7h0M326.34 22.7h0M338.1 22.7h0M343.98 22.7h0M349.86 22.7h0M355.74 22.7h0M361.62 22.7h0M367.5 22.7h0M373.37 22.7h0M379.25 22.7h0M385.13 22.7h0M396.89 22.7h0M426.28 22.7h0M432.16 22.7h0M79.44 29.23h0M85.32 29.23h0M91.2 29.23h0M97.08 29.23h0M102.95 29.23h0M108.83 29.23h0M114.71 29.23h0M120.59 29.23h0M126.47 29.23h0M132.35 29.23h0M138.23 29.23h0M144.1 29.23h0M149.98 29.23h0M155.86 29.23h0M161.74 29.23h0M167.62 29.23h0M173.5 29.23h0M179.38 29.23h0M185.26 29.23h0M191.13 29.23h0M197.01 29.23h0M202.89 29.23h0M208.77 29.23h0M214.65 29.23h0M220.53 29.23h0M226.41 29.23h0M232.29 29.23h0M238.16 29.23h0M244.04 29.23h0M249.92 29.23h0M255.8 29.23h0M261.68 29.23h0M267.56 29.23h0M273.44 29.23h0M279.31 29.23h0M285.19 29.23h0M291.07 29.23h0M296.95 29.23h0M302.83 29.23h0M320.47 29.23h0M338.1 29.23h0M343.98 29.23h0M349.86 29.23h0M355.74 29.23h0M361.62 29.23h0M373.37 29.23h0M379.25 29.23h0M385.13 29.23h0M396.89 29.23h0M414.52 29.23h0M432.16 29.23h0M79.44 35.76h0M85.32 35.76h0M91.2 35.76h0M97.08 35.76h0M102.95 35.76h0M108.83 35.76h0M114.71 35.76h0M120.59 35.76h0M126.47 35.76h0M132.35 35.76h0M138.23 35.76h0M144.1 35.76h0M155.86 35.76h0M161.74 35.76h0M167.62 35.76h0M173.5 35.76h0M179.38 35.76h0M185.26 35.76h0M191.13 35.76h0M197.01 35.76h0M202.89 35.76h0M208.77 35.76h0M214.65 35.76h0M220.53 35.76h0M232.29 35.76h0M238.16 35.76h0M244.04 35.76h0M249.92 35.76h0M255.8 35.76h0M261.68 35.76h0M267.56 35.76h0M273.44 35.76h0M279.31 35.76h0M285.19 35.76h0M291.07 35.76h0M296.95 35.76h0M302.83 35.76h0M314.59 35.76h0M320.47 35.76h0M338.1 35.76h0M343.98 35.76h0M349.86 35.76h0M355.74 35.76h0M361.62 35.76h0M373.37 35.76h0M379.25 35.76h0M385.13 35.76h0M396.89 35.76h0M414.52 35.76h0M420.4 35.76h0M432.16 35.76h0M79.44 42.29h0M85.32 42.29h0M91.2 42.29h0M97.08 42.29h0M102.95 42.29h0M108.83 42.29h0M114.71 42.29h0M120.59 42.29h0M126.47 42.29h0M132.35 42.29h0M144.1 42.29h0M155.86 42.29h0M161.74 42.29h0M167.62 42.29h0M173.5 42.29h0M179.38 42.29h0M191.13 42.29h0M197.01 42.29h0M202.89 42.29h0M208.77 42.29h0M214.65 42.29h0M220.53 42.29h0M226.41 42.29h0M232.29 42.29h0M238.16 42.29h0M244.04 42.29h0M249.92 42.29h0M255.8 42.29h0M261.68 42.29h0M267.56 42.29h0M273.44 42.29h0M279.31 42.29h0M314.59 42.29h0M320.47 42.29h0M338.1 42.29h0M343.98 42.29h0M349.86 42.29h0M355.74 42.29h0M396.89 42.29h0M414.52 42.29h0M420.4 42.29h0M432.16 42.29h0M79.44 48.82h0M85.32 48.82h0M91.2 48.82h0M97.08 48.82h0M102.95 48.82h0M108.83 48.82h0M114.71 48.82h0M120.59 48.82h0M126.47 48.82h0M132.35 48.82h0M144.1 48.82h0M155.86 48.82h0M161.74 48.82h0M167.62 48.82h0M173.5 48.82h0M179.38 48.82h0M191.13 48.82h0M197.01 48.82h0M202.89 48.82h0M208.77 48.82h0M214.65 48.82h0M220.53 48.82h0M226.41 48.82h0M232.29 48.82h0M238.16 48.82h0M244.04 48.82h0M249.92 48.82h0M255.8 48.82h0M261.68 48.82h0M267.56 48.82h0M273.44 48.82h0M279.31 48.82h0M320.47 48.82h0M338.1 48.82h0M343.98 48.82h0M349.86 48.82h0M355.74 48.82h0M396.89 48.82h0M414.52 48.82h0M420.4 48.82h0M432.16 48.82h0M79.44 55.35h0M85.32 55.35h0M91.2 55.35h0M97.08 55.35h0M102.95 55.35h0M108.83 55.35h0M114.71 55.35h0M120.59 55.35h0M126.47 55.35h0M132.35 55.35h0M144.1 55.35h0M155.86 55.35h0M161.74 55.35h0M167.62 55.35h0M173.5 55.35h0M179.38 55.35h0M191.13 55.35h0M197.01 55.35h0M202.89 55.35h0M208.77 55.35h0M214.65 55.35h0M220.53 55.35h0M226.41 55.35h0M232.29 55.35h0M238.16 55.35h0M244.04 55.35h0M249.92 55.35h0M255.8 55.35h0M261.68 55.35h0M267.56 55.35h0M273.44 55.35h0M279.31 55.35h0M320.47 55.35h0M338.1 55.35h0M343.98 55.35h0M349.86 55.35h0M355.74 55.35h0M396.89 55.35h0M414.52 55.35h0M420.4 55.35h0M432.16 55.35h0M79.44 61.88h0M85.32 61.88h0M91.2 61.88h0M97.08 61.88h0M102.95 61.88h0M108.83 61.88h0M114.71 61.88h0M120.59 61.88h0M126.47 61.88h0M132.35 61.88h0M144.1 61.88h0M155.86 61.88h0M161.74 61.88h0M167.62 61.88h0M173.5 61.88h0M179.38 61.88h0M191.13 61.88h0M197.01 61.88h0M202.89 61.88h0M208.77 61.88h0M214.65 61.88h0M220.53 61.88h0M226.41 61.88h0M232.29 61.88h0M238.16 61.88h0M244.04 61.88h0M249.92 61.88h0M255.8 61.88h0M261.68 61.88h0M267.56 61.88h0M273.44 61.88h0M279.31 61.88h0M320.47 61.88h0M338.1 61.88h0M343.98 61.88h0M349.86 61.88h0M355.74 61.88h0M396.89 61.88h0M414.52 61.88h0M420.4 61.88h0M432.16 61.88h0M79.44 68.41h0M85.32 68.41h0M91.2 68.41h0M97.08 68.41h0M102.95 68.41h0M108.83 68.41h0M138.23 68.41h0M144.1 68.41h0M149.98 68.41h0M155.86 68.41h0M161.74 68.41h0M167.62 68.41h0M173.5 68.41h0M185.26 68.41h0M191.13 68.41h0M197.01 68.41h0M202.89 68.41h0M214.65 68.41h0M220.53 68.41h0M226.41 68.41h0M244.04 68.41h0M249.92 68.41h0M255.8 68.41h0M273.44 68.41h0M279.31 68.41h0M285.19 68.41h0M291.07 68.41h0M296.95 68.41h0M302.83 68.41h0M308.71 68.41h0M314.59 68.41h0M320.47 68.41h0M326.34 68.41h0M338.1 68.41h0M343.98 68.41h0M349.86 68.41h0M355.74 68.41h0M361.62 68.41h0M373.37 68.41h0M379.25 68.41h0M385.13 68.41h0M396.89 68.41h0M432.16 68.41h0M79.44 74.94h0M85.32 74.94h0M91.2 74.94h0M97.08 74.94h0M102.95 74.94h0M108.83 74.94h0M114.71 74.94h0M120.59 74.94h0M126.47 74.94h0M132.35 74.94h0M138.23 74.94h0M144.1 74.94h0M149.98 74.94h0M155.86 74.94h0M167.62 74.94h0M173.5 74.94h0M179.38 74.94h0M185.26 74.94h0M191.13 74.94h0M197.01 74.94h0M202.89 74.94h0M214.65 74.94h0M220.53 74.94h0M226.41 74.94h0M232.29 74.94h0M244.04 74.94h0M273.44 74.94h0M279.31 74.94h0M285.19 74.94h0M291.07 74.94h0M296.95 74.94h0M302.83 74.94h0M308.71 74.94h0M314.59 74.94h0M320.47 74.94h0M338.1 74.94h0M343.98 74.94h0M349.86 74.94h0M355.74 74.94h0M361.62 74.94h0M373.37 74.94h0M379.25 74.94h0M385.13 74.94h0M396.89 74.94h0M432.16 74.94h0M97.08 81.47h0M102.95 81.47h0M138.23 81.47h0M144.1 81.47h0M149.98 81.47h0M155.86 81.47h0M161.74 81.47h0M173.5 81.47h0M185.26 81.47h0M214.65 81.47h0M220.53 81.47h0M226.41 81.47h0M232.29 81.47h0M238.16 81.47h0M244.04 81.47h0M249.92 81.47h0M255.8 81.47h0M261.68 81.47h0M267.56 81.47h0M273.44 81.47h0M279.31 81.47h0M302.83 81.47h0M314.59 81.47h0M320.47 81.47h0M332.22 81.47h0M338.1 81.47h0M391.01 81.47h0M408.65 81.47h0M420.4 81.47h0M426.28 81.47h0M79.44 88h0M85.32 88h0M91.2 88h0M97.08 88h0M102.95 88h0M108.83 88h0M114.71 88h0M120.59 88h0M126.47 88h0M132.35 88h0M138.23 88h0M144.1 88h0M149.98 88h0M155.86 88h0M161.74 88h0M167.62 88h0M173.5 88h0M179.38 88h0M191.13 88h0M197.01 88h0M202.89 88h0M208.77 88h0M214.65 88h0M220.53 88h0M226.41 88h0M232.29 88h0M238.16 88h0M244.04 88h0M249.92 88h0M255.8 88h0M261.68 88h0M267.56 88h0M273.44 88h0M279.31 88h0M285.19 88h0M291.07 88h0M296.95 88h0M302.83 88h0M320.47 88h0M326.34 88h0M332.22 88h0M338.1 88h0M343.98 88h0M349.86 88h0M355.74 88h0M361.62 88h0M367.5 88h0M373.37 88h0M379.25 88h0M385.13 88h0M391.01 88h0M396.89 88h0M420.4 88h0M426.28 88h0M432.16 88h0M79.44 94.53h0M85.32 94.53h0M91.2 94.53h0M97.08 94.53h0M102.95 94.53h0M108.83 94.53h0M114.71 94.53h0M120.59 94.53h0M126.47 94.53h0M132.35 94.53h0M138.23 94.53h0M149.98 94.53h0M155.86 94.53h0M161.74 94.53h0M167.62 94.53h0M173.5 94.53h0M179.38 94.53h0M185.26 94.53h0M191.13 94.53h0M197.01 94.53h0M202.89 94.53h0M208.77 94.53h0M214.65 94.53h0M220.53 94.53h0M226.41 94.53h0M232.29 94.53h0M238.16 94.53h0M244.04 94.53h0M249.92 94.53h0M255.8 94.53h0M261.68 94.53h0M267.56 94.53h0M273.44 94.53h0M279.31 94.53h0M291.07 94.53h0M296.95 94.53h0M314.59 94.53h0M320.47 94.53h0M338.1 94.53h0M343.98 94.53h0M349.86 94.53h0M355.74 94.53h0M414.52 94.53h0M420.4 94.53h0M432.16 94.53h0M79.44 101.06h0M85.32 101.06h0M91.2 101.06h0M97.08 101.06h0M102.95 101.06h0M108.83 101.06h0M114.71 101.06h0M120.59 101.06h0M126.47 101.06h0M132.35 101.06h0M138.23 101.06h0M144.1 101.06h0M155.86 101.06h0M161.74 101.06h0M167.62 101.06h0M173.5 101.06h0M179.38 101.06h0M185.26 101.06h0M191.13 101.06h0M197.01 101.06h0M202.89 101.06h0M208.77 101.06h0M214.65 101.06h0M220.53 101.06h0M232.29 101.06h0M238.16 101.06h0M244.04 101.06h0M249.92 101.06h0M255.8 101.06h0M261.68 101.06h0M267.56 101.06h0M273.44 101.06h0M279.31 101.06h0M285.19 101.06h0M291.07 101.06h0M296.95 101.06h0M302.83 101.06h0M320.47 101.06h0M338.1 101.06h0M343.98 101.06h0M349.86 101.06h0M355.74 101.06h0M361.62 101.06h0M373.37 101.06h0M379.25 101.06h0M385.13 101.06h0M396.89 101.06h0M414.52 101.06h0M420.4 101.06h0M432.16 101.06h0M79.44 107.59h0M85.32 107.59h0M91.2 107.59h0M97.08 107.59h0M102.95 107.59h0M108.83 107.59h0M114.71 107.59h0M120.59 107.59h0M126.47 107.59h0M132.35 107.59h0M138.23 107.59h0M144.1 107.59h0M149.98 107.59h0M155.86 107.59h0M161.74 107.59h0M167.62 107.59h0M173.5 107.59h0M179.38 107.59h0M185.26 107.59h0M191.13 107.59h0M197.01 107.59h0M202.89 107.59h0M208.77 107.59h0M214.65 107.59h0M220.53 107.59h0M226.41 107.59h0M232.29 107.59h0M238.16 107.59h0M244.04 107.59h0M249.92 107.59h0M255.8 107.59h0M261.68 107.59h0M267.56 107.59h0M273.44 107.59h0M279.31 107.59h0M285.19 107.59h0M291.07 107.59h0M296.95 107.59h0M302.83 107.59h0M320.47 107.59h0M338.1 107.59h0M343.98 107.59h0M349.86 107.59h0M355.74 107.59h0M361.62 107.59h0M367.5 107.59h0M373.37 107.59h0M379.25 107.59h0M385.13 107.59h0M396.89 107.59h0M414.52 107.59h0M420.4 107.59h0M432.16 107.59h0M79.44 114.12h0M97.08 114.12h0M102.95 114.12h0M108.83 114.12h0M114.71 114.12h0M120.59 114.12h0M126.47 114.12h0M132.35 114.12h0M144.1 114.12h0M155.86 114.12h0M161.74 114.12h0M167.62 114.12h0M173.5 114.12h0M179.38 114.12h0M191.13 114.12h0M197.01 114.12h0M202.89 114.12h0M208.77 114.12h0M214.65 114.12h0M220.53 114.12h0M226.41 114.12h0M232.29 114.12h0M238.16 114.12h0M244.04 114.12h0M249.92 114.12h0M255.8 114.12h0M261.68 114.12h0M267.56 114.12h0M273.44 114.12h0M279.31 114.12h0M291.07 114.12h0M296.95 114.12h0M302.83 114.12h0M343.98 114.12h0M349.86 114.12h0M355.74 114.12h0M414.52 114.12h0M420.4 114.12h0M432.16 114.12h0M79.44 120.65h0M85.32 120.65h0M91.2 120.65h0M97.08 120.65h0M102.95 120.65h0M108.83 120.65h0M138.23 120.65h0M144.1 120.65h0M149.98 120.65h0M161.74 120.65h0M167.62 120.65h0M173.5 120.65h0M185.26 120.65h0M191.13 120.65h0M197.01 120.65h0M202.89 120.65h0M214.65 120.65h0M220.53 120.65h0M226.41 120.65h0M244.04 120.65h0M249.92 120.65h0M255.8 120.65h0M261.68 120.65h0M273.44 120.65h0M279.31 120.65h0M285.19 120.65h0M291.07 120.65h0M296.95 120.65h0M302.83 120.65h0M308.71 120.65h0M314.59 120.65h0M320.47 120.65h0M338.1 120.65h0M343.98 120.65h0M349.86 120.65h0M355.74 120.65h0M361.62 120.65h0M373.37 120.65h0M379.25 120.65h0M385.13 120.65h0M396.89 120.65h0M420.4 120.65h0M432.16 120.65h0M79.44 127.18h0M85.32 127.18h0M91.2 127.18h0M97.08 127.18h0M102.95 127.18h0M108.83 127.18h0M114.71 127.18h0M120.59 127.18h0M126.47 127.18h0M132.35 127.18h0M138.23 127.18h0M144.1 127.18h0M155.86 127.18h0M161.74 127.18h0M167.62 127.18h0M173.5 127.18h0M179.38 127.18h0M185.26 127.18h0M191.13 127.18h0M197.01 127.18h0M202.89 127.18h0M208.77 127.18h0M214.65 127.18h0M220.53 127.18h0M226.41 127.18h0M232.29 127.18h0M238.16 127.18h0M244.04 127.18h0M249.92 127.18h0M255.8 127.18h0M261.68 127.18h0M267.56 127.18h0M273.44 127.18h0M279.31 127.18h0M285.19 127.18h0M291.07 127.18h0M296.95 127.18h0M302.83 127.18h0M314.59 127.18h0M320.47 127.18h0M326.34 127.18h0M338.1 127.18h0M343.98 127.18h0M349.86 127.18h0M355.74 127.18h0M361.62 127.18h0M367.5 127.18h0M373.37 127.18h0M379.25 127.18h0M385.13 127.18h0M396.89 127.18h0M426.28 127.18h0M432.16 127.18h0M79.44 133.7h0M85.32 133.7h0M91.2 133.7h0M97.08 133.7h0M102.95 133.7h0M108.83 133.7h0M114.71 133.7h0M120.59 133.7h0M126.47 133.7h0M132.35 133.7h0M138.23 133.7h0M144.1 133.7h0M155.86 133.7h0M161.74 133.7h0M167.62 133.7h0M173.5 133.7h0M179.38 133.7h0M185.26 133.7h0M191.13 133.7h0M197.01 133.7h0M202.89 133.7h0M208.77 133.7h0M214.65 133.7h0M220.53 133.7h0M226.41 133.7h0M232.29 133.7h0M238.16 133.7h0M244.04 133.7h0M249.92 133.7h0M255.8 133.7h0M261.68 133.7h0M267.56 133.7h0M273.44 133.7h0M279.31 133.7h0M285.19 133.7h0M291.07 133.7h0M296.95 133.7h0M302.83 133.7h0M308.71 133.7h0M314.59 133.7h0M320.47 133.7h0M326.34 133.7h0M338.1 133.7h0M343.98 133.7h0M349.86 133.7h0M355.74 133.7h0M361.62 133.7h0M367.5 133.7h0M373.37 133.7h0M379.25 133.7h0M385.13 133.7h0M396.89 133.7h0M408.65 133.7h0M426.28 133.7h0M432.16 133.7h0M79.44 140.23h0M85.32 140.23h0M91.2 140.23h0M97.08 140.23h0M102.95 140.23h0M108.83 140.23h0M114.71 140.23h0M120.59 140.23h0M126.47 140.23h0M132.35 140.23h0M138.23 140.23h0M144.1 140.23h0M155.86 140.23h0M161.74 140.23h0M167.62 140.23h0M173.5 140.23h0M179.38 140.23h0M185.26 140.23h0M191.13 140.23h0M197.01 140.23h0M202.89 140.23h0M208.77 140.23h0M214.65 140.23h0M220.53 140.23h0M232.29 140.23h0M238.16 140.23h0M244.04 140.23h0M249.92 140.23h0M255.8 140.23h0M261.68 140.23h0M267.56 140.23h0M273.44 140.23h0M279.31 140.23h0M285.19 140.23h0M291.07 140.23h0M296.95 140.23h0M302.83 140.23h0M320.47 140.23h0M338.1 140.23h0M343.98 140.23h0M349.86 140.23h0M355.74 140.23h0M361.62 140.23h0M373.37 140.23h0M379.25 140.23h0M385.13 140.23h0M396.89 140.23h0M414.52 140.23h0M432.16 140.23h0M79.44 146.76h0M85.32 146.76h0M91.2 146.76h0M97.08 146.76h0M102.95 146.76h0M108.83 146.76h0M114.71 146.76h0M120.59 146.76h0M126.47 146.76h0M132.35 146.76h0M155.86 146.76h0M161.74 146.76h0M167.62 146.76h0M173.5 146.76h0M179.38 146.76h0M191.13 146.76h0M197.01 146.76h0M202.89 146.76h0M208.77 146.76h0M214.65 146.76h0M220.53 146.76h0M226.41 146.76h0M232.29 146.76h0M238.16 146.76h0M244.04 146.76h0M249.92 146.76h0M255.8 146.76h0M261.68 146.76h0M267.56 146.76h0M273.44 146.76h0M285.19 146.76h0M291.07 146.76h0M296.95 146.76h0M302.83 146.76h0M320.47 146.76h0M338.1 146.76h0M343.98 146.76h0M349.86 146.76h0M355.74 146.76h0M379.25 146.76h0M385.13 146.76h0M396.89 146.76h0M432.16 146.76h0M79.44 153.29h0M85.32 153.29h0M91.2 153.29h0M97.08 153.29h0M102.95 153.29h0M108.83 153.29h0M114.71 153.29h0M120.59 153.29h0M126.47 153.29h0M132.35 153.29h0M138.23 153.29h0M144.1 153.29h0M149.98 153.29h0M155.86 153.29h0M161.74 153.29h0M167.62 153.29h0M173.5 153.29h0M179.38 153.29h0M185.26 153.29h0M191.13 153.29h0M197.01 153.29h0M202.89 153.29h0M208.77 153.29h0M214.65 153.29h0M220.53 153.29h0M232.29 153.29h0M238.16 153.29h0M244.04 153.29h0M249.92 153.29h0M255.8 153.29h0M261.68 153.29h0M267.56 153.29h0M273.44 153.29h0M285.19 153.29h0M291.07 153.29h0M296.95 153.29h0M302.83 153.29h0M320.47 153.29h0M326.34 153.29h0M338.1 153.29h0M343.98 153.29h0M349.86 153.29h0M355.74 153.29h0M361.62 153.29h0M373.37 153.29h0M379.25 153.29h0M385.13 153.29h0M396.89 153.29h0M408.65 153.29h0M420.4 153.29h0M426.28 153.29h0M432.16 153.29h0M79.44 159.82h0M85.32 159.82h0M91.2 159.82h0M97.08 159.82h0M102.95 159.82h0M108.83 159.82h0M114.71 159.82h0M120.59 159.82h0M126.47 159.82h0M132.35 159.82h0M138.23 159.82h0M144.1 159.82h0M149.98 159.82h0M155.86 159.82h0M161.74 159.82h0M167.62 159.82h0M173.5 159.82h0M179.38 159.82h0M185.26 159.82h0M191.13 159.82h0M197.01 159.82h0M202.89 159.82h0M208.77 159.82h0M214.65 159.82h0M220.53 159.82h0M232.29 159.82h0M238.16 159.82h0M244.04 159.82h0M249.92 159.82h0M255.8 159.82h0M261.68 159.82h0M267.56 159.82h0M273.44 159.82h0M279.31 159.82h0M285.19 159.82h0M291.07 159.82h0M296.95 159.82h0M302.83 159.82h0M320.47 159.82h0M338.1 159.82h0M343.98 159.82h0M349.86 159.82h0M355.74 159.82h0M361.62 159.82h0M373.37 159.82h0M379.25 159.82h0M385.13 159.82h0M396.89 159.82h0M414.52 159.82h0M420.4 159.82h0M432.16 159.82h0M79.44 166.35h0M85.32 166.35h0M91.2 166.35h0M97.08 166.35h0M102.95 166.35h0M114.71 166.35h0M120.59 166.35h0M126.47 166.35h0M132.35 166.35h0M138.23 166.35h0M144.1 166.35h0M149.98 166.35h0M155.86 166.35h0M161.74 166.35h0M173.5 166.35h0M179.38 166.35h0M185.26 166.35h0M191.13 166.35h0M197.01 166.35h0M208.77 166.35h0M226.41 166.35h0M232.29 166.35h0M238.16 166.35h0M249.92 166.35h0M255.8 166.35h0M261.68 166.35h0M267.56 166.35h0M273.44 166.35h0M279.31 166.35h0M285.19 166.35h0M291.07 166.35h0M296.95 166.35h0M308.71 166.35h0M314.59 166.35h0M338.1 166.35h0M343.98 166.35h0M349.86 166.35h0M355.74 166.35h0M396.89 166.35h0M420.4 166.35h0M432.16 166.35h0M79.44 172.88h0M85.32 172.88h0M91.2 172.88h0M97.08 172.88h0M102.95 172.88h0M108.83 172.88h0M114.71 172.88h0M120.59 172.88h0M126.47 172.88h0M132.35 172.88h0M144.1 172.88h0M149.98 172.88h0M155.86 172.88h0M161.74 172.88h0M167.62 172.88h0M173.5 172.88h0M179.38 172.88h0M191.13 172.88h0M197.01 172.88h0M202.89 172.88h0M208.77 172.88h0M214.65 172.88h0M220.53 172.88h0M226.41 172.88h0M232.29 172.88h0M238.16 172.88h0M244.04 172.88h0M249.92 172.88h0M255.8 172.88h0M261.68 172.88h0M267.56 172.88h0M273.44 172.88h0M285.19 172.88h0M291.07 172.88h0M296.95 172.88h0M302.83 172.88h0M320.47 172.88h0M326.34 172.88h0M338.1 172.88h0M343.98 172.88h0M349.86 172.88h0M355.74 172.88h0M361.62 172.88h0M373.37 172.88h0M379.25 172.88h0M385.13 172.88h0M391.01 172.88h0M396.89 172.88h0M420.4 172.88h0M426.28 172.88h0M432.16 172.88h0M79.44 179.41h0M85.32 179.41h0M91.2 179.41h0M97.08 179.41h0M102.95 179.41h0M108.83 179.41h0M114.71 179.41h0M120.59 179.41h0M126.47 179.41h0M132.35 179.41h0M149.98 179.41h0M155.86 179.41h0M161.74 179.41h0M167.62 179.41h0M173.5 179.41h0M179.38 179.41h0M191.13 179.41h0M197.01 179.41h0M202.89 179.41h0M208.77 179.41h0M214.65 179.41h0M220.53 179.41h0M226.41 179.41h0M232.29 179.41h0M238.16 179.41h0M244.04 179.41h0M249.92 179.41h0M255.8 179.41h0M261.68 179.41h0M267.56 179.41h0M273.44 179.41h0M279.31 179.41h0M285.19 179.41h0M291.07 179.41h0M296.95 179.41h0M302.83 179.41h0M308.71 179.41h0M320.47 179.41h0M338.1 179.41h0M343.98 179.41h0M349.86 179.41h0M355.74 179.41h0M361.62 179.41h0M373.37 179.41h0M379.25 179.41h0M385.13 179.41h0M396.89 179.41h0M420.4 179.41h0M426.28 179.41h0M432.16 179.41h0M79.44 185.94h0M85.32 185.94h0M91.2 185.94h0M97.08 185.94h0M102.95 185.94h0M108.83 185.94h0M114.71 185.94h0M120.59 185.94h0M126.47 185.94h0M132.35 185.94h0M138.23 185.94h0M144.1 185.94h0M149.98 185.94h0M155.86 185.94h0M161.74 185.94h0M167.62 185.94h0M173.5 185.94h0M179.38 185.94h0M185.26 185.94h0M191.13 185.94h0M197.01 185.94h0M202.89 185.94h0M208.77 185.94h0M214.65 185.94h0M220.53 185.94h0M232.29 185.94h0M238.16 185.94h0M244.04 185.94h0M249.92 185.94h0M255.8 185.94h0M261.68 185.94h0M267.56 185.94h0M273.44 185.94h0M279.31 185.94h0M285.19 185.94h0M291.07 185.94h0M296.95 185.94h0M302.83 185.94h0M308.71 185.94h0M314.59 185.94h0M320.47 185.94h0M326.34 185.94h0M338.1 185.94h0M343.98 185.94h0M349.86 185.94h0M355.74 185.94h0M361.62 185.94h0M373.37 185.94h0M379.25 185.94h0M385.13 185.94h0M391.01 185.94h0M396.89 185.94h0M408.65 185.94h0M420.4 185.94h0M426.28 185.94h0M432.16 185.94h0M79.44 192.47h0M85.32 192.47h0M91.2 192.47h0M97.08 192.47h0M102.95 192.47h0M108.83 192.47h0M114.71 192.47h0M120.59 192.47h0M126.47 192.47h0M132.35 192.47h0M138.23 192.47h0M149.98 192.47h0M155.86 192.47h0M161.74 192.47h0M167.62 192.47h0M173.5 192.47h0M179.38 192.47h0M185.26 192.47h0M191.13 192.47h0M197.01 192.47h0M202.89 192.47h0M208.77 192.47h0M214.65 192.47h0M220.53 192.47h0M226.41 192.47h0M232.29 192.47h0M238.16 192.47h0M244.04 192.47h0M249.92 192.47h0M255.8 192.47h0M261.68 192.47h0M267.56 192.47h0M273.44 192.47h0M279.31 192.47h0M291.07 192.47h0M308.71 192.47h0M314.59 192.47h0M320.47 192.47h0M338.1 192.47h0M343.98 192.47h0M349.86 192.47h0M355.74 192.47h0M373.37 192.47h0M379.25 192.47h0M396.89 192.47h0M414.52 192.47h0M420.4 192.47h0M432.16 192.47h0M79.44 199h0M85.32 199h0M91.2 199h0M97.08 199h0M102.95 199h0M108.83 199h0M114.71 199h0M120.59 199h0M126.47 199h0M132.35 199h0M138.23 199h0M149.98 199h0M155.86 199h0M161.74 199h0M167.62 199h0M173.5 199h0M179.38 199h0M185.26 199h0M191.13 199h0M197.01 199h0M202.89 199h0M208.77 199h0M214.65 199h0M220.53 199h0M226.41 199h0M232.29 199h0M238.16 199h0M244.04 199h0M249.92 199h0M255.8 199h0M261.68 199h0M267.56 199h0M273.44 199h0M279.31 199h0M314.59 199h0M320.47 199h0M338.1 199h0M343.98 199h0M349.86 199h0M355.74 199h0M379.25 199h0M396.89 199h0M414.52 199h0M420.4 199h0M432.16 199h0M79.44 205.53h0M85.32 205.53h0M91.2 205.53h0M97.08 205.53h0M102.95 205.53h0M108.83 205.53h0M114.71 205.53h0M120.59 205.53h0M126.47 205.53h0M132.35 205.53h0M149.98 205.53h0M155.86 205.53h0M161.74 205.53h0M167.62 205.53h0M173.5 205.53h0M179.38 205.53h0M185.26 205.53h0M191.13 205.53h0M197.01 205.53h0M202.89 205.53h0M208.77 205.53h0M214.65 205.53h0M220.53 205.53h0M226.41 205.53h0M232.29 205.53h0M238.16 205.53h0M244.04 205.53h0M249.92 205.53h0M255.8 205.53h0M261.68 205.53h0M267.56 205.53h0M273.44 205.53h0M279.31 205.53h0M285.19 205.53h0M302.83 205.53h0M320.47 205.53h0M338.1 205.53h0M343.98 205.53h0M349.86 205.53h0M355.74 205.53h0M373.37 205.53h0M379.25 205.53h0M385.13 205.53h0M396.89 205.53h0M414.52 205.53h0M420.4 205.53h0M432.16 205.53h0M79.44 212.06h0M85.32 212.06h0M91.2 212.06h0M97.08 212.06h0M102.95 212.06h0M108.83 212.06h0M114.71 212.06h0M120.59 212.06h0M126.47 212.06h0M132.35 212.06h0M149.98 212.06h0M155.86 212.06h0M161.74 212.06h0M167.62 212.06h0M173.5 212.06h0M179.38 212.06h0M191.13 212.06h0M197.01 212.06h0M202.89 212.06h0M208.77 212.06h0M214.65 212.06h0M220.53 212.06h0M226.41 212.06h0M232.29 212.06h0M238.16 212.06h0M244.04 212.06h0M249.92 212.06h0M255.8 212.06h0M261.68 212.06h0M267.56 212.06h0M273.44 212.06h0M279.31 212.06h0M291.07 212.06h0M302.83 212.06h0M308.71 212.06h0M314.59 212.06h0M320.47 212.06h0M326.34 212.06h0M332.22 212.06h0M338.1 212.06h0M343.98 212.06h0M349.86 212.06h0M355.74 212.06h0M361.62 212.06h0M373.37 212.06h0M379.25 212.06h0M385.13 212.06h0M391.01 212.06h0M396.89 212.06h0M420.4 212.06h0M432.16 212.06h0M79.44 218.59h0M85.32 218.59h0M91.2 218.59h0M97.08 218.59h0M102.95 218.59h0M108.83 218.59h0M114.71 218.59h0M120.59 218.59h0M126.47 218.59h0M132.35 218.59h0M138.23 218.59h0M144.1 218.59h0M149.98 218.59h0M155.86 218.59h0M161.74 218.59h0M167.62 218.59h0M173.5 218.59h0M179.38 218.59h0M185.26 218.59h0M191.13 218.59h0M197.01 218.59h0M202.89 218.59h0M208.77 218.59h0M214.65 218.59h0M220.53 218.59h0M226.41 218.59h0M232.29 218.59h0M238.16 218.59h0M244.04 218.59h0M249.92 218.59h0M255.8 218.59h0M261.68 218.59h0M267.56 218.59h0M273.44 218.59h0M279.31 218.59h0M291.07 218.59h0M302.83 218.59h0M308.71 218.59h0M314.59 218.59h0M320.47 218.59h0M326.34 218.59h0M338.1 218.59h0M343.98 218.59h0M349.86 218.59h0M355.74 218.59h0M361.62 218.59h0M373.37 218.59h0M379.25 218.59h0M385.13 218.59h0M391.01 218.59h0M396.89 218.59h0M420.4 218.59h0M432.16 218.59h0M91.2 225.12h0M97.08 225.12h0M102.95 225.12h0M108.83 225.12h0M114.71 225.12h0M120.59 225.12h0M126.47 225.12h0M132.35 225.12h0M138.23 225.12h0M144.1 225.12h0M149.98 225.12h0M155.86 225.12h0M161.74 225.12h0M167.62 225.12h0M173.5 225.12h0M179.38 225.12h0M185.26 225.12h0M191.13 225.12h0M197.01 225.12h0M202.89 225.12h0M220.53 225.12h0M226.41 225.12h0M238.16 225.12h0M244.04 225.12h0M249.92 225.12h0M255.8 225.12h0M261.68 225.12h0M267.56 225.12h0M273.44 225.12h0M279.31 225.12h0M285.19 225.12h0M291.07 225.12h0M296.95 225.12h0M302.83 225.12h0M308.71 225.12h0M314.59 225.12h0M338.1 225.12h0M373.37 225.12h0M379.25 225.12h0M396.89 225.12h0M414.52 225.12h0M432.16 225.12h0M79.44 231.66h0M85.32 231.66h0M91.2 231.66h0M97.08 231.66h0M102.95 231.66h0M108.83 231.66h0M138.23 231.66h0M144.1 231.66h0M155.86 231.66h0M167.62 231.66h0M173.5 231.66h0M185.26 231.66h0M191.13 231.66h0M197.01 231.66h0M202.89 231.66h0M208.77 231.66h0M214.65 231.66h0M220.53 231.66h0M226.41 231.66h0M232.29 231.66h0M238.16 231.66h0M244.04 231.66h0M261.68 231.66h0M279.31 231.66h0M285.19 231.66h0M291.07 231.66h0M296.95 231.66h0M302.83 231.66h0M308.71 231.66h0M314.59 231.66h0M320.47 231.66h0M326.34 231.66h0M338.1 231.66h0M343.98 231.66h0M349.86 231.66h0M355.74 231.66h0M361.62 231.66h0M373.37 231.66h0M379.25 231.66h0M385.13 231.66h0M396.89 231.66h0M408.65 231.66h0M432.16 231.66h0M79.44 238.19h0M85.32 238.19h0M91.2 238.19h0M97.08 238.19h0M102.95 238.19h0M108.83 238.19h0M138.23 238.19h0M144.1 238.19h0M155.86 238.19h0M161.74 238.19h0M167.62 238.19h0M173.5 238.19h0M179.38 238.19h0M185.26 238.19h0M191.13 238.19h0M197.01 238.19h0M202.89 238.19h0M208.77 238.19h0M214.65 238.19h0M220.53 238.19h0M226.41 238.19h0M232.29 238.19h0M238.16 238.19h0M244.04 238.19h0M249.92 238.19h0M267.56 238.19h0M273.44 238.19h0M279.31 238.19h0M285.19 238.19h0M291.07 238.19h0M296.95 238.19h0M302.83 238.19h0M308.71 238.19h0M314.59 238.19h0M320.47 238.19h0M326.34 238.19h0M338.1 238.19h0M343.98 238.19h0M355.74 238.19h0M361.62 238.19h0M373.37 238.19h0M379.25 238.19h0M385.13 238.19h0M396.89 238.19h0M402.77 238.19h0M408.65 238.19h0M426.28 238.19h0M432.16 238.19h0M79.44 244.72h0M85.32 244.72h0M91.2 244.72h0M97.08 244.72h0M102.95 244.72h0M108.83 244.72h0M138.23 244.72h0M144.1 244.72h0M155.86 244.72h0M161.74 244.72h0M167.62 244.72h0M173.5 244.72h0M179.38 244.72h0M185.26 244.72h0M191.13 244.72h0M197.01 244.72h0M202.89 244.72h0M208.77 244.72h0M214.65 244.72h0M220.53 244.72h0M226.41 244.72h0M232.29 244.72h0M238.16 244.72h0M244.04 244.72h0M279.31 244.72h0M285.19 244.72h0M291.07 244.72h0M296.95 244.72h0M302.83 244.72h0M308.71 244.72h0M314.59 244.72h0M320.47 244.72h0M326.34 244.72h0M338.1 244.72h0M343.98 244.72h0M349.86 244.72h0M355.74 244.72h0M361.62 244.72h0M373.37 244.72h0M379.25 244.72h0M385.13 244.72h0M396.89 244.72h0M402.77 244.72h0M408.65 244.72h0M426.28 244.72h0M432.16 244.72h0M79.44 251.25h0M85.32 251.25h0M91.2 251.25h0M97.08 251.25h0M102.95 251.25h0M108.83 251.25h0M138.23 251.25h0M144.1 251.25h0M149.98 251.25h0M155.86 251.25h0M167.62 251.25h0M173.5 251.25h0M179.38 251.25h0M185.26 251.25h0M191.13 251.25h0M197.01 251.25h0M202.89 251.25h0M208.77 251.25h0M214.65 251.25h0M220.53 251.25h0M232.29 251.25h0M238.16 251.25h0M244.04 251.25h0M261.68 251.25h0M267.56 251.25h0M273.44 251.25h0M279.31 251.25h0M285.19 251.25h0M291.07 251.25h0M296.95 251.25h0M302.83 251.25h0M308.71 251.25h0M320.47 251.25h0M326.34 251.25h0M338.1 251.25h0M343.98 251.25h0M355.74 251.25h0M361.62 251.25h0M373.37 251.25h0M379.25 251.25h0M385.13 251.25h0M391.01 251.25h0M396.89 251.25h0M402.77 251.25h0M408.65 251.25h0M426.28 251.25h0M432.16 251.25h0M79.44 257.78h0M85.32 257.78h0M138.23 257.78h0M144.1 257.78h0M185.26 257.78h0M197.01 257.78h0M226.41 257.78h0M238.16 257.78h0M244.04 257.78h0M249.92 257.78h0M267.56 257.78h0M273.44 257.78h0M279.31 257.78h0M285.19 257.78h0M291.07 257.78h0M296.95 257.78h0M302.83 257.78h0M308.71 257.78h0M314.59 257.78h0M326.34 257.78h0M349.86 257.78h0M396.89 257.78h0M408.65 257.78h0M420.4 257.78h0M79.44 264.3h0M85.32 264.3h0M91.2 264.3h0M97.08 264.3h0M108.83 264.3h0M114.71 264.3h0M138.23 264.3h0M144.1 264.3h0M149.98 264.3h0M161.74 264.3h0M185.26 264.3h0M191.13 264.3h0M197.01 264.3h0M226.41 264.3h0M244.04 264.3h0M249.92 264.3h0M255.8 264.3h0M267.56 264.3h0M273.44 264.3h0M279.31 264.3h0M285.19 264.3h0M291.07 264.3h0M296.95 264.3h0M308.71 264.3h0M314.59 264.3h0M326.34 264.3h0M349.86 264.3h0M391.01 264.3h0M420.4 264.3h0M79.44 270.83h0M85.32 270.83h0M91.2 270.83h0M97.08 270.83h0M102.95 270.83h0M108.83 270.83h0M114.71 270.83h0M120.59 270.83h0M126.47 270.83h0M132.35 270.83h0M138.23 270.83h0M144.1 270.83h0M149.98 270.83h0M155.86 270.83h0M161.74 270.83h0M167.62 270.83h0M173.5 270.83h0M185.26 270.83h0M191.13 270.83h0M197.01 270.83h0M202.89 270.83h0M208.77 270.83h0M214.65 270.83h0M220.53 270.83h0M232.29 270.83h0M238.16 270.83h0M244.04 270.83h0M249.92 270.83h0M255.8 270.83h0M261.68 270.83h0M267.56 270.83h0M273.44 270.83h0M285.19 270.83h0M291.07 270.83h0M296.95 270.83h0M302.83 270.83h0M320.47 270.83h0M332.22 270.83h0M338.1 270.83h0M343.98 270.83h0M349.86 270.83h0M355.74 270.83h0M361.62 270.83h0M373.37 270.83h0M379.25 270.83h0M385.13 270.83h0M396.89 270.83h0M402.77 270.83h0M408.65 270.83h0M420.4 270.83h0M426.28 270.83h0M432.16 270.83h0M91.2 277.36h0M97.08 277.36h0M138.23 277.36h0M155.86 277.36h0M191.13 277.36h0M197.01 277.36h0M214.65 277.36h0M232.29 277.36h0M244.04 277.36h0M267.56 277.36h0M273.44 277.36h0M285.19 277.36h0M291.07 277.36h0M296.95 277.36h0M302.83 277.36h0M308.71 277.36h0M314.59 277.36h0M326.34 277.36h0M332.22 277.36h0M355.74 277.36h0M367.5 277.36h0M379.25 277.36h0M385.13 277.36h0M391.01 277.36h0M396.89 277.36h0M432.16 277.36h0M149.98 283.89h0M155.86 283.89h0M267.56 283.89h0M320.47 283.89h0M326.34 283.89h0M332.22 283.89h0M343.98 283.89h0M349.86 283.89h0M79.44 290.42h0M85.32 290.42h0M91.2 290.42h0M97.08 290.42h0M102.95 290.42h0M108.83 290.42h0M114.71 290.42h0M120.59 290.42h0M126.47 290.42h0M132.35 290.42h0M138.23 290.42h0M144.1 290.42h0M149.98 290.42h0M155.86 290.42h0M161.74 290.42h0M167.62 290.42h0M173.5 290.42h0M185.26 290.42h0M191.13 290.42h0M197.01 290.42h0M202.89 290.42h0M208.77 290.42h0M214.65 290.42h0M220.53 290.42h0M226.41 290.42h0M232.29 290.42h0M238.16 290.42h0M244.04 290.42h0M249.92 290.42h0M255.8 290.42h0M261.68 290.42h0M267.56 290.42h0M273.44 290.42h0M279.31 290.42h0M285.19 290.42h0M291.07 290.42h0M296.95 290.42h0M302.83 290.42h0M320.47 290.42h0M338.1 290.42h0M343.98 290.42h0M349.86 290.42h0M355.74 290.42h0M361.62 290.42h0M367.5 290.42h0M373.37 290.42h0M379.25 290.42h0M385.13 290.42h0M396.89 290.42h0M432.16 290.42h0M79.44 296.95h0M85.32 296.95h0M91.2 296.95h0M97.08 296.95h0M102.95 296.95h0M108.83 296.95h0M114.71 296.95h0M120.59 296.95h0M126.47 296.95h0M132.35 296.95h0M138.23 296.95h0M144.1 296.95h0M155.86 296.95h0M161.74 296.95h0M167.62 296.95h0M173.5 296.95h0M179.38 296.95h0M185.26 296.95h0M191.13 296.95h0M197.01 296.95h0M202.89 296.95h0M208.77 296.95h0M214.65 296.95h0M220.53 296.95h0M226.41 296.95h0M232.29 296.95h0M238.16 296.95h0M244.04 296.95h0M249.92 296.95h0M255.8 296.95h0M261.68 296.95h0M267.56 296.95h0M273.44 296.95h0M285.19 296.95h0M291.07 296.95h0M296.95 296.95h0M302.83 296.95h0M320.47 296.95h0M332.22 296.95h0M338.1 296.95h0M343.98 296.95h0M349.86 296.95h0M355.74 296.95h0M361.62 296.95h0M367.5 296.95h0M373.37 296.95h0M379.25 296.95h0M385.13 296.95h0M396.89 296.95h0M420.4 296.95h0M432.16 296.95h0M79.44 303.48h0M85.32 303.48h0M91.2 303.48h0M97.08 303.48h0M102.95 303.48h0M108.83 303.48h0M114.71 303.48h0M120.59 303.48h0M126.47 303.48h0M132.35 303.48h0M138.23 303.48h0M144.1 303.48h0M155.86 303.48h0M161.74 303.48h0M167.62 303.48h0M173.5 303.48h0M179.38 303.48h0M185.26 303.48h0M191.13 303.48h0M197.01 303.48h0M202.89 303.48h0M208.77 303.48h0M214.65 303.48h0M220.53 303.48h0M226.41 303.48h0M232.29 303.48h0M238.16 303.48h0M244.04 303.48h0M249.92 303.48h0M255.8 303.48h0M261.68 303.48h0M267.56 303.48h0M273.44 303.48h0M285.19 303.48h0M296.95 303.48h0M308.71 303.48h0M314.59 303.48h0M320.47 303.48h0M332.22 303.48h0M338.1 303.48h0M343.98 303.48h0M349.86 303.48h0M355.74 303.48h0M361.62 303.48h0M367.5 303.48h0M373.37 303.48h0M379.25 303.48h0M385.13 303.48h0M396.89 303.48h0M414.52 303.48h0M426.28 303.48h0M432.16 303.48h0M79.44 310.01h0M85.32 310.01h0M91.2 310.01h0M97.08 310.01h0M102.95 310.01h0M108.83 310.01h0M114.71 310.01h0M120.59 310.01h0M126.47 310.01h0M132.35 310.01h0M138.23 310.01h0M144.1 310.01h0M155.86 310.01h0M161.74 310.01h0M167.62 310.01h0M173.5 310.01h0M179.38 310.01h0M185.26 310.01h0M191.13 310.01h0M197.01 310.01h0M202.89 310.01h0M208.77 310.01h0M214.65 310.01h0M220.53 310.01h0M226.41 310.01h0M232.29 310.01h0M238.16 310.01h0M244.04 310.01h0M249.92 310.01h0M255.8 310.01h0M261.68 310.01h0M267.56 310.01h0M273.44 310.01h0M285.19 310.01h0M291.07 310.01h0M296.95 310.01h0M302.83 310.01h0M320.47 310.01h0M326.34 310.01h0M338.1 310.01h0M343.98 310.01h0M349.86 310.01h0M355.74 310.01h0M361.62 310.01h0M367.5 310.01h0M373.37 310.01h0M379.25 310.01h0M385.13 310.01h0M396.89 310.01h0M432.16 310.01h0M79.44 316.54h0M85.32 316.54h0M91.2 316.54h0M97.08 316.54h0M102.95 316.54h0M108.83 316.54h0M138.23 316.54h0M144.1 316.54h0M155.86 316.54h0M167.62 316.54h0M173.5 316.54h0M185.26 316.54h0M191.13 316.54h0M197.01 316.54h0M202.89 316.54h0M214.65 316.54h0M220.53 316.54h0M232.29 316.54h0M238.16 316.54h0M244.04 316.54h0M267.56 316.54h0M273.44 316.54h0M285.19 316.54h0M291.07 316.54h0M296.95 316.54h0M302.83 316.54h0M320.47 316.54h0M338.1 316.54h0M343.98 316.54h0M349.86 316.54h0M355.74 316.54h0M361.62 316.54h0M367.5 316.54h0M373.37 316.54h0M379.25 316.54h0M385.13 316.54h0M396.89 316.54h0M402.77 316.54h0M408.65 316.54h0M432.16 316.54h0M79.44 323.07h0M91.2 323.07h0M97.08 323.07h0M155.86 323.07h0M173.5 323.07h0M191.13 323.07h0M197.01 323.07h0M326.34 323.07h0M338.1 323.07h0M343.98 323.07h0M349.86 323.07h0M355.74 323.07h0M361.62 323.07h0M367.5 323.07h0M79.44 329.6h0M85.32 329.6h0M91.2 329.6h0M97.08 329.6h0M102.95 329.6h0M108.83 329.6h0M138.23 329.6h0M144.1 329.6h0M155.86 329.6h0M167.62 329.6h0M173.5 329.6h0M185.26 329.6h0M191.13 329.6h0M197.01 329.6h0M202.89 329.6h0M214.65 329.6h0M220.53 329.6h0M232.29 329.6h0M238.16 329.6h0M244.04 329.6h0M249.92 329.6h0M261.68 329.6h0M267.56 329.6h0M273.44 329.6h0M279.31 329.6h0M285.19 329.6h0M291.07 329.6h0M296.95 329.6h0M302.83 329.6h0M320.47 329.6h0M338.1 329.6h0M343.98 329.6h0M349.86 329.6h0M355.74 329.6h0M361.62 329.6h0M373.37 329.6h0M379.25 329.6h0M385.13 329.6h0M396.89 329.6h0M402.77 329.6h0M432.16 329.6h0M79.44 336.13h0M85.32 336.13h0M91.2 336.13h0M97.08 336.13h0M102.95 336.13h0M108.83 336.13h0M138.23 336.13h0M144.1 336.13h0M155.86 336.13h0M167.62 336.13h0M173.5 336.13h0M185.26 336.13h0M191.13 336.13h0M197.01 336.13h0M202.89 336.13h0M208.77 336.13h0M214.65 336.13h0M220.53 336.13h0M232.29 336.13h0M238.16 336.13h0M244.04 336.13h0M249.92 336.13h0M255.8 336.13h0M261.68 336.13h0M267.56 336.13h0M273.44 336.13h0M279.31 336.13h0M285.19 336.13h0M291.07 336.13h0M296.95 336.13h0M302.83 336.13h0M320.47 336.13h0M326.34 336.13h0M338.1 336.13h0M343.98 336.13h0M349.86 336.13h0M355.74 336.13h0M361.62 336.13h0M373.37 336.13h0M379.25 336.13h0M385.13 336.13h0M391.01 336.13h0M396.89 336.13h0M420.4 336.13h0M432.16 336.13h0M79.44 342.66h0M85.32 342.66h0M91.2 342.66h0M97.08 342.66h0M102.95 342.66h0M108.83 342.66h0M138.23 342.66h0M144.1 342.66h0M155.86 342.66h0M167.62 342.66h0M173.5 342.66h0M185.26 342.66h0M191.13 342.66h0M197.01 342.66h0M202.89 342.66h0M208.77 342.66h0M214.65 342.66h0M220.53 342.66h0M232.29 342.66h0M238.16 342.66h0M244.04 342.66h0M261.68 342.66h0M267.56 342.66h0M273.44 342.66h0M285.19 342.66h0M291.07 342.66h0M296.95 342.66h0M302.83 342.66h0M320.47 342.66h0M326.34 342.66h0M338.1 342.66h0M343.98 342.66h0M349.86 342.66h0M355.74 342.66h0M361.62 342.66h0M373.37 342.66h0M379.25 342.66h0M385.13 342.66h0M396.89 342.66h0M420.4 342.66h0M432.16 342.66h0M149.98 349.19h0M155.86 349.19h0M232.29 349.19h0M244.04 349.19h0M267.56 349.19h0M273.44 349.19h0M302.83 349.19h0M314.59 349.19h0M326.34 349.19h0M379.25 349.19h0M391.01 349.19h0M396.89 349.19h0M402.77 349.19h0M408.65 349.19h0M414.52 349.19h0M432.16 349.19h0M79.44 355.72h0M85.32 355.72h0M91.2 355.72h0M97.08 355.72h0M102.95 355.72h0M108.83 355.72h0M114.71 355.72h0M120.59 355.72h0M126.47 355.72h0M132.35 355.72h0M138.23 355.72h0M144.1 355.72h0M155.86 355.72h0M167.62 355.72h0M173.5 355.72h0M185.26 355.72h0M191.13 355.72h0M197.01 355.72h0M202.89 355.72h0M208.77 355.72h0M214.65 355.72h0M220.53 355.72h0M226.41 355.72h0M232.29 355.72h0M238.16 355.72h0M244.04 355.72h0M249.92 355.72h0M255.8 355.72h0M261.68 355.72h0M267.56 355.72h0M273.44 355.72h0M279.31 355.72h0M285.19 355.72h0M291.07 355.72h0M296.95 355.72h0M302.83 355.72h0M308.71 355.72h0M320.47 355.72h0M326.34 355.72h0M338.1 355.72h0M343.98 355.72h0M349.86 355.72h0M355.74 355.72h0M361.62 355.72h0M373.37 355.72h0M379.25 355.72h0M385.13 355.72h0M391.01 355.72h0M396.89 355.72h0M402.77 355.72h0M408.65 355.72h0M420.4 355.72h0M432.16 355.72h0M79.44 362.25h0M85.32 362.25h0M291.07 362.25h0M296.95 362.25h0M302.83 362.25h0M320.47 362.25h0M361.62 362.25h0M373.37 362.25h0M391.01 362.25h0M396.89 362.25h0M402.77 362.25h0M408.65 362.25h0M426.28 362.25h0M79.44 368.78h0M85.32 368.78h0M149.98 368.78h0M197.01 368.78h0M214.65 368.78h0M244.04 368.78h0M285.19 368.78h0M291.07 368.78h0M296.95 368.78h0M302.83 368.78h0M308.71 368.78h0M320.47 368.78h0M361.62 368.78h0M391.01 368.78h0M396.89 368.78h0M402.77 368.78h0M408.65 368.78h0M420.4 368.78h0M426.28 368.78h0M102.95 375.31h0M108.83 375.31h0M114.71 375.31h0M120.59 375.31h0M126.47 375.31h0M132.35 375.31h0M161.74 375.31h0M167.62 375.31h0M173.5 375.31h0M179.38 375.31h0M202.89 375.31h0M220.53 375.31h0M249.92 375.31h0M255.8 375.31h0M261.68 375.31h0M279.31 375.31h0M349.86 375.31h0M391.01 375.31h0M414.52 375.31h0M108.83 381.84h0M114.71 381.84h0M120.59 381.84h0M126.47 381.84h0M132.35 381.84h0M149.98 381.84h0M155.86 381.84h0M161.74 381.84h0M167.62 381.84h0M173.5 381.84h0M179.38 381.84h0M185.26 381.84h0M214.65 381.84h0M220.53 381.84h0M226.41 381.84h0M232.29 381.84h0M238.16 381.84h0M244.04 381.84h0M249.92 381.84h0M255.8 381.84h0M261.68 381.84h0M267.56 381.84h0M273.44 381.84h0M308.71 381.84h0M314.59 381.84h0M320.47 381.84h0M343.98 381.84h0M379.25 381.84h0M385.13 381.84h0M396.89 381.84h0M408.65 381.84h0M420.4 381.84h0M426.28 381.84h0M432.16 381.84h0M79.44 388.38h0M85.32 388.38h0M91.2 388.38h0M97.08 388.38h0M149.98 388.38h0M155.86 388.38h0M191.13 388.38h0M197.01 388.38h0M214.65 388.38h0M232.29 388.38h0M238.16 388.38h0M244.04 388.38h0M291.07 388.38h0M296.95 388.38h0M302.83 388.38h0M320.47 388.38h0M349.86 388.38h0M402.77 388.38h0M408.65 388.38h0M420.4 388.38h0M426.28 388.38h0M432.16 388.38h0M79.44 394.9h0M85.32 394.9h0M91.2 394.9h0M97.08 394.9h0M102.95 394.9h0M108.83 394.9h0M114.71 394.9h0M120.59 394.9h0M126.47 394.9h0M132.35 394.9h0M138.23 394.9h0M144.1 394.9h0M155.86 394.9h0M161.74 394.9h0M167.62 394.9h0M173.5 394.9h0M179.38 394.9h0M185.26 394.9h0M191.13 394.9h0M197.01 394.9h0M202.89 394.9h0M208.77 394.9h0M214.65 394.9h0M220.53 394.9h0M226.41 394.9h0M232.29 394.9h0M238.16 394.9h0M244.04 394.9h0M249.92 394.9h0M255.8 394.9h0M261.68 394.9h0M267.56 394.9h0M273.44 394.9h0M279.31 394.9h0M285.19 394.9h0M291.07 394.9h0M296.95 394.9h0M302.83 394.9h0M320.47 394.9h0M326.34 394.9h0M338.1 394.9h0M343.98 394.9h0M349.86 394.9h0M355.74 394.9h0M361.62 394.9h0M373.37 394.9h0M379.25 394.9h0M385.13 394.9h0M391.01 394.9h0M396.89 394.9h0M420.4 394.9h0M426.28 394.9h0M432.16 394.9h0" stroke="#140404" stroke-width="2.25" stroke-linecap="round" fill="none"/>
<g font-family="Liberation Sans, sans-serif" font-size="6.1" fill="#1a1a1a" stroke="#1a1a1a" stroke-width="0.08" text-anchor="end">
<text x="72.5" y="4.41">Extremely large VLDL</text>
<text x="72.5" y="10.94">Very large VLDL</text>
<text x="72.5" y="17.46">Large VLDL</text>
<text x="72.5" y="24.00">Medium VLDL</text>
<text x="72.5" y="30.53">Small VLDL</text>
<text x="72.5" y="37.05">Very small VLDL</text>
<text x="72.5" y="43.59">IDL</text>
<text x="72.5" y="50.12">Large LDL</text>
<text x="72.5" y="56.65">Medium LDL</text>
<text x="72.5" y="63.18">Small LDL</text>
<text x="72.5" y="69.70">Very large HDL</text>
<text x="72.5" y="76.23">Large HDL</text>
<text x="72.5" y="82.77">Medium HDL</text>
<text x="72.5" y="89.30">Small HDL</text>
<text x="72.5" y="95.83">Total C</text>
<text x="72.5" y="102.36">Remnant C</text>
<text x="72.5" y="108.89">VLDL C</text>
<text x="72.5" y="115.42">LDL C</text>
<text x="72.5" y="121.95">HDL C</text>
<text x="72.5" y="128.48">Total TG</text>
<text x="72.5" y="135.00">VLDL TG</text>
<text x="72.5" y="141.53">IDL TG</text>
<text x="72.5" y="148.06">LDL TG</text>
<text x="72.5" y="154.59">HDL TG</text>
<text x="72.5" y="161.12">Apolipoprotein B</text>
<text x="72.5" y="167.66">Apolipoprotein A−I</text>
<text x="72.5" y="174.19">Total fatty acids</text>
<text x="72.5" y="180.72">Saturated fatty acids</text>
<text x="72.5" y="187.25">MUFA</text>
<text x="72.5" y="193.78">PUFA</text>
<text x="72.5" y="200.31">Omega−6 fatty acids</text>
<text x="72.5" y="206.84">Linoleic acid</text>
<text x="72.5" y="213.37">Omega−3 fatty acids</text>
<text x="72.5" y="219.90">Docosahexaenoic acid</text>
<text x="72.5" y="226.43">Saturated fatty acids (%)</text>
<text x="72.5" y="232.96">MUFA (%)</text>
<text x="72.5" y="239.49">PUFA (%)</text>
<text x="72.5" y="246.02">Omega−6 fatty acids (%)</text>
<text x="72.5" y="252.55">Linoleic acid (%)</text>
<text x="72.5" y="259.08">Omega−3 fatty acids (%)</text>
<text x="72.5" y="265.60">Docosahexaenoic acid (%)</text>
<text x="72.5" y="272.13">Alanine</text>
<text x="72.5" y="278.66">Glutamine</text>
<text x="72.5" y="285.19">Glycine</text>
<text x="72.5" y="291.72">Isoleucine</text>
<text x="72.5" y="298.25">Leucine</text>
<text x="72.5" y="304.78">Valine</text>
<text x="72.5" y="311.31">Phenylalanine</text>
<text x="72.5" y="317.84">Tyrosine</text>
<text x="72.5" y="324.38">Histidine</text>
<text x="72.5" y="330.90">Glucose</text>
<text x="72.5" y="337.44">Lactate</text>
<text x="72.5" y="343.96">Pyruvate</text>
<text x="72.5" y="350.50">Citrate</text>
<text x="72.5" y="357.02">Glycerol</text>
<text x="72.5" y="363.56">Acetoacetate</text>
<text x="72.5" y="370.08">Beta−hydroxybutyrate</text>
<text x="72.5" y="376.62">Creatinine</text>
<text x="72.5" y="383.14">Albumin</text>
<text x="72.5" y="389.68">Acetate</text>
<text x="72.5" y="396.20">GlycA</text>
</g>
<g font-family="Liberation Sans, sans-serif" font-size="6.1" fill="#1a1a1a" stroke="#1a1a1a" stroke-width="0.08" text-anchor="end">
<text transform="translate(81.34,401.20) rotate(-90)">Extremely large VLDL</text>
<text transform="translate(87.22,401.20) rotate(-90)">Very large VLDL</text>
<text transform="translate(93.10,401.20) rotate(-90)">Large VLDL</text>
<text transform="translate(98.98,401.20) rotate(-90)">Medium VLDL</text>
<text transform="translate(104.85,401.20) rotate(-90)">Small VLDL</text>
<text transform="translate(110.73,401.20) rotate(-90)">Very small VLDL</text>
<text transform="translate(116.61,401.20) rotate(-90)">IDL</text>
<text transform="translate(122.49,401.20) rotate(-90)">Large LDL</text>
<text transform="translate(128.37,401.20) rotate(-90)">Medium LDL</text>
<text transform="translate(134.25,401.20) rotate(-90)">Small LDL</text>
<text transform="translate(140.13,401.20) rotate(-90)">Very large HDL</text>
<text transform="translate(146.00,401.20) rotate(-90)">Large HDL</text>
<text transform="translate(151.88,401.20) rotate(-90)">Medium HDL</text>
<text transform="translate(157.76,401.20) rotate(-90)">Small HDL</text>
<text transform="translate(163.64,401.20) rotate(-90)">Total C</text>
<text transform="translate(169.52,401.20) rotate(-90)">Remnant C</text>
<text transform="translate(175.40,401.20) rotate(-90)">VLDL C</text>
<text transform="translate(181.28,401.20) rotate(-90)">LDL C</text>
<text transform="translate(187.16,401.20) rotate(-90)">HDL C</text>
<text transform="translate(193.03,401.20) rotate(-90)">Total TG</text>
<text transform="translate(198.91,401.20) rotate(-90)">VLDL TG</text>
<text transform="translate(204.79,401.20) rotate(-90)">IDL TG</text>
<text transform="translate(210.67,401.20) rotate(-90)">LDL TG</text>
<text transform="translate(216.55,401.20) rotate(-90)">HDL TG</text>
<text transform="translate(222.43,401.20) rotate(-90)">Apolipoprotein B</text>
<text transform="translate(228.31,401.20) rotate(-90)">Apolipoprotein A−I</text>
<text transform="translate(234.19,401.20) rotate(-90)">Total fatty acids</text>
<text transform="translate(240.06,401.20) rotate(-90)">Saturated fatty acids</text>
<text transform="translate(245.94,401.20) rotate(-90)">MUFA</text>
<text transform="translate(251.82,401.20) rotate(-90)">PUFA</text>
<text transform="translate(257.70,401.20) rotate(-90)">Omega−6 fatty acids</text>
<text transform="translate(263.58,401.20) rotate(-90)">Linoleic acid</text>
<text transform="translate(269.46,401.20) rotate(-90)">Omega−3 fatty acids</text>
<text transform="translate(275.34,401.20) rotate(-90)">Docosahexaenoic acid</text>
<text transform="translate(281.21,401.20) rotate(-90)">Saturated fatty acids (%)</text>
<text transform="translate(287.09,401.20) rotate(-90)">MUFA (%)</text>
<text transform="translate(292.97,401.20) rotate(-90)">PUFA (%)</text>
<text transform="translate(298.85,401.20) rotate(-90)">Omega−6 fatty acids (%)</text>
<text transform="translate(304.73,401.20) rotate(-90)">Linoleic acid (%)</text>
<text transform="translate(310.61,401.20) rotate(-90)">Omega−3 fatty acids (%)</text>
<text transform="translate(316.49,401.20) rotate(-90)">Docosahexaenoic acid (%)</text>
<text transform="translate(322.37,401.20) rotate(-90)">Alanine</text>
<text transform="translate(328.24,401.20) rotate(-90)">Glutamine</text>
<text transform="translate(334.12,401.20) rotate(-90)">Glycine</text>
<text transform="translate(340.00,401.20) rotate(-90)">Isoleucine</text>
<text transform="translate(345.88,401.20) rotate(-90)">Leucine</text>
<text transform="translate(351.76,401.20) rotate(-90)">Valine</text>
<text transform="translate(357.64,401.20) rotate(-90)">Phenylalanine</text>
<text transform="translate(363.52,401.20) rotate(-90)">Tyrosine</text>
<text transform="translate(369.40,401.20) rotate(-90)">Histidine</text>
<text transform="translate(375.27,401.20) rotate(-90)">Glucose</text>
<text transform="translate(381.15,401.20) rotate(-90)">Lactate</text>
<text transform="translate(387.03,401.20) rotate(-90)">Pyruvate</text>
<text transform="translate(392.91,401.20) rotate(-90)">Citrate</text>
<text transform="translate(398.79,401.20) rotate(-90)">Glycerol</text>
<text transform="translate(404.67,401.20) rotate(-90)">Acetoacetate</text>
<text transform="translate(410.55,401.20) rotate(-90)">Beta−hydroxybutyrate</text>
<text transform="translate(416.42,401.20) rotate(-90)">Creatinine</text>
<text transform="translate(422.30,401.20) rotate(-90)">Albumin</text>
<text transform="translate(428.18,401.20) rotate(-90)">Acetate</text>
<text transform="translate(434.06,401.20) rotate(-90)">GlycA</text>
</g>
<g font-family="Liberation Sans, sans-serif" font-size="7.25" font-weight="bold" fill="#1a1a1a">
<text x="439.2" y="5.40">Lipoprotein subclass</text>
<text x="439.2" y="14.30">particle concentrations</text>
<text x="439.2" y="97.28">Cholesterol</text>
<text x="439.2" y="129.93">Triglycerides</text>
<text x="439.2" y="162.57">Apolipoproteins</text>
<text x="439.2" y="175.63">Fatty acids</text>
<text x="439.2" y="227.88">Fatty acid ratios</text>
<text x="439.2" y="273.58">Amino acids</text>
<text x="439.2" y="330.80">Glycolysis and</text>
<text x="439.2" y="339.80">gluconeogenesis</text>
<text x="439.2" y="365.00">Ketone bodies</text>
<text x="439.2" y="378.06">Miscellaneous</text>
<text x="439.2" y="397.65">Inflammation</text>
</g>
<defs><linearGradient id="cb" x1="0" x2="1" y1="0" y2="0">
<stop offset="0.0000" stop-color="#3c50a8"/>
<stop offset="0.0250" stop-color="#3856ac"/>
<stop offset="0.0500" stop-color="#355cb0"/>
<stop offset="0.0750" stop-color="#3162b4"/>
<stop offset="0.1000" stop-color="#2e68b8"/>
<stop offset="0.1250" stop-color="#2a6ebc"/>
<stop offset="0.1500" stop-color="#2876c1"/>
<stop offset="0.1750" stop-color="#257fc6"/>
<stop offset="0.2000" stop-color="#2387cc"/>
<stop offset="0.2250" stop-color="#2090d1"/>
<stop offset="0.2500" stop-color="#1e98d6"/>
<stop offset="0.2750" stop-color="#25a5de"/>
<stop offset="0.3000" stop-color="#2db1e5"/>
<stop offset="0.3250" stop-color="#34beed"/>
<stop offset="0.3500" stop-color="#51c5ef"/>
<stop offset="0.3750" stop-color="#6fcdf0"/>
<stop offset="0.4000" stop-color="#8cd4f2"/>
<stop offset="0.4250" stop-color="#a9ddf4"/>
<stop offset="0.4500" stop-color="#c6e6f5"/>
<stop offset="0.4750" stop-color="#dfebf2"/>
<stop offset="0.5000" stop-color="#f8f0ee"/>
<stop offset="0.5250" stop-color="#f8e2db"/>
<stop offset="0.5500" stop-color="#f8d4c8"/>
<stop offset="0.5750" stop-color="#f7c4b4"/>
<stop offset="0.6000" stop-color="#f6b4a0"/>
<stop offset="0.6250" stop-color="#f5a58d"/>
<stop offset="0.6500" stop-color="#f4967a"/>
<stop offset="0.6750" stop-color="#f38b6e"/>
<stop offset="0.7000" stop-color="#f28062"/>
<stop offset="0.7250" stop-color="#f17658"/>
<stop offset="0.7500" stop-color="#f06c4e"/>
<stop offset="0.7750" stop-color="#ef6448"/>
<stop offset="0.8000" stop-color="#ee5c42"/>
<stop offset="0.8250" stop-color="#ed553f"/>
<stop offset="0.8500" stop-color="#ec4e3c"/>
<stop offset="0.8750" stop-color="#ec473b"/>
<stop offset="0.9000" stop-color="#eb403a"/>
<stop offset="0.9250" stop-color="#ea3c3a"/>
<stop offset="0.9500" stop-color="#ea383a"/>
<stop offset="0.9750" stop-color="#e83439"/>
<stop offset="1.0000" stop-color="#e63038"/>
</linearGradient></defs>
<rect x="76.3" y="486.5" width="179.90" height="13.20" fill="url(#cb)"/>
<rect x="76.3" y="498.30" width="179.90" height="1.4" fill="#000" fill-opacity="0.3"/>
<rect x="75.80" y="498.50" width="1" height="1.2" fill="#333"/>
<text x="76.30" y="509.1" font-family="Liberation Sans, sans-serif" font-size="6.8" fill="#333" text-anchor="middle">−1.0</text>
<rect x="120.77" y="498.50" width="1" height="1.2" fill="#333"/>
<text x="121.27" y="509.1" font-family="Liberation Sans, sans-serif" font-size="6.8" fill="#333" text-anchor="middle">−0.5</text>
<rect x="165.75" y="498.50" width="1" height="1.2" fill="#333"/>
<text x="166.25" y="509.1" font-family="Liberation Sans, sans-serif" font-size="6.8" fill="#333" text-anchor="middle">0.0</text>
<rect x="210.72" y="498.50" width="1" height="1.2" fill="#333"/>
<text x="211.22" y="509.1" font-family="Liberation Sans, sans-serif" font-size="6.8" fill="#333" text-anchor="middle">0.5</text>
<rect x="255.70" y="498.50" width="1" height="1.2" fill="#333"/>
<text x="256.20" y="509.1" font-family="Liberation Sans, sans-serif" font-size="6.8" fill="#333" text-anchor="middle">1.0</text>
<text x="76.4" y="481.6" font-family="Liberation Sans, sans-serif" font-size="7.3" fill="#1a1a1a">Pearson&#39;s r</text>
<text x="408.3" y="497.2" font-family="Liberation Sans, sans-serif" font-size="9.3" fill="#1a1a1a">*: P &lt; 0.002</text>
</g>
</svg>
</body></html>
